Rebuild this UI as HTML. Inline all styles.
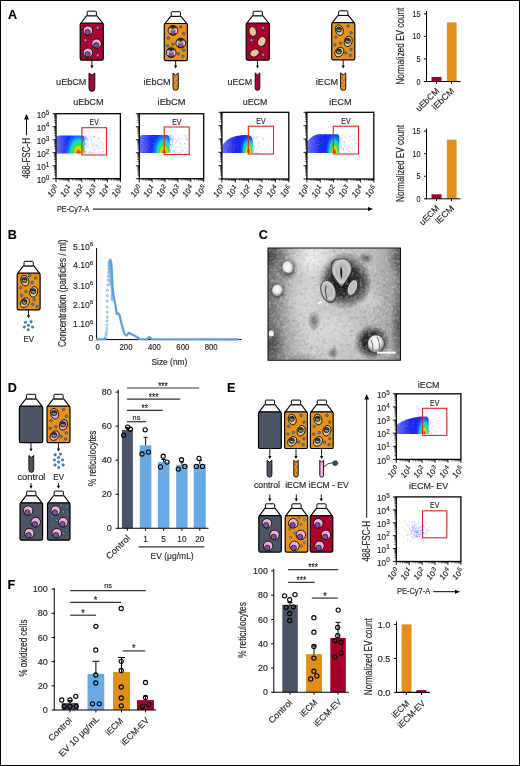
<!DOCTYPE html>
<html><head><meta charset="utf-8"><style>
html,body{margin:0;padding:0;background:#fff;}
body{width:520px;height:766px;overflow:hidden;font-family:"Liberation Sans", sans-serif;}
svg{display:block;will-change:transform;}
svg text{stroke:#231f20;stroke-width:0.15px;}
</style></head><body>
<svg width="520" height="766" viewBox="0 0 520 766" font-family='"Liberation Sans", sans-serif' fill="#231f20">
<rect x="0" y="0" width="520" height="766" fill="#fff"/>
<defs><filter id="speck" x="0" y="0" width="1" height="1"><feTurbulence type="fractalNoise" baseFrequency="0.9" numOctaves="1" seed="2"/><feColorMatrix type="matrix" values="0 0 0 0 1  0 0 0 0 1  0 0 0 0 1  0 0 0 2.2 -1.25"/></filter></defs>
<text x="8.1" y="18.5" font-size="12.6" font-weight="bold" fill="#000">A</text>
<path d="M80.5 23.5L86.55 15.8L96.95 15.8L103 23.5Z" fill="#fff" stroke="#000" stroke-width="1.1" stroke-linejoin="round"/>
<rect x="87.15" y="11.2" width="9.2" height="4.6" fill="#fff" stroke="#000" stroke-width="1" rx="0.8"/>
<rect x="80.2" y="23" width="23.1" height="37.2" fill="#b0002e" stroke="#000" stroke-width="1.2" rx="1.6"/>
<circle cx="87.9" cy="30.7" r="4.8" fill="#f2aed6" stroke="#111" stroke-width="1"/>
<circle cx="87.6" cy="32.2" r="2.64" fill="#7b53a8" stroke="#111" stroke-width="0.8"/>
<circle cx="96.5" cy="43.7" r="4.8" fill="#f2aed6" stroke="#111" stroke-width="1"/>
<circle cx="96.2" cy="45.2" r="2.64" fill="#7b53a8" stroke="#111" stroke-width="0.8"/>
<circle cx="87.9" cy="52.8" r="4.8" fill="#f2aed6" stroke="#111" stroke-width="1"/>
<circle cx="87.6" cy="54.3" r="2.64" fill="#7b53a8" stroke="#111" stroke-width="0.8"/>
<circle cx="97.7" cy="27.8" r="1.3" fill="#5cc4f2" stroke="#1a1a1a" stroke-width="0.45"/>
<circle cx="85.5" cy="40.3" r="1.3" fill="#5cc4f2" stroke="#1a1a1a" stroke-width="0.45"/>
<circle cx="97.7" cy="55.2" r="1.3" fill="#5cc4f2" stroke="#1a1a1a" stroke-width="0.45"/>
<line x1="91.9" y1="60.2" x2="91.9" y2="66" stroke="#000" stroke-width="0.9"/>
<path d="M90.3 65.6L93.5 65.6L91.9 68.6Z" fill="#000"/>
<path d="M89 73.1L91.9 75.1L94.8 73.1L94.8 88.4A2.9 2.9 0 0 1 89 88.4Z" fill="#b0002e" stroke="#111" stroke-width="1.0" stroke-linejoin="round"/>
<circle cx="91.1" cy="77" r="0.6" fill="#4a5a9a"/>
<circle cx="92.7" cy="80" r="0.6" fill="#4a5a9a"/>
<circle cx="91.1" cy="83" r="0.6" fill="#4a5a9a"/>
<circle cx="92.7" cy="86" r="0.6" fill="#4a5a9a"/>
<circle cx="91.1" cy="89" r="0.6" fill="#4a5a9a"/>
<text x="86.4" y="85" font-size="8.9" text-anchor="end" textLength="30.3" lengthAdjust="spacingAndGlyphs">uEbCM</text>
<path d="M164.6 24L170.65 16.3L181.05 16.3L187.1 24Z" fill="#fff" stroke="#000" stroke-width="1.1" stroke-linejoin="round"/>
<rect x="171.25" y="11.7" width="9.2" height="4.6" fill="#fff" stroke="#000" stroke-width="1" rx="0.8"/>
<rect x="164.3" y="23.5" width="23.1" height="37.2" fill="#ea9218" stroke="#000" stroke-width="1.2" rx="1.6"/>
<circle cx="173" cy="30.4" r="4.9" fill="#2a2040" stroke="#111" stroke-width="0.9"/>
<ellipse cx="169.96" cy="30.6" rx="1.37" ry="2.7" fill="#f2aed6"/>
<ellipse cx="176.04" cy="30.6" rx="1.37" ry="2.7" fill="#f2aed6"/>
<circle cx="173" cy="31.62" r="2.55" fill="#7b53a8"/>
<path d="M170.94 27.7A2.06 2.06 0 0 0 175.06 27.7" stroke="#8cc63f" stroke-width="1.5" fill="none"/>
<circle cx="180.8" cy="43.1" r="4.9" fill="#2a2040" stroke="#111" stroke-width="0.9"/>
<ellipse cx="177.76" cy="43.3" rx="1.37" ry="2.7" fill="#f2aed6"/>
<ellipse cx="183.84" cy="43.3" rx="1.37" ry="2.7" fill="#f2aed6"/>
<circle cx="180.8" cy="44.33" r="2.55" fill="#7b53a8"/>
<path d="M178.74 40.41A2.06 2.06 0 0 0 182.86 40.41" stroke="#8cc63f" stroke-width="1.5" fill="none"/>
<circle cx="171.2" cy="52.6" r="4.9" fill="#2a2040" stroke="#111" stroke-width="0.9"/>
<ellipse cx="168.16" cy="52.8" rx="1.37" ry="2.7" fill="#f2aed6"/>
<ellipse cx="174.24" cy="52.8" rx="1.37" ry="2.7" fill="#f2aed6"/>
<circle cx="171.2" cy="53.83" r="2.55" fill="#7b53a8"/>
<path d="M169.14 49.91A2.06 2.06 0 0 0 173.26 49.91" stroke="#8cc63f" stroke-width="1.5" fill="none"/>
<circle cx="180.8" cy="27" r="1.3" fill="#3b8fd9" stroke="#1a1a1a" stroke-width="0.45"/>
<circle cx="183.7" cy="33.7" r="1.3" fill="#3b8fd9" stroke="#1a1a1a" stroke-width="0.45"/>
<circle cx="168.3" cy="38" r="1.3" fill="#3b8fd9" stroke="#1a1a1a" stroke-width="0.45"/>
<circle cx="173.1" cy="44.2" r="1.3" fill="#3b8fd9" stroke="#1a1a1a" stroke-width="0.45"/>
<circle cx="167.6" cy="45.7" r="1.3" fill="#3b8fd9" stroke="#1a1a1a" stroke-width="0.45"/>
<circle cx="183.7" cy="50.3" r="1.3" fill="#3b8fd9" stroke="#1a1a1a" stroke-width="0.45"/>
<circle cx="178.4" cy="53.9" r="1.3" fill="#3b8fd9" stroke="#1a1a1a" stroke-width="0.45"/>
<circle cx="182.9" cy="56.3" r="1.3" fill="#3b8fd9" stroke="#1a1a1a" stroke-width="0.45"/>
<line x1="175.65" y1="60.7" x2="175.65" y2="66" stroke="#000" stroke-width="0.9"/>
<path d="M174.05 65.6L177.25 65.6L175.65 68.6Z" fill="#000"/>
<path d="M173 73.2L175.65 75.2L178.3 73.2L178.3 87.65A2.65 2.65 0 0 1 173 87.65Z" fill="#ea9218" stroke="#111" stroke-width="1.0" stroke-linejoin="round"/>
<circle cx="174.85" cy="77" r="0.6" fill="#3a3550"/>
<circle cx="176.45" cy="80" r="0.6" fill="#3a3550"/>
<circle cx="174.85" cy="83" r="0.6" fill="#3a3550"/>
<circle cx="176.45" cy="86" r="0.6" fill="#3a3550"/>
<text x="170.5" y="85" font-size="8.9" text-anchor="end" textLength="27" lengthAdjust="spacingAndGlyphs">iEbCM</text>
<path d="M246.5 23.5L252.55 15.8L262.95 15.8L269 23.5Z" fill="#fff" stroke="#000" stroke-width="1.1" stroke-linejoin="round"/>
<rect x="253.15" y="11.2" width="9.2" height="4.6" fill="#fff" stroke="#000" stroke-width="1" rx="0.8"/>
<rect x="246.2" y="23" width="23.1" height="37.2" fill="#b0002e" stroke="#000" stroke-width="1.2" rx="1.6"/>
<ellipse cx="252.7" cy="31.5" rx="3.7" ry="5" fill="#e8c497" stroke="#111" stroke-width="0.9" transform="rotate(-15 252.7 31.5)"/>
<ellipse cx="261.8" cy="41.5" rx="4" ry="5.2" fill="#e8c497" stroke="#111" stroke-width="0.9" transform="rotate(25 261.8 41.5)"/>
<ellipse cx="254.6" cy="53" rx="4.8" ry="3.7" fill="#e8c497" stroke="#111" stroke-width="0.9" transform="rotate(-25 254.6 53)"/>
<circle cx="263.3" cy="27.8" r="1.3" fill="#5cc4f2" stroke="#1a1a1a" stroke-width="0.45"/>
<circle cx="251.4" cy="40.2" r="1.3" fill="#5cc4f2" stroke="#1a1a1a" stroke-width="0.45"/>
<circle cx="263.1" cy="54.9" r="1.3" fill="#5cc4f2" stroke="#1a1a1a" stroke-width="0.45"/>
<line x1="257.5" y1="60.2" x2="257.5" y2="66" stroke="#000" stroke-width="0.9"/>
<path d="M255.9 65.6L259.1 65.6L257.5 68.6Z" fill="#000"/>
<path d="M255.2 72.9L257.5 74.9L259.8 72.9L259.8 88A2.3 2.3 0 0 1 255.2 88Z" fill="#b0002e" stroke="#111" stroke-width="1.0" stroke-linejoin="round"/>
<circle cx="256.7" cy="77" r="0.6" fill="#4a5a9a"/>
<circle cx="258.3" cy="80" r="0.6" fill="#4a5a9a"/>
<circle cx="256.7" cy="83" r="0.6" fill="#4a5a9a"/>
<circle cx="258.3" cy="86" r="0.6" fill="#4a5a9a"/>
<text x="252.2" y="85" font-size="8.9" text-anchor="end" textLength="24.7" lengthAdjust="spacingAndGlyphs">uECM</text>
<path d="M332 23.1L338.05 15.4L348.45 15.4L354.5 23.1Z" fill="#fff" stroke="#000" stroke-width="1.1" stroke-linejoin="round"/>
<rect x="338.65" y="10.8" width="9.2" height="4.6" fill="#fff" stroke="#000" stroke-width="1" rx="0.8"/>
<rect x="331.7" y="22.6" width="23.1" height="37.2" fill="#ea9218" stroke="#000" stroke-width="1.2" rx="1.6"/>
<ellipse cx="339.3" cy="30.2" rx="3.9" ry="5.4" fill="#e8c497" stroke="#111" stroke-width="0.9" transform="rotate(-18 339.3 30.2)"/>
<circle cx="338.9" cy="29.5" r="2.7" fill="#2f2d40" stroke="#111" stroke-width="0.5"/>
<path d="M337.4 29.4A1.7 1.7 0 0 0 340.4 29.9" stroke="#8cc63f" stroke-width="1.4" fill="none"/>
<ellipse cx="348.2" cy="41.4" rx="3.9" ry="5.4" fill="#e8c497" stroke="#111" stroke-width="0.9" transform="rotate(18 348.2 41.4)"/>
<circle cx="347.8" cy="40.7" r="2.7" fill="#2f2d40" stroke="#111" stroke-width="0.5"/>
<path d="M346.3 40.6A1.7 1.7 0 0 0 349.3 41.1" stroke="#8cc63f" stroke-width="1.4" fill="none"/>
<ellipse cx="339.3" cy="52.1" rx="4" ry="5.3" fill="#e8c497" stroke="#111" stroke-width="0.9" transform="rotate(40 339.3 52.1)"/>
<circle cx="338.9" cy="51.4" r="2.7" fill="#2f2d40" stroke="#111" stroke-width="0.5"/>
<path d="M337.4 51.3A1.7 1.7 0 0 0 340.4 51.8" stroke="#8cc63f" stroke-width="1.4" fill="none"/>
<circle cx="348.2" cy="26.1" r="1.3" fill="#3b8fd9" stroke="#1a1a1a" stroke-width="0.45"/>
<circle cx="351.1" cy="32.8" r="1.3" fill="#3b8fd9" stroke="#1a1a1a" stroke-width="0.45"/>
<circle cx="335.7" cy="37.1" r="1.3" fill="#3b8fd9" stroke="#1a1a1a" stroke-width="0.45"/>
<circle cx="340.5" cy="43.3" r="1.3" fill="#3b8fd9" stroke="#1a1a1a" stroke-width="0.45"/>
<circle cx="335" cy="44.8" r="1.3" fill="#3b8fd9" stroke="#1a1a1a" stroke-width="0.45"/>
<circle cx="351.1" cy="49.4" r="1.3" fill="#3b8fd9" stroke="#1a1a1a" stroke-width="0.45"/>
<circle cx="345.8" cy="53" r="1.3" fill="#3b8fd9" stroke="#1a1a1a" stroke-width="0.45"/>
<circle cx="350.3" cy="55.4" r="1.3" fill="#3b8fd9" stroke="#1a1a1a" stroke-width="0.45"/>
<line x1="343.2" y1="59.8" x2="343.2" y2="66" stroke="#000" stroke-width="0.9"/>
<path d="M341.6 65.6L344.8 65.6L343.2 68.6Z" fill="#000"/>
<path d="M340.6 72.9L343.2 74.9L345.8 72.9L345.8 87.7A2.6 2.6 0 0 1 340.6 87.7Z" fill="#ea9218" stroke="#111" stroke-width="1.0" stroke-linejoin="round"/>
<circle cx="342.4" cy="77" r="0.6" fill="#3a3550"/>
<circle cx="344" cy="80" r="0.6" fill="#3a3550"/>
<circle cx="342.4" cy="83" r="0.6" fill="#3a3550"/>
<circle cx="344" cy="86" r="0.6" fill="#3a3550"/>
<text x="338.2" y="85" font-size="8.9" text-anchor="end" textLength="22.4" lengthAdjust="spacingAndGlyphs">iECM</text>
<rect x="87.15" y="138.29" width="0.7" height="0.7" fill="#4a5af0" opacity="0.46"/>
<rect x="84.77" y="145.41" width="0.7" height="0.7" fill="#4a5af0" opacity="0.35"/>
<rect x="84.72" y="144.89" width="0.7" height="0.7" fill="#4a5af0" opacity="0.21"/>
<rect x="88.91" y="136.79" width="0.7" height="0.7" fill="#4a5af0" opacity="0.24"/>
<rect x="88.75" y="150.8" width="0.7" height="0.7" fill="#4a5af0" opacity="0.25"/>
<rect x="85.9" y="147.11" width="0.7" height="0.7" fill="#4a5af0" opacity="0.58"/>
<rect x="91.81" y="142.84" width="0.7" height="0.7" fill="#4a5af0" opacity="0.59"/>
<rect x="84.68" y="151.38" width="0.7" height="0.7" fill="#4a5af0" opacity="0.32"/>
<rect x="85.19" y="137.68" width="0.7" height="0.7" fill="#4a5af0" opacity="0.32"/>
<rect x="98.06" y="138.84" width="0.7" height="0.7" fill="#4a5af0" opacity="0.43"/>
<rect x="93.26" y="142.39" width="0.7" height="0.7" fill="#4a5af0" opacity="0.42"/>
<rect x="84.73" y="136.6" width="0.7" height="0.7" fill="#4a5af0" opacity="0.28"/>
<rect x="94.3" y="143.41" width="0.7" height="0.7" fill="#4a5af0" opacity="0.33"/>
<rect x="92" y="143.88" width="0.7" height="0.7" fill="#4a5af0" opacity="0.32"/>
<rect x="97.42" y="148.43" width="0.7" height="0.7" fill="#4a5af0" opacity="0.3"/>
<rect x="91.75" y="145.22" width="0.7" height="0.7" fill="#4a5af0" opacity="0.55"/>
<rect x="95.59" y="140.83" width="0.7" height="0.7" fill="#4a5af0" opacity="0.59"/>
<rect x="85.01" y="143.24" width="0.7" height="0.7" fill="#4a5af0" opacity="0.5"/>
<rect x="85.25" y="144.55" width="0.7" height="0.7" fill="#4a5af0" opacity="0.22"/>
<rect x="93.99" y="149.64" width="0.7" height="0.7" fill="#4a5af0" opacity="0.43"/>
<rect x="99.87" y="141.3" width="0.7" height="0.7" fill="#4a5af0" opacity="0.48"/>
<rect x="92.21" y="146.23" width="0.7" height="0.7" fill="#4a5af0" opacity="0.38"/>
<rect x="98.77" y="152.98" width="0.7" height="0.7" fill="#4a5af0" opacity="0.39"/>
<rect x="93.89" y="136.62" width="0.7" height="0.7" fill="#4a5af0" opacity="0.48"/>
<rect x="93.46" y="153.87" width="0.7" height="0.7" fill="#4a5af0" opacity="0.53"/>
<rect x="86.62" y="142.64" width="0.7" height="0.7" fill="#4a5af0" opacity="0.47"/>
<rect x="84.62" y="144.04" width="0.7" height="0.7" fill="#4a5af0" opacity="0.27"/>
<rect x="85.01" y="136.59" width="0.7" height="0.7" fill="#4a5af0" opacity="0.51"/>
<rect x="85.09" y="140.08" width="0.7" height="0.7" fill="#4a5af0" opacity="0.36"/>
<rect x="99.74" y="136.99" width="0.7" height="0.7" fill="#4a5af0" opacity="0.38"/>
<rect x="91.2" y="151.84" width="0.7" height="0.7" fill="#4a5af0" opacity="0.53"/>
<rect x="99.51" y="140.65" width="0.7" height="0.7" fill="#4a5af0" opacity="0.37"/>
<rect x="87.67" y="151.86" width="0.7" height="0.7" fill="#4a5af0" opacity="0.58"/>
<rect x="85.24" y="138.76" width="0.7" height="0.7" fill="#4a5af0" opacity="0.29"/>
<rect x="86.01" y="144.47" width="0.7" height="0.7" fill="#4a5af0" opacity="0.44"/>
<rect x="86.35" y="135.58" width="0.7" height="0.7" fill="#4a5af0" opacity="0.37"/>
<rect x="87.83" y="145.98" width="0.7" height="0.7" fill="#4a5af0" opacity="0.58"/>
<rect x="94.56" y="145.04" width="0.7" height="0.7" fill="#4a5af0" opacity="0.45"/>
<rect x="94.19" y="136.5" width="0.7" height="0.7" fill="#4a5af0" opacity="0.56"/>
<rect x="97" y="151.68" width="0.7" height="0.7" fill="#4a5af0" opacity="0.52"/>
<rect x="88.2" y="142.88" width="0.7" height="0.7" fill="#4a5af0" opacity="0.24"/>
<rect x="93.15" y="136.65" width="0.7" height="0.7" fill="#4a5af0" opacity="0.23"/>
<rect x="85.76" y="138.5" width="0.7" height="0.7" fill="#4a5af0" opacity="0.34"/>
<rect x="84.7" y="135.5" width="0.7" height="0.7" fill="#4a5af0" opacity="0.26"/>
<rect x="84.92" y="142.23" width="0.7" height="0.7" fill="#4a5af0" opacity="0.21"/>
<rect x="99.83" y="146.86" width="0.7" height="0.7" fill="#4a5af0" opacity="0.26"/>
<rect x="86.23" y="141.93" width="0.7" height="0.7" fill="#4a5af0" opacity="0.35"/>
<rect x="85.05" y="151.21" width="0.7" height="0.7" fill="#4a5af0" opacity="0.6"/>
<rect x="89.51" y="144.45" width="0.7" height="0.7" fill="#4a5af0" opacity="0.23"/>
<rect x="84.92" y="141.84" width="0.7" height="0.7" fill="#4a5af0" opacity="0.31"/>
<rect x="98.44" y="138.49" width="0.7" height="0.7" fill="#4a5af0" opacity="0.21"/>
<rect x="102.32" y="145.27" width="0.7" height="0.7" fill="#4a5af0" opacity="0.26"/>
<rect x="91.07" y="136" width="0.7" height="0.7" fill="#4a5af0" opacity="0.41"/>
<rect x="103.26" y="151.47" width="0.7" height="0.7" fill="#4a5af0" opacity="0.48"/>
<rect x="86.33" y="142.28" width="0.7" height="0.7" fill="#4a5af0" opacity="0.27"/>
<rect x="96.77" y="145.35" width="0.7" height="0.7" fill="#4a5af0" opacity="0.51"/>
<rect x="87.23" y="139.63" width="0.7" height="0.7" fill="#4a5af0" opacity="0.52"/>
<rect x="103.48" y="151.27" width="0.7" height="0.7" fill="#4a5af0" opacity="0.52"/>
<rect x="98.12" y="149.19" width="0.7" height="0.7" fill="#4a5af0" opacity="0.29"/>
<rect x="90.53" y="142.08" width="0.7" height="0.7" fill="#4a5af0" opacity="0.21"/>
<rect x="84.63" y="140.67" width="0.7" height="0.7" fill="#4a5af0" opacity="0.3"/>
<rect x="94.61" y="153.2" width="0.7" height="0.7" fill="#4a5af0" opacity="0.38"/>
<rect x="101.86" y="153.78" width="0.7" height="0.7" fill="#4a5af0" opacity="0.58"/>
<rect x="87.76" y="139.58" width="0.7" height="0.7" fill="#4a5af0" opacity="0.29"/>
<rect x="85.64" y="139.28" width="0.7" height="0.7" fill="#4a5af0" opacity="0.45"/>
<rect x="100.66" y="151.05" width="0.7" height="0.7" fill="#4a5af0" opacity="0.39"/>
<rect x="93.61" y="150.29" width="0.7" height="0.7" fill="#4a5af0" opacity="0.23"/>
<rect x="93.8" y="152.33" width="0.7" height="0.7" fill="#4a5af0" opacity="0.51"/>
<rect x="96.16" y="144.34" width="0.7" height="0.7" fill="#4a5af0" opacity="0.27"/>
<rect x="97.27" y="141.65" width="0.7" height="0.7" fill="#4a5af0" opacity="0.52"/>
<rect x="103.02" y="142.82" width="0.7" height="0.7" fill="#4a5af0" opacity="0.36"/>
<rect x="102.18" y="148.91" width="0.7" height="0.7" fill="#4a5af0" opacity="0.27"/>
<rect x="85.07" y="138.3" width="0.7" height="0.7" fill="#4a5af0" opacity="0.56"/>
<rect x="97.77" y="138.2" width="0.7" height="0.7" fill="#4a5af0" opacity="0.53"/>
<rect x="103.32" y="147.66" width="0.7" height="0.7" fill="#4a5af0" opacity="0.34"/>
<rect x="91.18" y="137.92" width="0.7" height="0.7" fill="#4a5af0" opacity="0.21"/>
<rect x="103" y="147.52" width="0.7" height="0.7" fill="#4a5af0" opacity="0.41"/>
<rect x="101.74" y="143.53" width="0.7" height="0.7" fill="#4a5af0" opacity="0.55"/>
<rect x="98.36" y="139.4" width="0.7" height="0.7" fill="#4a5af0" opacity="0.3"/>
<rect x="86.73" y="139.95" width="0.7" height="0.7" fill="#4a5af0" opacity="0.43"/>
<rect x="86.31" y="143.25" width="0.7" height="0.7" fill="#4a5af0" opacity="0.25"/>
<rect x="100.97" y="142.05" width="0.7" height="0.7" fill="#4a5af0" opacity="0.38"/>
<rect x="91.95" y="152.23" width="0.7" height="0.7" fill="#4a5af0" opacity="0.37"/>
<rect x="101.22" y="144.78" width="0.7" height="0.7" fill="#4a5af0" opacity="0.41"/>
<rect x="90.65" y="135.85" width="0.7" height="0.7" fill="#4a5af0" opacity="0.38"/>
<rect x="85.51" y="135.57" width="0.7" height="0.7" fill="#4a5af0" opacity="0.52"/>
<rect x="85.42" y="144.26" width="0.7" height="0.7" fill="#4a5af0" opacity="0.49"/>
<rect x="91.35" y="141.53" width="0.7" height="0.7" fill="#4a5af0" opacity="0.41"/>
<rect x="91.33" y="150.01" width="0.7" height="0.7" fill="#4a5af0" opacity="0.24"/>
<rect x="91.44" y="140.1" width="0.7" height="0.7" fill="#4a5af0" opacity="0.31"/>
<rect x="96.78" y="144.89" width="0.7" height="0.7" fill="#4a5af0" opacity="0.42"/>
<rect x="96.44" y="152.38" width="0.7" height="0.7" fill="#4a5af0" opacity="0.38"/>
<rect x="92.63" y="144.85" width="0.7" height="0.7" fill="#4a5af0" opacity="0.4"/>
<rect x="94.62" y="143.87" width="0.7" height="0.7" fill="#4a5af0" opacity="0.41"/>
<rect x="89.74" y="152.92" width="0.7" height="0.7" fill="#4a5af0" opacity="0.48"/>
<rect x="99.9" y="152.93" width="0.7" height="0.7" fill="#4a5af0" opacity="0.3"/>
<rect x="91.42" y="152.95" width="0.7" height="0.7" fill="#4a5af0" opacity="0.54"/>
<rect x="85.14" y="137.75" width="0.7" height="0.7" fill="#4a5af0" opacity="0.38"/>
<rect x="84.77" y="139.95" width="0.7" height="0.7" fill="#4a5af0" opacity="0.23"/>
<rect x="94.02" y="150" width="0.7" height="0.7" fill="#4a5af0" opacity="0.56"/>
<rect x="85.27" y="148.75" width="0.7" height="0.7" fill="#4a5af0" opacity="0.46"/>
<rect x="85.19" y="151.83" width="0.7" height="0.7" fill="#4a5af0" opacity="0.59"/>
<rect x="85.87" y="153.12" width="0.7" height="0.7" fill="#4a5af0" opacity="0.36"/>
<rect x="89.92" y="153.81" width="0.7" height="0.7" fill="#4a5af0" opacity="0.53"/>
<rect x="85.33" y="143.48" width="0.7" height="0.7" fill="#4a5af0" opacity="0.41"/>
<rect x="87.37" y="139.12" width="0.7" height="0.7" fill="#4a5af0" opacity="0.33"/>
<rect x="95.4" y="135.86" width="0.7" height="0.7" fill="#4a5af0" opacity="0.42"/>
<rect x="89.03" y="135.83" width="0.7" height="0.7" fill="#4a5af0" opacity="0.33"/>
<rect x="92.9" y="144.98" width="0.7" height="0.7" fill="#4a5af0" opacity="0.23"/>
<rect x="103.48" y="150.08" width="0.7" height="0.7" fill="#4a5af0" opacity="0.59"/>
<rect x="84.93" y="140.41" width="0.7" height="0.7" fill="#4a5af0" opacity="0.22"/>
<rect x="96.98" y="140.5" width="0.7" height="0.7" fill="#4a5af0" opacity="0.25"/>
<rect x="88.71" y="152.36" width="0.7" height="0.7" fill="#4a5af0" opacity="0.53"/>
<rect x="86.3" y="138.26" width="0.7" height="0.7" fill="#4a5af0" opacity="0.57"/>
<rect x="91.67" y="148.46" width="0.7" height="0.7" fill="#4a5af0" opacity="0.24"/>
<rect x="84.71" y="148.23" width="0.7" height="0.7" fill="#4a5af0" opacity="0.37"/>
<rect x="84.77" y="152.86" width="0.7" height="0.7" fill="#4a5af0" opacity="0.45"/>
<rect x="97.63" y="137.05" width="0.7" height="0.7" fill="#4a5af0" opacity="0.54"/>
<rect x="84.75" y="151.46" width="0.7" height="0.7" fill="#4a5af0" opacity="0.38"/>
<rect x="87.37" y="145.73" width="0.7" height="0.7" fill="#4a5af0" opacity="0.57"/>
<rect x="86.41" y="137.89" width="0.7" height="0.7" fill="#4a5af0" opacity="0.41"/>
<rect x="86.07" y="137.52" width="0.7" height="0.7" fill="#4a5af0" opacity="0.26"/>
<rect x="84.69" y="139.23" width="0.7" height="0.7" fill="#4a5af0" opacity="0.32"/>
<rect x="86.89" y="149.55" width="0.7" height="0.7" fill="#4a5af0" opacity="0.32"/>
<rect x="90.17" y="138.79" width="0.7" height="0.7" fill="#4a5af0" opacity="0.34"/>
<rect x="84.61" y="140.13" width="0.7" height="0.7" fill="#4a5af0" opacity="0.21"/>
<rect x="95.69" y="145.69" width="0.7" height="0.7" fill="#4a5af0" opacity="0.28"/>
<rect x="89.68" y="152.79" width="0.7" height="0.7" fill="#4a5af0" opacity="0.24"/>
<rect x="98.14" y="143.5" width="0.7" height="0.7" fill="#4a5af0" opacity="0.4"/>
<rect x="98.61" y="142.77" width="0.7" height="0.7" fill="#4a5af0" opacity="0.4"/>
<rect x="94.49" y="153.68" width="0.7" height="0.7" fill="#4a5af0" opacity="0.34"/>
<rect x="98.54" y="148.57" width="0.7" height="0.7" fill="#4a5af0" opacity="0.45"/>
<rect x="88.41" y="141.93" width="0.7" height="0.7" fill="#4a5af0" opacity="0.22"/>
<rect x="85.09" y="136.81" width="0.7" height="0.7" fill="#4a5af0" opacity="0.5"/>
<rect x="86.26" y="138.52" width="0.7" height="0.7" fill="#4a5af0" opacity="0.23"/>
<rect x="98.81" y="151.6" width="0.7" height="0.7" fill="#4a5af0" opacity="0.47"/>
<rect x="86.59" y="139.98" width="0.7" height="0.7" fill="#4a5af0" opacity="0.32"/>
<rect x="89.38" y="138.41" width="0.7" height="0.7" fill="#4a5af0" opacity="0.38"/>
<rect x="86.36" y="153.29" width="0.7" height="0.7" fill="#4a5af0" opacity="0.59"/>
<rect x="91.15" y="140.02" width="0.7" height="0.7" fill="#4a5af0" opacity="0.59"/>
<rect x="86.95" y="142.1" width="0.7" height="0.7" fill="#4a5af0" opacity="0.2"/>
<rect x="88.03" y="144.28" width="0.7" height="0.7" fill="#4a5af0" opacity="0.4"/>
<rect x="85.68" y="144.84" width="0.7" height="0.7" fill="#4a5af0" opacity="0.2"/>
<rect x="86.37" y="137.16" width="0.7" height="0.7" fill="#4a5af0" opacity="0.36"/>
<rect x="84.66" y="135.92" width="0.7" height="0.7" fill="#4a5af0" opacity="0.32"/>
<rect x="86.01" y="146.33" width="0.7" height="0.7" fill="#4a5af0" opacity="0.41"/>
<rect x="96.17" y="147.66" width="0.7" height="0.7" fill="#4a5af0" opacity="0.49"/>
<rect x="99.98" y="142.71" width="0.7" height="0.7" fill="#4a5af0" opacity="0.33"/>
<rect x="103.47" y="138.27" width="0.7" height="0.7" fill="#4a5af0" opacity="0.49"/>
<rect x="93.37" y="136.31" width="0.7" height="0.7" fill="#4a5af0" opacity="0.53"/>
<rect x="100.39" y="147.11" width="0.7" height="0.7" fill="#4a5af0" opacity="0.49"/>
<rect x="97.94" y="138.08" width="0.7" height="0.7" fill="#4a5af0" opacity="0.41"/>
<rect x="90.26" y="150.95" width="0.7" height="0.7" fill="#4a5af0" opacity="0.52"/>
<rect x="98.36" y="146.31" width="0.7" height="0.7" fill="#4a5af0" opacity="0.56"/>
<rect x="94.36" y="148.33" width="0.7" height="0.7" fill="#4a5af0" opacity="0.29"/>
<rect x="84.64" y="137.96" width="0.7" height="0.7" fill="#4a5af0" opacity="0.34"/>
<rect x="84.94" y="150.96" width="0.7" height="0.7" fill="#4a5af0" opacity="0.42"/>
<rect x="92.99" y="147.09" width="0.7" height="0.7" fill="#4a5af0" opacity="0.47"/>
<rect x="89.96" y="135.56" width="0.7" height="0.7" fill="#4a5af0" opacity="0.52"/>
<rect x="96.11" y="144.8" width="0.7" height="0.7" fill="#4a5af0" opacity="0.41"/>
<rect x="93.77" y="136.72" width="0.7" height="0.7" fill="#4a5af0" opacity="0.49"/>
<rect x="86.23" y="136.88" width="0.7" height="0.7" fill="#4a5af0" opacity="0.31"/>
<rect x="95.59" y="139.3" width="0.7" height="0.7" fill="#4a5af0" opacity="0.5"/>
<rect x="103.16" y="144.64" width="0.7" height="0.7" fill="#4a5af0" opacity="0.35"/>
<rect x="89.76" y="148.15" width="0.7" height="0.7" fill="#4a5af0" opacity="0.51"/>
<radialGradient id="g1" gradientUnits="userSpaceOnUse" cx="78.5" cy="153.5" r="17" gradientTransform="translate(78.5 153.5) scale(1 1.65) translate(-78.5 -153.5)"><stop offset="0" stop-color="#e8100c"/><stop offset="0.1" stop-color="#f06000"/><stop offset="0.2" stop-color="#f0e000"/><stop offset="0.32" stop-color="#40e030"/><stop offset="0.46" stop-color="#10d8e0"/><stop offset="0.62" stop-color="#1070f8"/><stop offset="0.8" stop-color="#1030f0"/><stop offset="1" stop-color="#1a28ee"/></radialGradient>
<clipPath id="g1c"><path d="M56.3 137 Q57 135.4 60 135.4 L82.5 135.4 Q84.6 135.6 84.6 139 L84.6 153.6 L56.3 153.6Z"/></clipPath>
<path d="M56.3 137 Q57 135.4 60 135.4 L82.5 135.4 Q84.6 135.6 84.6 139 L84.6 153.6 L56.3 153.6Z" fill="url(#g1)"/>
<linearGradient id="g1w" x1="0" x2="1" y1="0" y2="0"><stop offset="0" stop-color="#fff" stop-opacity="0.35"/><stop offset="0.5" stop-color="#fff" stop-opacity="0"/></linearGradient>
<g clip-path="url(#g1c)"><rect x="56" y="128.5" width="22.5" height="30" fill="url(#g1w)"/><rect x="56" y="128.5" width="13.5" height="30" fill="#fff" filter="url(#speck)" opacity="0.6"/></g>
<rect x="56" y="113.7" width="64.4" height="65" fill="none" stroke="#000" stroke-width="1.3"/>
<rect x="81.9" y="127.7" width="24.6" height="27.3" fill="none" stroke="#e8202a" stroke-width="1.1"/>
<text x="94.2" y="125.3" font-size="8.2" text-anchor="middle" textLength="9.2" lengthAdjust="spacingAndGlyphs">EV</text>
<line x1="52.6" y1="178.7" x2="56" y2="178.7" stroke="#000" stroke-width="0.9"/>
<line x1="54.1" y1="174.79" x2="56" y2="174.79" stroke="#000" stroke-width="0.6"/>
<line x1="54.1" y1="172.5" x2="56" y2="172.5" stroke="#000" stroke-width="0.6"/>
<line x1="54.1" y1="170.87" x2="56" y2="170.87" stroke="#000" stroke-width="0.6"/>
<line x1="54.1" y1="169.61" x2="56" y2="169.61" stroke="#000" stroke-width="0.6"/>
<line x1="54.1" y1="168.58" x2="56" y2="168.58" stroke="#000" stroke-width="0.6"/>
<line x1="54.1" y1="167.71" x2="56" y2="167.71" stroke="#000" stroke-width="0.6"/>
<line x1="54.1" y1="166.96" x2="56" y2="166.96" stroke="#000" stroke-width="0.6"/>
<line x1="54.1" y1="166.29" x2="56" y2="166.29" stroke="#000" stroke-width="0.6"/>
<line x1="56" y1="178.7" x2="56" y2="182.1" stroke="#000" stroke-width="0.9"/>
<line x1="59.88" y1="178.7" x2="59.88" y2="180.6" stroke="#000" stroke-width="0.6"/>
<line x1="62.15" y1="178.7" x2="62.15" y2="180.6" stroke="#000" stroke-width="0.6"/>
<line x1="63.75" y1="178.7" x2="63.75" y2="180.6" stroke="#000" stroke-width="0.6"/>
<line x1="65" y1="178.7" x2="65" y2="180.6" stroke="#000" stroke-width="0.6"/>
<line x1="66.02" y1="178.7" x2="66.02" y2="180.6" stroke="#000" stroke-width="0.6"/>
<line x1="66.88" y1="178.7" x2="66.88" y2="180.6" stroke="#000" stroke-width="0.6"/>
<line x1="67.63" y1="178.7" x2="67.63" y2="180.6" stroke="#000" stroke-width="0.6"/>
<line x1="68.29" y1="178.7" x2="68.29" y2="180.6" stroke="#000" stroke-width="0.6"/>
<text x="59.5" y="188.9" font-size="8" text-anchor="end" transform="rotate(-45 59.5 188.9)">10<tspan font-size="6.4" dy="-3.0">0</tspan></text>
<text x="49.4" y="182.9" font-size="8.2" text-anchor="end">10<tspan font-size="6.4" dy="-3.4">0</tspan></text>
<line x1="52.6" y1="165.7" x2="56" y2="165.7" stroke="#000" stroke-width="0.9"/>
<line x1="54.1" y1="161.79" x2="56" y2="161.79" stroke="#000" stroke-width="0.6"/>
<line x1="54.1" y1="159.5" x2="56" y2="159.5" stroke="#000" stroke-width="0.6"/>
<line x1="54.1" y1="157.87" x2="56" y2="157.87" stroke="#000" stroke-width="0.6"/>
<line x1="54.1" y1="156.61" x2="56" y2="156.61" stroke="#000" stroke-width="0.6"/>
<line x1="54.1" y1="155.58" x2="56" y2="155.58" stroke="#000" stroke-width="0.6"/>
<line x1="54.1" y1="154.71" x2="56" y2="154.71" stroke="#000" stroke-width="0.6"/>
<line x1="54.1" y1="153.96" x2="56" y2="153.96" stroke="#000" stroke-width="0.6"/>
<line x1="54.1" y1="153.29" x2="56" y2="153.29" stroke="#000" stroke-width="0.6"/>
<line x1="68.88" y1="178.7" x2="68.88" y2="182.1" stroke="#000" stroke-width="0.9"/>
<line x1="72.76" y1="178.7" x2="72.76" y2="180.6" stroke="#000" stroke-width="0.6"/>
<line x1="75.03" y1="178.7" x2="75.03" y2="180.6" stroke="#000" stroke-width="0.6"/>
<line x1="76.63" y1="178.7" x2="76.63" y2="180.6" stroke="#000" stroke-width="0.6"/>
<line x1="77.88" y1="178.7" x2="77.88" y2="180.6" stroke="#000" stroke-width="0.6"/>
<line x1="78.9" y1="178.7" x2="78.9" y2="180.6" stroke="#000" stroke-width="0.6"/>
<line x1="79.76" y1="178.7" x2="79.76" y2="180.6" stroke="#000" stroke-width="0.6"/>
<line x1="80.51" y1="178.7" x2="80.51" y2="180.6" stroke="#000" stroke-width="0.6"/>
<line x1="81.17" y1="178.7" x2="81.17" y2="180.6" stroke="#000" stroke-width="0.6"/>
<text x="72.38" y="188.9" font-size="8" text-anchor="end" transform="rotate(-45 72.38 188.9)">10<tspan font-size="6.4" dy="-3.0">1</tspan></text>
<text x="49.4" y="169.9" font-size="8.2" text-anchor="end">10<tspan font-size="6.4" dy="-3.4">1</tspan></text>
<line x1="52.6" y1="152.7" x2="56" y2="152.7" stroke="#000" stroke-width="0.9"/>
<line x1="54.1" y1="148.79" x2="56" y2="148.79" stroke="#000" stroke-width="0.6"/>
<line x1="54.1" y1="146.5" x2="56" y2="146.5" stroke="#000" stroke-width="0.6"/>
<line x1="54.1" y1="144.87" x2="56" y2="144.87" stroke="#000" stroke-width="0.6"/>
<line x1="54.1" y1="143.61" x2="56" y2="143.61" stroke="#000" stroke-width="0.6"/>
<line x1="54.1" y1="142.58" x2="56" y2="142.58" stroke="#000" stroke-width="0.6"/>
<line x1="54.1" y1="141.71" x2="56" y2="141.71" stroke="#000" stroke-width="0.6"/>
<line x1="54.1" y1="140.96" x2="56" y2="140.96" stroke="#000" stroke-width="0.6"/>
<line x1="54.1" y1="140.29" x2="56" y2="140.29" stroke="#000" stroke-width="0.6"/>
<line x1="81.76" y1="178.7" x2="81.76" y2="182.1" stroke="#000" stroke-width="0.9"/>
<line x1="85.64" y1="178.7" x2="85.64" y2="180.6" stroke="#000" stroke-width="0.6"/>
<line x1="87.91" y1="178.7" x2="87.91" y2="180.6" stroke="#000" stroke-width="0.6"/>
<line x1="89.51" y1="178.7" x2="89.51" y2="180.6" stroke="#000" stroke-width="0.6"/>
<line x1="90.76" y1="178.7" x2="90.76" y2="180.6" stroke="#000" stroke-width="0.6"/>
<line x1="91.78" y1="178.7" x2="91.78" y2="180.6" stroke="#000" stroke-width="0.6"/>
<line x1="92.64" y1="178.7" x2="92.64" y2="180.6" stroke="#000" stroke-width="0.6"/>
<line x1="93.39" y1="178.7" x2="93.39" y2="180.6" stroke="#000" stroke-width="0.6"/>
<line x1="94.05" y1="178.7" x2="94.05" y2="180.6" stroke="#000" stroke-width="0.6"/>
<text x="85.26" y="188.9" font-size="8" text-anchor="end" transform="rotate(-45 85.26 188.9)">10<tspan font-size="6.4" dy="-3.0">2</tspan></text>
<text x="49.4" y="156.9" font-size="8.2" text-anchor="end">10<tspan font-size="6.4" dy="-3.4">2</tspan></text>
<line x1="52.6" y1="139.7" x2="56" y2="139.7" stroke="#000" stroke-width="0.9"/>
<line x1="54.1" y1="135.79" x2="56" y2="135.79" stroke="#000" stroke-width="0.6"/>
<line x1="54.1" y1="133.5" x2="56" y2="133.5" stroke="#000" stroke-width="0.6"/>
<line x1="54.1" y1="131.87" x2="56" y2="131.87" stroke="#000" stroke-width="0.6"/>
<line x1="54.1" y1="130.61" x2="56" y2="130.61" stroke="#000" stroke-width="0.6"/>
<line x1="54.1" y1="129.58" x2="56" y2="129.58" stroke="#000" stroke-width="0.6"/>
<line x1="54.1" y1="128.71" x2="56" y2="128.71" stroke="#000" stroke-width="0.6"/>
<line x1="54.1" y1="127.96" x2="56" y2="127.96" stroke="#000" stroke-width="0.6"/>
<line x1="54.1" y1="127.29" x2="56" y2="127.29" stroke="#000" stroke-width="0.6"/>
<line x1="94.64" y1="178.7" x2="94.64" y2="182.1" stroke="#000" stroke-width="0.9"/>
<line x1="98.52" y1="178.7" x2="98.52" y2="180.6" stroke="#000" stroke-width="0.6"/>
<line x1="100.79" y1="178.7" x2="100.79" y2="180.6" stroke="#000" stroke-width="0.6"/>
<line x1="102.39" y1="178.7" x2="102.39" y2="180.6" stroke="#000" stroke-width="0.6"/>
<line x1="103.64" y1="178.7" x2="103.64" y2="180.6" stroke="#000" stroke-width="0.6"/>
<line x1="104.66" y1="178.7" x2="104.66" y2="180.6" stroke="#000" stroke-width="0.6"/>
<line x1="105.52" y1="178.7" x2="105.52" y2="180.6" stroke="#000" stroke-width="0.6"/>
<line x1="106.27" y1="178.7" x2="106.27" y2="180.6" stroke="#000" stroke-width="0.6"/>
<line x1="106.93" y1="178.7" x2="106.93" y2="180.6" stroke="#000" stroke-width="0.6"/>
<text x="98.14" y="188.9" font-size="8" text-anchor="end" transform="rotate(-45 98.14 188.9)">10<tspan font-size="6.4" dy="-3.0">3</tspan></text>
<text x="49.4" y="143.9" font-size="8.2" text-anchor="end">10<tspan font-size="6.4" dy="-3.4">3</tspan></text>
<line x1="52.6" y1="126.7" x2="56" y2="126.7" stroke="#000" stroke-width="0.9"/>
<line x1="54.1" y1="122.79" x2="56" y2="122.79" stroke="#000" stroke-width="0.6"/>
<line x1="54.1" y1="120.5" x2="56" y2="120.5" stroke="#000" stroke-width="0.6"/>
<line x1="54.1" y1="118.87" x2="56" y2="118.87" stroke="#000" stroke-width="0.6"/>
<line x1="54.1" y1="117.61" x2="56" y2="117.61" stroke="#000" stroke-width="0.6"/>
<line x1="54.1" y1="116.58" x2="56" y2="116.58" stroke="#000" stroke-width="0.6"/>
<line x1="54.1" y1="115.71" x2="56" y2="115.71" stroke="#000" stroke-width="0.6"/>
<line x1="54.1" y1="114.96" x2="56" y2="114.96" stroke="#000" stroke-width="0.6"/>
<line x1="54.1" y1="114.29" x2="56" y2="114.29" stroke="#000" stroke-width="0.6"/>
<line x1="107.52" y1="178.7" x2="107.52" y2="182.1" stroke="#000" stroke-width="0.9"/>
<line x1="111.4" y1="178.7" x2="111.4" y2="180.6" stroke="#000" stroke-width="0.6"/>
<line x1="113.67" y1="178.7" x2="113.67" y2="180.6" stroke="#000" stroke-width="0.6"/>
<line x1="115.27" y1="178.7" x2="115.27" y2="180.6" stroke="#000" stroke-width="0.6"/>
<line x1="116.52" y1="178.7" x2="116.52" y2="180.6" stroke="#000" stroke-width="0.6"/>
<line x1="117.54" y1="178.7" x2="117.54" y2="180.6" stroke="#000" stroke-width="0.6"/>
<line x1="118.4" y1="178.7" x2="118.4" y2="180.6" stroke="#000" stroke-width="0.6"/>
<line x1="119.15" y1="178.7" x2="119.15" y2="180.6" stroke="#000" stroke-width="0.6"/>
<line x1="119.81" y1="178.7" x2="119.81" y2="180.6" stroke="#000" stroke-width="0.6"/>
<text x="111.02" y="188.9" font-size="8" text-anchor="end" transform="rotate(-45 111.02 188.9)">10<tspan font-size="6.4" dy="-3.0">4</tspan></text>
<text x="49.4" y="130.9" font-size="8.2" text-anchor="end">10<tspan font-size="6.4" dy="-3.4">4</tspan></text>
<line x1="52.6" y1="113.7" x2="56" y2="113.7" stroke="#000" stroke-width="0.9"/>
<line x1="120.4" y1="178.7" x2="120.4" y2="182.1" stroke="#000" stroke-width="0.9"/>
<text x="123.9" y="188.9" font-size="8" text-anchor="end" transform="rotate(-45 123.9 188.9)">10<tspan font-size="6.4" dy="-3.0">5</tspan></text>
<text x="49.4" y="117.9" font-size="8.2" text-anchor="end">10<tspan font-size="6.4" dy="-3.4">5</tspan></text>
<text x="88.35" y="105.4" font-size="8.9" text-anchor="middle" textLength="30.1" lengthAdjust="spacingAndGlyphs">uEbCM</text>
<rect x="177.37" y="146.71" width="0.7" height="0.7" fill="#4a5af0" opacity="0.23"/>
<rect x="170.28" y="139.32" width="0.7" height="0.7" fill="#4a5af0" opacity="0.5"/>
<rect x="171.85" y="145.29" width="0.7" height="0.7" fill="#4a5af0" opacity="0.2"/>
<rect x="169.82" y="139.61" width="0.7" height="0.7" fill="#4a5af0" opacity="0.47"/>
<rect x="179.14" y="147.34" width="0.7" height="0.7" fill="#4a5af0" opacity="0.32"/>
<rect x="175.27" y="143.33" width="0.7" height="0.7" fill="#4a5af0" opacity="0.39"/>
<rect x="170.09" y="151.48" width="0.7" height="0.7" fill="#4a5af0" opacity="0.28"/>
<rect x="187.29" y="152.29" width="0.7" height="0.7" fill="#4a5af0" opacity="0.21"/>
<rect x="174.2" y="150.08" width="0.7" height="0.7" fill="#4a5af0" opacity="0.59"/>
<rect x="174.04" y="139.6" width="0.7" height="0.7" fill="#4a5af0" opacity="0.28"/>
<rect x="186.25" y="138.5" width="0.7" height="0.7" fill="#4a5af0" opacity="0.43"/>
<rect x="170.24" y="144.46" width="0.7" height="0.7" fill="#4a5af0" opacity="0.58"/>
<rect x="170.18" y="150.08" width="0.7" height="0.7" fill="#4a5af0" opacity="0.4"/>
<rect x="184.44" y="147.86" width="0.7" height="0.7" fill="#4a5af0" opacity="0.29"/>
<rect x="184.77" y="143.74" width="0.7" height="0.7" fill="#4a5af0" opacity="0.21"/>
<rect x="169.7" y="143.84" width="0.7" height="0.7" fill="#4a5af0" opacity="0.38"/>
<rect x="171.82" y="137.17" width="0.7" height="0.7" fill="#4a5af0" opacity="0.34"/>
<rect x="172" y="150.46" width="0.7" height="0.7" fill="#4a5af0" opacity="0.2"/>
<rect x="180.62" y="150.44" width="0.7" height="0.7" fill="#4a5af0" opacity="0.25"/>
<rect x="185.65" y="148.05" width="0.7" height="0.7" fill="#4a5af0" opacity="0.56"/>
<rect x="171.67" y="141.57" width="0.7" height="0.7" fill="#4a5af0" opacity="0.36"/>
<rect x="187.96" y="145.69" width="0.7" height="0.7" fill="#4a5af0" opacity="0.34"/>
<rect x="173.67" y="139.73" width="0.7" height="0.7" fill="#4a5af0" opacity="0.22"/>
<rect x="170" y="150.36" width="0.7" height="0.7" fill="#4a5af0" opacity="0.31"/>
<rect x="185.93" y="139.24" width="0.7" height="0.7" fill="#4a5af0" opacity="0.31"/>
<rect x="175.16" y="138.11" width="0.7" height="0.7" fill="#4a5af0" opacity="0.35"/>
<rect x="186.58" y="151.3" width="0.7" height="0.7" fill="#4a5af0" opacity="0.52"/>
<rect x="177.69" y="151.86" width="0.7" height="0.7" fill="#4a5af0" opacity="0.58"/>
<rect x="175.92" y="148.17" width="0.7" height="0.7" fill="#4a5af0" opacity="0.22"/>
<rect x="180.15" y="143.07" width="0.7" height="0.7" fill="#4a5af0" opacity="0.5"/>
<rect x="178" y="139.94" width="0.7" height="0.7" fill="#4a5af0" opacity="0.22"/>
<rect x="185.66" y="136.92" width="0.7" height="0.7" fill="#4a5af0" opacity="0.39"/>
<rect x="172.38" y="140.16" width="0.7" height="0.7" fill="#4a5af0" opacity="0.5"/>
<rect x="187.23" y="139.44" width="0.7" height="0.7" fill="#4a5af0" opacity="0.46"/>
<rect x="171.81" y="145.09" width="0.7" height="0.7" fill="#4a5af0" opacity="0.36"/>
<rect x="170.43" y="137.57" width="0.7" height="0.7" fill="#4a5af0" opacity="0.28"/>
<rect x="185.02" y="143.94" width="0.7" height="0.7" fill="#4a5af0" opacity="0.29"/>
<rect x="185.03" y="153.43" width="0.7" height="0.7" fill="#4a5af0" opacity="0.38"/>
<rect x="170.23" y="138.16" width="0.7" height="0.7" fill="#4a5af0" opacity="0.24"/>
<rect x="172.35" y="136.23" width="0.7" height="0.7" fill="#4a5af0" opacity="0.3"/>
<rect x="171.3" y="145.32" width="0.7" height="0.7" fill="#4a5af0" opacity="0.55"/>
<rect x="180.59" y="142.34" width="0.7" height="0.7" fill="#4a5af0" opacity="0.37"/>
<rect x="175.42" y="141.66" width="0.7" height="0.7" fill="#4a5af0" opacity="0.34"/>
<rect x="169.82" y="139.77" width="0.7" height="0.7" fill="#4a5af0" opacity="0.59"/>
<rect x="170.14" y="144.06" width="0.7" height="0.7" fill="#4a5af0" opacity="0.45"/>
<rect x="183.73" y="138.6" width="0.7" height="0.7" fill="#4a5af0" opacity="0.31"/>
<rect x="171.19" y="142.1" width="0.7" height="0.7" fill="#4a5af0" opacity="0.38"/>
<rect x="186.51" y="150.62" width="0.7" height="0.7" fill="#4a5af0" opacity="0.55"/>
<rect x="169.72" y="135.11" width="0.7" height="0.7" fill="#4a5af0" opacity="0.48"/>
<rect x="184.71" y="143.49" width="0.7" height="0.7" fill="#4a5af0" opacity="0.43"/>
<rect x="169.7" y="141.94" width="0.7" height="0.7" fill="#4a5af0" opacity="0.57"/>
<rect x="182.66" y="150.75" width="0.7" height="0.7" fill="#4a5af0" opacity="0.59"/>
<rect x="171.19" y="136.57" width="0.7" height="0.7" fill="#4a5af0" opacity="0.26"/>
<rect x="175.39" y="147.46" width="0.7" height="0.7" fill="#4a5af0" opacity="0.58"/>
<rect x="179.87" y="146.8" width="0.7" height="0.7" fill="#4a5af0" opacity="0.51"/>
<rect x="174.18" y="144.98" width="0.7" height="0.7" fill="#4a5af0" opacity="0.22"/>
<rect x="181.46" y="138.92" width="0.7" height="0.7" fill="#4a5af0" opacity="0.57"/>
<rect x="178.02" y="140.27" width="0.7" height="0.7" fill="#4a5af0" opacity="0.25"/>
<rect x="171.23" y="146.59" width="0.7" height="0.7" fill="#4a5af0" opacity="0.48"/>
<rect x="170.06" y="135.84" width="0.7" height="0.7" fill="#4a5af0" opacity="0.41"/>
<rect x="176.63" y="141.87" width="0.7" height="0.7" fill="#4a5af0" opacity="0.29"/>
<rect x="177.02" y="134.7" width="0.7" height="0.7" fill="#4a5af0" opacity="0.32"/>
<rect x="174.24" y="152.72" width="0.7" height="0.7" fill="#4a5af0" opacity="0.46"/>
<rect x="184.35" y="143.53" width="0.7" height="0.7" fill="#4a5af0" opacity="0.29"/>
<rect x="171.18" y="152.75" width="0.7" height="0.7" fill="#4a5af0" opacity="0.48"/>
<rect x="171.89" y="134.91" width="0.7" height="0.7" fill="#4a5af0" opacity="0.4"/>
<rect x="178.71" y="142.48" width="0.7" height="0.7" fill="#4a5af0" opacity="0.3"/>
<rect x="178.54" y="152.08" width="0.7" height="0.7" fill="#4a5af0" opacity="0.29"/>
<rect x="169.74" y="140.92" width="0.7" height="0.7" fill="#4a5af0" opacity="0.37"/>
<rect x="178.9" y="138.26" width="0.7" height="0.7" fill="#4a5af0" opacity="0.52"/>
<rect x="180.32" y="144.09" width="0.7" height="0.7" fill="#4a5af0" opacity="0.28"/>
<rect x="187.02" y="140.42" width="0.7" height="0.7" fill="#4a5af0" opacity="0.53"/>
<rect x="171.01" y="138.71" width="0.7" height="0.7" fill="#4a5af0" opacity="0.5"/>
<rect x="171.73" y="152.59" width="0.7" height="0.7" fill="#4a5af0" opacity="0.4"/>
<rect x="170.6" y="138.74" width="0.7" height="0.7" fill="#4a5af0" opacity="0.37"/>
<rect x="178.49" y="152.53" width="0.7" height="0.7" fill="#4a5af0" opacity="0.26"/>
<rect x="173.11" y="138.55" width="0.7" height="0.7" fill="#4a5af0" opacity="0.59"/>
<rect x="170.24" y="135.48" width="0.7" height="0.7" fill="#4a5af0" opacity="0.22"/>
<rect x="173.11" y="151.57" width="0.7" height="0.7" fill="#4a5af0" opacity="0.55"/>
<rect x="180.16" y="153.45" width="0.7" height="0.7" fill="#4a5af0" opacity="0.57"/>
<rect x="172.18" y="138.02" width="0.7" height="0.7" fill="#4a5af0" opacity="0.57"/>
<rect x="180.51" y="135.11" width="0.7" height="0.7" fill="#4a5af0" opacity="0.47"/>
<rect x="172.89" y="141.6" width="0.7" height="0.7" fill="#4a5af0" opacity="0.33"/>
<rect x="170.45" y="134.55" width="0.7" height="0.7" fill="#4a5af0" opacity="0.31"/>
<rect x="172.49" y="152.65" width="0.7" height="0.7" fill="#4a5af0" opacity="0.25"/>
<rect x="186.84" y="138.44" width="0.7" height="0.7" fill="#4a5af0" opacity="0.34"/>
<rect x="182.55" y="150.12" width="0.7" height="0.7" fill="#4a5af0" opacity="0.37"/>
<rect x="169.78" y="143.5" width="0.7" height="0.7" fill="#4a5af0" opacity="0.35"/>
<rect x="185.43" y="138.17" width="0.7" height="0.7" fill="#4a5af0" opacity="0.35"/>
<rect x="184.75" y="135.08" width="0.7" height="0.7" fill="#4a5af0" opacity="0.36"/>
<rect x="182.27" y="149.07" width="0.7" height="0.7" fill="#4a5af0" opacity="0.22"/>
<rect x="169.74" y="135.69" width="0.7" height="0.7" fill="#4a5af0" opacity="0.57"/>
<rect x="171.29" y="148.7" width="0.7" height="0.7" fill="#4a5af0" opacity="0.56"/>
<rect x="172.31" y="139.67" width="0.7" height="0.7" fill="#4a5af0" opacity="0.58"/>
<rect x="177.37" y="139.48" width="0.7" height="0.7" fill="#4a5af0" opacity="0.49"/>
<rect x="172.01" y="139.74" width="0.7" height="0.7" fill="#4a5af0" opacity="0.2"/>
<rect x="180.75" y="151.91" width="0.7" height="0.7" fill="#4a5af0" opacity="0.45"/>
<rect x="186.17" y="134.96" width="0.7" height="0.7" fill="#4a5af0" opacity="0.29"/>
<rect x="174.5" y="152.68" width="0.7" height="0.7" fill="#4a5af0" opacity="0.58"/>
<rect x="173.01" y="139.27" width="0.7" height="0.7" fill="#4a5af0" opacity="0.37"/>
<rect x="174.83" y="152.13" width="0.7" height="0.7" fill="#4a5af0" opacity="0.27"/>
<rect x="182.02" y="148.53" width="0.7" height="0.7" fill="#4a5af0" opacity="0.53"/>
<rect x="181.21" y="146.04" width="0.7" height="0.7" fill="#4a5af0" opacity="0.33"/>
<rect x="172.05" y="141.38" width="0.7" height="0.7" fill="#4a5af0" opacity="0.51"/>
<rect x="169.89" y="138.25" width="0.7" height="0.7" fill="#4a5af0" opacity="0.5"/>
<rect x="171.18" y="135.73" width="0.7" height="0.7" fill="#4a5af0" opacity="0.21"/>
<rect x="175.99" y="140.69" width="0.7" height="0.7" fill="#4a5af0" opacity="0.59"/>
<rect x="184.34" y="153.27" width="0.7" height="0.7" fill="#4a5af0" opacity="0.31"/>
<rect x="169.91" y="136.33" width="0.7" height="0.7" fill="#4a5af0" opacity="0.4"/>
<rect x="179.57" y="142.99" width="0.7" height="0.7" fill="#4a5af0" opacity="0.29"/>
<rect x="173.49" y="146.29" width="0.7" height="0.7" fill="#4a5af0" opacity="0.47"/>
<rect x="180.55" y="150.59" width="0.7" height="0.7" fill="#4a5af0" opacity="0.47"/>
<rect x="170.11" y="150.48" width="0.7" height="0.7" fill="#4a5af0" opacity="0.32"/>
<rect x="176.29" y="141.59" width="0.7" height="0.7" fill="#4a5af0" opacity="0.5"/>
<rect x="170.7" y="139.2" width="0.7" height="0.7" fill="#4a5af0" opacity="0.3"/>
<rect x="170.33" y="151.3" width="0.7" height="0.7" fill="#4a5af0" opacity="0.43"/>
<rect x="172.14" y="142.03" width="0.7" height="0.7" fill="#4a5af0" opacity="0.6"/>
<rect x="175.09" y="138.9" width="0.7" height="0.7" fill="#4a5af0" opacity="0.52"/>
<rect x="178.21" y="153.33" width="0.7" height="0.7" fill="#4a5af0" opacity="0.24"/>
<rect x="174.49" y="150.06" width="0.7" height="0.7" fill="#4a5af0" opacity="0.54"/>
<rect x="185.28" y="135.27" width="0.7" height="0.7" fill="#4a5af0" opacity="0.32"/>
<rect x="170.1" y="138.1" width="0.7" height="0.7" fill="#4a5af0" opacity="0.59"/>
<rect x="176.63" y="152.17" width="0.7" height="0.7" fill="#4a5af0" opacity="0.35"/>
<rect x="183.83" y="143.03" width="0.7" height="0.7" fill="#4a5af0" opacity="0.3"/>
<rect x="181.34" y="152.47" width="0.7" height="0.7" fill="#4a5af0" opacity="0.24"/>
<rect x="176.91" y="146.28" width="0.7" height="0.7" fill="#4a5af0" opacity="0.29"/>
<rect x="172.74" y="137.19" width="0.7" height="0.7" fill="#4a5af0" opacity="0.28"/>
<rect x="171.26" y="145.89" width="0.7" height="0.7" fill="#4a5af0" opacity="0.46"/>
<rect x="170.74" y="134.72" width="0.7" height="0.7" fill="#4a5af0" opacity="0.33"/>
<rect x="178.8" y="138.02" width="0.7" height="0.7" fill="#4a5af0" opacity="0.32"/>
<rect x="170.74" y="149.61" width="0.7" height="0.7" fill="#4a5af0" opacity="0.42"/>
<rect x="169.83" y="136.43" width="0.7" height="0.7" fill="#4a5af0" opacity="0.36"/>
<rect x="175.94" y="146.64" width="0.7" height="0.7" fill="#4a5af0" opacity="0.24"/>
<rect x="170.4" y="147.71" width="0.7" height="0.7" fill="#4a5af0" opacity="0.36"/>
<rect x="171.59" y="140.34" width="0.7" height="0.7" fill="#4a5af0" opacity="0.58"/>
<rect x="171.95" y="145.26" width="0.7" height="0.7" fill="#4a5af0" opacity="0.34"/>
<rect x="173.48" y="150.92" width="0.7" height="0.7" fill="#4a5af0" opacity="0.6"/>
<rect x="172.66" y="138.25" width="0.7" height="0.7" fill="#4a5af0" opacity="0.49"/>
<rect x="170.74" y="134.61" width="0.7" height="0.7" fill="#4a5af0" opacity="0.56"/>
<rect x="173.6" y="150.09" width="0.7" height="0.7" fill="#4a5af0" opacity="0.36"/>
<rect x="184.32" y="143.26" width="0.7" height="0.7" fill="#4a5af0" opacity="0.27"/>
<rect x="169.71" y="144.98" width="0.7" height="0.7" fill="#4a5af0" opacity="0.46"/>
<rect x="185.14" y="136.19" width="0.7" height="0.7" fill="#4a5af0" opacity="0.45"/>
<rect x="172.77" y="144.08" width="0.7" height="0.7" fill="#4a5af0" opacity="0.26"/>
<rect x="171.59" y="144.4" width="0.7" height="0.7" fill="#4a5af0" opacity="0.57"/>
<rect x="170.04" y="143.82" width="0.7" height="0.7" fill="#4a5af0" opacity="0.52"/>
<rect x="186.92" y="138.25" width="0.7" height="0.7" fill="#4a5af0" opacity="0.25"/>
<rect x="186.17" y="153.04" width="0.7" height="0.7" fill="#4a5af0" opacity="0.39"/>
<rect x="169.79" y="152.1" width="0.7" height="0.7" fill="#4a5af0" opacity="0.36"/>
<rect x="184.97" y="146.29" width="0.7" height="0.7" fill="#4a5af0" opacity="0.53"/>
<rect x="170.38" y="149.43" width="0.7" height="0.7" fill="#4a5af0" opacity="0.29"/>
<rect x="173.29" y="150.58" width="0.7" height="0.7" fill="#4a5af0" opacity="0.53"/>
<rect x="170.56" y="138.64" width="0.7" height="0.7" fill="#4a5af0" opacity="0.36"/>
<rect x="175.3" y="141.79" width="0.7" height="0.7" fill="#4a5af0" opacity="0.25"/>
<radialGradient id="g2" gradientUnits="userSpaceOnUse" cx="164" cy="153.5" r="15" gradientTransform="translate(164 153.5) scale(1 1.87) translate(-164 -153.5)"><stop offset="0" stop-color="#e8100c"/><stop offset="0.1" stop-color="#f06000"/><stop offset="0.2" stop-color="#f0e000"/><stop offset="0.32" stop-color="#40e030"/><stop offset="0.46" stop-color="#10d8e0"/><stop offset="0.62" stop-color="#1070f8"/><stop offset="0.8" stop-color="#1030f0"/><stop offset="1" stop-color="#1a28ee"/></radialGradient>
<clipPath id="g2c"><path d="M139.5 137 Q140 135 143 135 L167 135 Q169.7 135.2 169.7 139 L169.7 153 L139.5 153Z"/></clipPath>
<path d="M139.5 137 Q140 135 143 135 L167 135 Q169.7 135.2 169.7 139 L169.7 153 L139.5 153Z" fill="url(#g2)"/>
<linearGradient id="g2w" x1="0" x2="1" y1="0" y2="0"><stop offset="0" stop-color="#fff" stop-opacity="0.35"/><stop offset="0.5" stop-color="#fff" stop-opacity="0"/></linearGradient>
<g clip-path="url(#g2c)"><rect x="139.25" y="128.5" width="24.75" height="30" fill="url(#g2w)"/><rect x="139.25" y="128.5" width="14.85" height="30" fill="#fff" filter="url(#speck)" opacity="0.6"/></g>
<rect x="139.25" y="113.75" width="64.45" height="65" fill="none" stroke="#000" stroke-width="1.3"/>
<rect x="164.25" y="127" width="25" height="27.5" fill="none" stroke="#e8202a" stroke-width="1.1"/>
<text x="176.75" y="124.6" font-size="8.2" text-anchor="middle" textLength="9.2" lengthAdjust="spacingAndGlyphs">EV</text>
<line x1="135.85" y1="178.75" x2="139.25" y2="178.75" stroke="#000" stroke-width="0.9"/>
<line x1="137.35" y1="174.84" x2="139.25" y2="174.84" stroke="#000" stroke-width="0.6"/>
<line x1="137.35" y1="172.55" x2="139.25" y2="172.55" stroke="#000" stroke-width="0.6"/>
<line x1="137.35" y1="170.92" x2="139.25" y2="170.92" stroke="#000" stroke-width="0.6"/>
<line x1="137.35" y1="169.66" x2="139.25" y2="169.66" stroke="#000" stroke-width="0.6"/>
<line x1="137.35" y1="168.63" x2="139.25" y2="168.63" stroke="#000" stroke-width="0.6"/>
<line x1="137.35" y1="167.76" x2="139.25" y2="167.76" stroke="#000" stroke-width="0.6"/>
<line x1="137.35" y1="167.01" x2="139.25" y2="167.01" stroke="#000" stroke-width="0.6"/>
<line x1="137.35" y1="166.34" x2="139.25" y2="166.34" stroke="#000" stroke-width="0.6"/>
<line x1="139.25" y1="178.75" x2="139.25" y2="182.15" stroke="#000" stroke-width="0.9"/>
<line x1="143.13" y1="178.75" x2="143.13" y2="180.65" stroke="#000" stroke-width="0.6"/>
<line x1="145.4" y1="178.75" x2="145.4" y2="180.65" stroke="#000" stroke-width="0.6"/>
<line x1="147.01" y1="178.75" x2="147.01" y2="180.65" stroke="#000" stroke-width="0.6"/>
<line x1="148.26" y1="178.75" x2="148.26" y2="180.65" stroke="#000" stroke-width="0.6"/>
<line x1="149.28" y1="178.75" x2="149.28" y2="180.65" stroke="#000" stroke-width="0.6"/>
<line x1="150.14" y1="178.75" x2="150.14" y2="180.65" stroke="#000" stroke-width="0.6"/>
<line x1="150.89" y1="178.75" x2="150.89" y2="180.65" stroke="#000" stroke-width="0.6"/>
<line x1="151.55" y1="178.75" x2="151.55" y2="180.65" stroke="#000" stroke-width="0.6"/>
<text x="142.75" y="188.95" font-size="8" text-anchor="end" transform="rotate(-45 142.75 188.95)">10<tspan font-size="6.4" dy="-3.0">0</tspan></text>
<line x1="135.85" y1="165.75" x2="139.25" y2="165.75" stroke="#000" stroke-width="0.9"/>
<line x1="137.35" y1="161.84" x2="139.25" y2="161.84" stroke="#000" stroke-width="0.6"/>
<line x1="137.35" y1="159.55" x2="139.25" y2="159.55" stroke="#000" stroke-width="0.6"/>
<line x1="137.35" y1="157.92" x2="139.25" y2="157.92" stroke="#000" stroke-width="0.6"/>
<line x1="137.35" y1="156.66" x2="139.25" y2="156.66" stroke="#000" stroke-width="0.6"/>
<line x1="137.35" y1="155.63" x2="139.25" y2="155.63" stroke="#000" stroke-width="0.6"/>
<line x1="137.35" y1="154.76" x2="139.25" y2="154.76" stroke="#000" stroke-width="0.6"/>
<line x1="137.35" y1="154.01" x2="139.25" y2="154.01" stroke="#000" stroke-width="0.6"/>
<line x1="137.35" y1="153.34" x2="139.25" y2="153.34" stroke="#000" stroke-width="0.6"/>
<line x1="152.14" y1="178.75" x2="152.14" y2="182.15" stroke="#000" stroke-width="0.9"/>
<line x1="156.02" y1="178.75" x2="156.02" y2="180.65" stroke="#000" stroke-width="0.6"/>
<line x1="158.29" y1="178.75" x2="158.29" y2="180.65" stroke="#000" stroke-width="0.6"/>
<line x1="159.9" y1="178.75" x2="159.9" y2="180.65" stroke="#000" stroke-width="0.6"/>
<line x1="161.15" y1="178.75" x2="161.15" y2="180.65" stroke="#000" stroke-width="0.6"/>
<line x1="162.17" y1="178.75" x2="162.17" y2="180.65" stroke="#000" stroke-width="0.6"/>
<line x1="163.03" y1="178.75" x2="163.03" y2="180.65" stroke="#000" stroke-width="0.6"/>
<line x1="163.78" y1="178.75" x2="163.78" y2="180.65" stroke="#000" stroke-width="0.6"/>
<line x1="164.44" y1="178.75" x2="164.44" y2="180.65" stroke="#000" stroke-width="0.6"/>
<text x="155.64" y="188.95" font-size="8" text-anchor="end" transform="rotate(-45 155.64 188.95)">10<tspan font-size="6.4" dy="-3.0">1</tspan></text>
<line x1="135.85" y1="152.75" x2="139.25" y2="152.75" stroke="#000" stroke-width="0.9"/>
<line x1="137.35" y1="148.84" x2="139.25" y2="148.84" stroke="#000" stroke-width="0.6"/>
<line x1="137.35" y1="146.55" x2="139.25" y2="146.55" stroke="#000" stroke-width="0.6"/>
<line x1="137.35" y1="144.92" x2="139.25" y2="144.92" stroke="#000" stroke-width="0.6"/>
<line x1="137.35" y1="143.66" x2="139.25" y2="143.66" stroke="#000" stroke-width="0.6"/>
<line x1="137.35" y1="142.63" x2="139.25" y2="142.63" stroke="#000" stroke-width="0.6"/>
<line x1="137.35" y1="141.76" x2="139.25" y2="141.76" stroke="#000" stroke-width="0.6"/>
<line x1="137.35" y1="141.01" x2="139.25" y2="141.01" stroke="#000" stroke-width="0.6"/>
<line x1="137.35" y1="140.34" x2="139.25" y2="140.34" stroke="#000" stroke-width="0.6"/>
<line x1="165.03" y1="178.75" x2="165.03" y2="182.15" stroke="#000" stroke-width="0.9"/>
<line x1="168.91" y1="178.75" x2="168.91" y2="180.65" stroke="#000" stroke-width="0.6"/>
<line x1="171.18" y1="178.75" x2="171.18" y2="180.65" stroke="#000" stroke-width="0.6"/>
<line x1="172.79" y1="178.75" x2="172.79" y2="180.65" stroke="#000" stroke-width="0.6"/>
<line x1="174.04" y1="178.75" x2="174.04" y2="180.65" stroke="#000" stroke-width="0.6"/>
<line x1="175.06" y1="178.75" x2="175.06" y2="180.65" stroke="#000" stroke-width="0.6"/>
<line x1="175.92" y1="178.75" x2="175.92" y2="180.65" stroke="#000" stroke-width="0.6"/>
<line x1="176.67" y1="178.75" x2="176.67" y2="180.65" stroke="#000" stroke-width="0.6"/>
<line x1="177.33" y1="178.75" x2="177.33" y2="180.65" stroke="#000" stroke-width="0.6"/>
<text x="168.53" y="188.95" font-size="8" text-anchor="end" transform="rotate(-45 168.53 188.95)">10<tspan font-size="6.4" dy="-3.0">2</tspan></text>
<line x1="135.85" y1="139.75" x2="139.25" y2="139.75" stroke="#000" stroke-width="0.9"/>
<line x1="137.35" y1="135.84" x2="139.25" y2="135.84" stroke="#000" stroke-width="0.6"/>
<line x1="137.35" y1="133.55" x2="139.25" y2="133.55" stroke="#000" stroke-width="0.6"/>
<line x1="137.35" y1="131.92" x2="139.25" y2="131.92" stroke="#000" stroke-width="0.6"/>
<line x1="137.35" y1="130.66" x2="139.25" y2="130.66" stroke="#000" stroke-width="0.6"/>
<line x1="137.35" y1="129.63" x2="139.25" y2="129.63" stroke="#000" stroke-width="0.6"/>
<line x1="137.35" y1="128.76" x2="139.25" y2="128.76" stroke="#000" stroke-width="0.6"/>
<line x1="137.35" y1="128.01" x2="139.25" y2="128.01" stroke="#000" stroke-width="0.6"/>
<line x1="137.35" y1="127.34" x2="139.25" y2="127.34" stroke="#000" stroke-width="0.6"/>
<line x1="177.92" y1="178.75" x2="177.92" y2="182.15" stroke="#000" stroke-width="0.9"/>
<line x1="181.8" y1="178.75" x2="181.8" y2="180.65" stroke="#000" stroke-width="0.6"/>
<line x1="184.07" y1="178.75" x2="184.07" y2="180.65" stroke="#000" stroke-width="0.6"/>
<line x1="185.68" y1="178.75" x2="185.68" y2="180.65" stroke="#000" stroke-width="0.6"/>
<line x1="186.93" y1="178.75" x2="186.93" y2="180.65" stroke="#000" stroke-width="0.6"/>
<line x1="187.95" y1="178.75" x2="187.95" y2="180.65" stroke="#000" stroke-width="0.6"/>
<line x1="188.81" y1="178.75" x2="188.81" y2="180.65" stroke="#000" stroke-width="0.6"/>
<line x1="189.56" y1="178.75" x2="189.56" y2="180.65" stroke="#000" stroke-width="0.6"/>
<line x1="190.22" y1="178.75" x2="190.22" y2="180.65" stroke="#000" stroke-width="0.6"/>
<text x="181.42" y="188.95" font-size="8" text-anchor="end" transform="rotate(-45 181.42 188.95)">10<tspan font-size="6.4" dy="-3.0">3</tspan></text>
<line x1="135.85" y1="126.75" x2="139.25" y2="126.75" stroke="#000" stroke-width="0.9"/>
<line x1="137.35" y1="122.84" x2="139.25" y2="122.84" stroke="#000" stroke-width="0.6"/>
<line x1="137.35" y1="120.55" x2="139.25" y2="120.55" stroke="#000" stroke-width="0.6"/>
<line x1="137.35" y1="118.92" x2="139.25" y2="118.92" stroke="#000" stroke-width="0.6"/>
<line x1="137.35" y1="117.66" x2="139.25" y2="117.66" stroke="#000" stroke-width="0.6"/>
<line x1="137.35" y1="116.63" x2="139.25" y2="116.63" stroke="#000" stroke-width="0.6"/>
<line x1="137.35" y1="115.76" x2="139.25" y2="115.76" stroke="#000" stroke-width="0.6"/>
<line x1="137.35" y1="115.01" x2="139.25" y2="115.01" stroke="#000" stroke-width="0.6"/>
<line x1="137.35" y1="114.34" x2="139.25" y2="114.34" stroke="#000" stroke-width="0.6"/>
<line x1="190.81" y1="178.75" x2="190.81" y2="182.15" stroke="#000" stroke-width="0.9"/>
<line x1="194.69" y1="178.75" x2="194.69" y2="180.65" stroke="#000" stroke-width="0.6"/>
<line x1="196.96" y1="178.75" x2="196.96" y2="180.65" stroke="#000" stroke-width="0.6"/>
<line x1="198.57" y1="178.75" x2="198.57" y2="180.65" stroke="#000" stroke-width="0.6"/>
<line x1="199.82" y1="178.75" x2="199.82" y2="180.65" stroke="#000" stroke-width="0.6"/>
<line x1="200.84" y1="178.75" x2="200.84" y2="180.65" stroke="#000" stroke-width="0.6"/>
<line x1="201.7" y1="178.75" x2="201.7" y2="180.65" stroke="#000" stroke-width="0.6"/>
<line x1="202.45" y1="178.75" x2="202.45" y2="180.65" stroke="#000" stroke-width="0.6"/>
<line x1="203.11" y1="178.75" x2="203.11" y2="180.65" stroke="#000" stroke-width="0.6"/>
<text x="194.31" y="188.95" font-size="8" text-anchor="end" transform="rotate(-45 194.31 188.95)">10<tspan font-size="6.4" dy="-3.0">4</tspan></text>
<line x1="135.85" y1="113.75" x2="139.25" y2="113.75" stroke="#000" stroke-width="0.9"/>
<line x1="203.7" y1="178.75" x2="203.7" y2="182.15" stroke="#000" stroke-width="0.9"/>
<text x="207.2" y="188.95" font-size="8" text-anchor="end" transform="rotate(-45 207.2 188.95)">10<tspan font-size="6.4" dy="-3.0">5</tspan></text>
<text x="171.5" y="105.4" font-size="8.9" text-anchor="middle" textLength="27.8" lengthAdjust="spacingAndGlyphs">iEbCM</text>
<rect x="253.94" y="148.69" width="0.7" height="0.7" fill="#4a5af0" opacity="0.56"/>
<rect x="252.75" y="145.84" width="0.7" height="0.7" fill="#4a5af0" opacity="0.5"/>
<rect x="252.74" y="150.67" width="0.7" height="0.7" fill="#4a5af0" opacity="0.25"/>
<rect x="258.79" y="145.63" width="0.7" height="0.7" fill="#4a5af0" opacity="0.45"/>
<rect x="254.52" y="143.35" width="0.7" height="0.7" fill="#4a5af0" opacity="0.43"/>
<rect x="255.99" y="147.53" width="0.7" height="0.7" fill="#4a5af0" opacity="0.38"/>
<rect x="256.17" y="136.41" width="0.7" height="0.7" fill="#4a5af0" opacity="0.45"/>
<rect x="256.93" y="140.12" width="0.7" height="0.7" fill="#4a5af0" opacity="0.51"/>
<rect x="262.48" y="144.02" width="0.7" height="0.7" fill="#4a5af0" opacity="0.27"/>
<rect x="256.68" y="137.87" width="0.7" height="0.7" fill="#4a5af0" opacity="0.25"/>
<rect x="256.06" y="137.6" width="0.7" height="0.7" fill="#4a5af0" opacity="0.38"/>
<rect x="257.26" y="136.71" width="0.7" height="0.7" fill="#4a5af0" opacity="0.45"/>
<rect x="252.87" y="148.84" width="0.7" height="0.7" fill="#4a5af0" opacity="0.51"/>
<rect x="257.28" y="136.95" width="0.7" height="0.7" fill="#4a5af0" opacity="0.4"/>
<rect x="255.35" y="152.64" width="0.7" height="0.7" fill="#4a5af0" opacity="0.25"/>
<rect x="264.29" y="153.43" width="0.7" height="0.7" fill="#4a5af0" opacity="0.49"/>
<rect x="263.29" y="139.39" width="0.7" height="0.7" fill="#4a5af0" opacity="0.59"/>
<rect x="256.97" y="152.74" width="0.7" height="0.7" fill="#4a5af0" opacity="0.57"/>
<rect x="253.3" y="149.8" width="0.7" height="0.7" fill="#4a5af0" opacity="0.57"/>
<rect x="252.81" y="142.14" width="0.7" height="0.7" fill="#4a5af0" opacity="0.5"/>
<rect x="253.26" y="151.69" width="0.7" height="0.7" fill="#4a5af0" opacity="0.31"/>
<rect x="263.3" y="138.51" width="0.7" height="0.7" fill="#4a5af0" opacity="0.4"/>
<rect x="265.87" y="139.65" width="0.7" height="0.7" fill="#4a5af0" opacity="0.31"/>
<rect x="257.19" y="141.58" width="0.7" height="0.7" fill="#4a5af0" opacity="0.21"/>
<rect x="253.41" y="138.82" width="0.7" height="0.7" fill="#4a5af0" opacity="0.57"/>
<rect x="260.34" y="151.67" width="0.7" height="0.7" fill="#4a5af0" opacity="0.27"/>
<rect x="262.59" y="138.01" width="0.7" height="0.7" fill="#4a5af0" opacity="0.41"/>
<rect x="259.48" y="142.3" width="0.7" height="0.7" fill="#4a5af0" opacity="0.55"/>
<rect x="258" y="146.15" width="0.7" height="0.7" fill="#4a5af0" opacity="0.55"/>
<rect x="252.96" y="153.38" width="0.7" height="0.7" fill="#4a5af0" opacity="0.45"/>
<rect x="255.56" y="149.96" width="0.7" height="0.7" fill="#4a5af0" opacity="0.31"/>
<rect x="267.74" y="146.1" width="0.7" height="0.7" fill="#4a5af0" opacity="0.34"/>
<rect x="262.14" y="143.74" width="0.7" height="0.7" fill="#4a5af0" opacity="0.27"/>
<rect x="261.68" y="136.85" width="0.7" height="0.7" fill="#4a5af0" opacity="0.53"/>
<rect x="254" y="147.19" width="0.7" height="0.7" fill="#4a5af0" opacity="0.59"/>
<rect x="258.54" y="147.61" width="0.7" height="0.7" fill="#4a5af0" opacity="0.33"/>
<rect x="252.7" y="136.59" width="0.7" height="0.7" fill="#4a5af0" opacity="0.26"/>
<rect x="259.1" y="143.56" width="0.7" height="0.7" fill="#4a5af0" opacity="0.41"/>
<rect x="265.24" y="138.31" width="0.7" height="0.7" fill="#4a5af0" opacity="0.29"/>
<rect x="259.81" y="136.39" width="0.7" height="0.7" fill="#4a5af0" opacity="0.2"/>
<rect x="255.07" y="137.86" width="0.7" height="0.7" fill="#4a5af0" opacity="0.34"/>
<rect x="253.74" y="146.21" width="0.7" height="0.7" fill="#4a5af0" opacity="0.44"/>
<rect x="253.58" y="146.92" width="0.7" height="0.7" fill="#4a5af0" opacity="0.39"/>
<rect x="253.11" y="152.39" width="0.7" height="0.7" fill="#4a5af0" opacity="0.3"/>
<rect x="253.2" y="137.68" width="0.7" height="0.7" fill="#4a5af0" opacity="0.46"/>
<rect x="264.64" y="149.69" width="0.7" height="0.7" fill="#4a5af0" opacity="0.36"/>
<rect x="254.09" y="136.2" width="0.7" height="0.7" fill="#4a5af0" opacity="0.46"/>
<rect x="258.13" y="142.13" width="0.7" height="0.7" fill="#4a5af0" opacity="0.46"/>
<rect x="256.24" y="152.4" width="0.7" height="0.7" fill="#4a5af0" opacity="0.49"/>
<rect x="253.95" y="151.81" width="0.7" height="0.7" fill="#4a5af0" opacity="0.22"/>
<rect x="257.6" y="143.1" width="0.7" height="0.7" fill="#4a5af0" opacity="0.3"/>
<rect x="252.79" y="149.63" width="0.7" height="0.7" fill="#4a5af0" opacity="0.2"/>
<rect x="257.93" y="152.47" width="0.7" height="0.7" fill="#4a5af0" opacity="0.26"/>
<rect x="253.54" y="146.64" width="0.7" height="0.7" fill="#4a5af0" opacity="0.4"/>
<rect x="259.58" y="150.23" width="0.7" height="0.7" fill="#4a5af0" opacity="0.27"/>
<rect x="254.55" y="141.25" width="0.7" height="0.7" fill="#4a5af0" opacity="0.22"/>
<rect x="265.09" y="149.7" width="0.7" height="0.7" fill="#4a5af0" opacity="0.49"/>
<rect x="252.7" y="150.78" width="0.7" height="0.7" fill="#4a5af0" opacity="0.5"/>
<rect x="256.56" y="148.98" width="0.7" height="0.7" fill="#4a5af0" opacity="0.38"/>
<rect x="253.75" y="137.84" width="0.7" height="0.7" fill="#4a5af0" opacity="0.29"/>
<radialGradient id="g3" gradientUnits="userSpaceOnUse" cx="248.5" cy="151" r="10" gradientTransform="translate(248.5 151) scale(1 2) translate(-248.5 -151)"><stop offset="0" stop-color="#e8100c"/><stop offset="0.1" stop-color="#f06000"/><stop offset="0.2" stop-color="#f0e000"/><stop offset="0.32" stop-color="#40e030"/><stop offset="0.46" stop-color="#10d8e0"/><stop offset="0.62" stop-color="#1070f8"/><stop offset="0.8" stop-color="#1030f0"/><stop offset="1" stop-color="#1a28ee"/></radialGradient>
<clipPath id="g3c"><path d="M222.2 153 L222.2 146 Q226 138.5 236 136 Q246 134.5 250 135.5 Q252.7 137 252.7 142 L252.7 153Z"/></clipPath>
<path d="M222.2 153 L222.2 146 Q226 138.5 236 136 Q246 134.5 250 135.5 Q252.7 137 252.7 142 L252.7 153Z" fill="url(#g3)"/>
<linearGradient id="g3w" x1="0" x2="1" y1="0" y2="0"><stop offset="0" stop-color="#fff" stop-opacity="0.35"/><stop offset="0.5" stop-color="#fff" stop-opacity="0"/></linearGradient>
<g clip-path="url(#g3c)"><rect x="221.9" y="126" width="26.6" height="30" fill="url(#g3w)"/><rect x="221.9" y="126" width="15.96" height="30" fill="#fff" filter="url(#speck)" opacity="0.6"/></g>
<rect x="221.9" y="112.3" width="66.9" height="66.7" fill="none" stroke="#000" stroke-width="1.3"/>
<rect x="248.3" y="126.2" width="25.2" height="27.8" fill="none" stroke="#e8202a" stroke-width="1.1"/>
<text x="260.9" y="123.8" font-size="8.2" text-anchor="middle" textLength="9.2" lengthAdjust="spacingAndGlyphs">EV</text>
<line x1="218.5" y1="179" x2="221.9" y2="179" stroke="#000" stroke-width="0.9"/>
<line x1="220" y1="174.98" x2="221.9" y2="174.98" stroke="#000" stroke-width="0.6"/>
<line x1="220" y1="172.64" x2="221.9" y2="172.64" stroke="#000" stroke-width="0.6"/>
<line x1="220" y1="170.97" x2="221.9" y2="170.97" stroke="#000" stroke-width="0.6"/>
<line x1="220" y1="169.68" x2="221.9" y2="169.68" stroke="#000" stroke-width="0.6"/>
<line x1="220" y1="168.62" x2="221.9" y2="168.62" stroke="#000" stroke-width="0.6"/>
<line x1="220" y1="167.73" x2="221.9" y2="167.73" stroke="#000" stroke-width="0.6"/>
<line x1="220" y1="166.95" x2="221.9" y2="166.95" stroke="#000" stroke-width="0.6"/>
<line x1="220" y1="166.27" x2="221.9" y2="166.27" stroke="#000" stroke-width="0.6"/>
<line x1="221.9" y1="179" x2="221.9" y2="182.4" stroke="#000" stroke-width="0.9"/>
<line x1="225.93" y1="179" x2="225.93" y2="180.9" stroke="#000" stroke-width="0.6"/>
<line x1="228.28" y1="179" x2="228.28" y2="180.9" stroke="#000" stroke-width="0.6"/>
<line x1="229.96" y1="179" x2="229.96" y2="180.9" stroke="#000" stroke-width="0.6"/>
<line x1="231.25" y1="179" x2="231.25" y2="180.9" stroke="#000" stroke-width="0.6"/>
<line x1="232.31" y1="179" x2="232.31" y2="180.9" stroke="#000" stroke-width="0.6"/>
<line x1="233.21" y1="179" x2="233.21" y2="180.9" stroke="#000" stroke-width="0.6"/>
<line x1="233.98" y1="179" x2="233.98" y2="180.9" stroke="#000" stroke-width="0.6"/>
<line x1="234.67" y1="179" x2="234.67" y2="180.9" stroke="#000" stroke-width="0.6"/>
<text x="225.4" y="189.2" font-size="8" text-anchor="end" transform="rotate(-45 225.4 189.2)">10<tspan font-size="6.4" dy="-3.0">0</tspan></text>
<line x1="218.5" y1="165.66" x2="221.9" y2="165.66" stroke="#000" stroke-width="0.9"/>
<line x1="220" y1="161.64" x2="221.9" y2="161.64" stroke="#000" stroke-width="0.6"/>
<line x1="220" y1="159.3" x2="221.9" y2="159.3" stroke="#000" stroke-width="0.6"/>
<line x1="220" y1="157.63" x2="221.9" y2="157.63" stroke="#000" stroke-width="0.6"/>
<line x1="220" y1="156.34" x2="221.9" y2="156.34" stroke="#000" stroke-width="0.6"/>
<line x1="220" y1="155.28" x2="221.9" y2="155.28" stroke="#000" stroke-width="0.6"/>
<line x1="220" y1="154.39" x2="221.9" y2="154.39" stroke="#000" stroke-width="0.6"/>
<line x1="220" y1="153.61" x2="221.9" y2="153.61" stroke="#000" stroke-width="0.6"/>
<line x1="220" y1="152.93" x2="221.9" y2="152.93" stroke="#000" stroke-width="0.6"/>
<line x1="235.28" y1="179" x2="235.28" y2="182.4" stroke="#000" stroke-width="0.9"/>
<line x1="239.31" y1="179" x2="239.31" y2="180.9" stroke="#000" stroke-width="0.6"/>
<line x1="241.66" y1="179" x2="241.66" y2="180.9" stroke="#000" stroke-width="0.6"/>
<line x1="243.34" y1="179" x2="243.34" y2="180.9" stroke="#000" stroke-width="0.6"/>
<line x1="244.63" y1="179" x2="244.63" y2="180.9" stroke="#000" stroke-width="0.6"/>
<line x1="245.69" y1="179" x2="245.69" y2="180.9" stroke="#000" stroke-width="0.6"/>
<line x1="246.59" y1="179" x2="246.59" y2="180.9" stroke="#000" stroke-width="0.6"/>
<line x1="247.36" y1="179" x2="247.36" y2="180.9" stroke="#000" stroke-width="0.6"/>
<line x1="248.05" y1="179" x2="248.05" y2="180.9" stroke="#000" stroke-width="0.6"/>
<text x="238.78" y="189.2" font-size="8" text-anchor="end" transform="rotate(-45 238.78 189.2)">10<tspan font-size="6.4" dy="-3.0">1</tspan></text>
<line x1="218.5" y1="152.32" x2="221.9" y2="152.32" stroke="#000" stroke-width="0.9"/>
<line x1="220" y1="148.3" x2="221.9" y2="148.3" stroke="#000" stroke-width="0.6"/>
<line x1="220" y1="145.96" x2="221.9" y2="145.96" stroke="#000" stroke-width="0.6"/>
<line x1="220" y1="144.29" x2="221.9" y2="144.29" stroke="#000" stroke-width="0.6"/>
<line x1="220" y1="143" x2="221.9" y2="143" stroke="#000" stroke-width="0.6"/>
<line x1="220" y1="141.94" x2="221.9" y2="141.94" stroke="#000" stroke-width="0.6"/>
<line x1="220" y1="141.05" x2="221.9" y2="141.05" stroke="#000" stroke-width="0.6"/>
<line x1="220" y1="140.27" x2="221.9" y2="140.27" stroke="#000" stroke-width="0.6"/>
<line x1="220" y1="139.59" x2="221.9" y2="139.59" stroke="#000" stroke-width="0.6"/>
<line x1="248.66" y1="179" x2="248.66" y2="182.4" stroke="#000" stroke-width="0.9"/>
<line x1="252.69" y1="179" x2="252.69" y2="180.9" stroke="#000" stroke-width="0.6"/>
<line x1="255.04" y1="179" x2="255.04" y2="180.9" stroke="#000" stroke-width="0.6"/>
<line x1="256.72" y1="179" x2="256.72" y2="180.9" stroke="#000" stroke-width="0.6"/>
<line x1="258.01" y1="179" x2="258.01" y2="180.9" stroke="#000" stroke-width="0.6"/>
<line x1="259.07" y1="179" x2="259.07" y2="180.9" stroke="#000" stroke-width="0.6"/>
<line x1="259.97" y1="179" x2="259.97" y2="180.9" stroke="#000" stroke-width="0.6"/>
<line x1="260.74" y1="179" x2="260.74" y2="180.9" stroke="#000" stroke-width="0.6"/>
<line x1="261.43" y1="179" x2="261.43" y2="180.9" stroke="#000" stroke-width="0.6"/>
<text x="252.16" y="189.2" font-size="8" text-anchor="end" transform="rotate(-45 252.16 189.2)">10<tspan font-size="6.4" dy="-3.0">2</tspan></text>
<line x1="218.5" y1="138.98" x2="221.9" y2="138.98" stroke="#000" stroke-width="0.9"/>
<line x1="220" y1="134.96" x2="221.9" y2="134.96" stroke="#000" stroke-width="0.6"/>
<line x1="220" y1="132.62" x2="221.9" y2="132.62" stroke="#000" stroke-width="0.6"/>
<line x1="220" y1="130.95" x2="221.9" y2="130.95" stroke="#000" stroke-width="0.6"/>
<line x1="220" y1="129.66" x2="221.9" y2="129.66" stroke="#000" stroke-width="0.6"/>
<line x1="220" y1="128.6" x2="221.9" y2="128.6" stroke="#000" stroke-width="0.6"/>
<line x1="220" y1="127.71" x2="221.9" y2="127.71" stroke="#000" stroke-width="0.6"/>
<line x1="220" y1="126.93" x2="221.9" y2="126.93" stroke="#000" stroke-width="0.6"/>
<line x1="220" y1="126.25" x2="221.9" y2="126.25" stroke="#000" stroke-width="0.6"/>
<line x1="262.04" y1="179" x2="262.04" y2="182.4" stroke="#000" stroke-width="0.9"/>
<line x1="266.07" y1="179" x2="266.07" y2="180.9" stroke="#000" stroke-width="0.6"/>
<line x1="268.42" y1="179" x2="268.42" y2="180.9" stroke="#000" stroke-width="0.6"/>
<line x1="270.1" y1="179" x2="270.1" y2="180.9" stroke="#000" stroke-width="0.6"/>
<line x1="271.39" y1="179" x2="271.39" y2="180.9" stroke="#000" stroke-width="0.6"/>
<line x1="272.45" y1="179" x2="272.45" y2="180.9" stroke="#000" stroke-width="0.6"/>
<line x1="273.35" y1="179" x2="273.35" y2="180.9" stroke="#000" stroke-width="0.6"/>
<line x1="274.12" y1="179" x2="274.12" y2="180.9" stroke="#000" stroke-width="0.6"/>
<line x1="274.81" y1="179" x2="274.81" y2="180.9" stroke="#000" stroke-width="0.6"/>
<text x="265.54" y="189.2" font-size="8" text-anchor="end" transform="rotate(-45 265.54 189.2)">10<tspan font-size="6.4" dy="-3.0">3</tspan></text>
<line x1="218.5" y1="125.64" x2="221.9" y2="125.64" stroke="#000" stroke-width="0.9"/>
<line x1="220" y1="121.62" x2="221.9" y2="121.62" stroke="#000" stroke-width="0.6"/>
<line x1="220" y1="119.28" x2="221.9" y2="119.28" stroke="#000" stroke-width="0.6"/>
<line x1="220" y1="117.61" x2="221.9" y2="117.61" stroke="#000" stroke-width="0.6"/>
<line x1="220" y1="116.32" x2="221.9" y2="116.32" stroke="#000" stroke-width="0.6"/>
<line x1="220" y1="115.26" x2="221.9" y2="115.26" stroke="#000" stroke-width="0.6"/>
<line x1="220" y1="114.37" x2="221.9" y2="114.37" stroke="#000" stroke-width="0.6"/>
<line x1="220" y1="113.59" x2="221.9" y2="113.59" stroke="#000" stroke-width="0.6"/>
<line x1="220" y1="112.91" x2="221.9" y2="112.91" stroke="#000" stroke-width="0.6"/>
<line x1="275.42" y1="179" x2="275.42" y2="182.4" stroke="#000" stroke-width="0.9"/>
<line x1="279.45" y1="179" x2="279.45" y2="180.9" stroke="#000" stroke-width="0.6"/>
<line x1="281.8" y1="179" x2="281.8" y2="180.9" stroke="#000" stroke-width="0.6"/>
<line x1="283.48" y1="179" x2="283.48" y2="180.9" stroke="#000" stroke-width="0.6"/>
<line x1="284.77" y1="179" x2="284.77" y2="180.9" stroke="#000" stroke-width="0.6"/>
<line x1="285.83" y1="179" x2="285.83" y2="180.9" stroke="#000" stroke-width="0.6"/>
<line x1="286.73" y1="179" x2="286.73" y2="180.9" stroke="#000" stroke-width="0.6"/>
<line x1="287.5" y1="179" x2="287.5" y2="180.9" stroke="#000" stroke-width="0.6"/>
<line x1="288.19" y1="179" x2="288.19" y2="180.9" stroke="#000" stroke-width="0.6"/>
<text x="278.92" y="189.2" font-size="8" text-anchor="end" transform="rotate(-45 278.92 189.2)">10<tspan font-size="6.4" dy="-3.0">4</tspan></text>
<line x1="218.5" y1="112.3" x2="221.9" y2="112.3" stroke="#000" stroke-width="0.9"/>
<line x1="288.8" y1="179" x2="288.8" y2="182.4" stroke="#000" stroke-width="0.9"/>
<text x="292.3" y="189.2" font-size="8" text-anchor="end" transform="rotate(-45 292.3 189.2)">10<tspan font-size="6.4" dy="-3.0">5</tspan></text>
<text x="255.05" y="105.4" font-size="8.9" text-anchor="middle" textLength="24.7" lengthAdjust="spacingAndGlyphs">uECM</text>
<rect x="339.35" y="140.37" width="0.7" height="0.7" fill="#4a5af0" opacity="0.5"/>
<rect x="348.5" y="150.06" width="0.7" height="0.7" fill="#4a5af0" opacity="0.48"/>
<rect x="340.93" y="144.52" width="0.7" height="0.7" fill="#4a5af0" opacity="0.37"/>
<rect x="350.84" y="143.94" width="0.7" height="0.7" fill="#4a5af0" opacity="0.31"/>
<rect x="347.27" y="152.34" width="0.7" height="0.7" fill="#4a5af0" opacity="0.29"/>
<rect x="353.36" y="134.29" width="0.7" height="0.7" fill="#4a5af0" opacity="0.3"/>
<rect x="340.62" y="148.13" width="0.7" height="0.7" fill="#4a5af0" opacity="0.58"/>
<rect x="349.75" y="140.21" width="0.7" height="0.7" fill="#4a5af0" opacity="0.55"/>
<rect x="341.69" y="138.54" width="0.7" height="0.7" fill="#4a5af0" opacity="0.56"/>
<rect x="347.02" y="147.16" width="0.7" height="0.7" fill="#4a5af0" opacity="0.47"/>
<rect x="356.34" y="142.92" width="0.7" height="0.7" fill="#4a5af0" opacity="0.54"/>
<rect x="348.56" y="150.29" width="0.7" height="0.7" fill="#4a5af0" opacity="0.37"/>
<rect x="349.21" y="144.84" width="0.7" height="0.7" fill="#4a5af0" opacity="0.32"/>
<rect x="340.38" y="145.83" width="0.7" height="0.7" fill="#4a5af0" opacity="0.23"/>
<rect x="354.26" y="136.75" width="0.7" height="0.7" fill="#4a5af0" opacity="0.21"/>
<rect x="339.62" y="151.65" width="0.7" height="0.7" fill="#4a5af0" opacity="0.34"/>
<rect x="339.83" y="134.55" width="0.7" height="0.7" fill="#4a5af0" opacity="0.22"/>
<rect x="348.44" y="146.04" width="0.7" height="0.7" fill="#4a5af0" opacity="0.48"/>
<rect x="349.51" y="135.25" width="0.7" height="0.7" fill="#4a5af0" opacity="0.44"/>
<rect x="342.16" y="149.53" width="0.7" height="0.7" fill="#4a5af0" opacity="0.53"/>
<rect x="353.69" y="135.25" width="0.7" height="0.7" fill="#4a5af0" opacity="0.55"/>
<rect x="354.37" y="151.94" width="0.7" height="0.7" fill="#4a5af0" opacity="0.24"/>
<rect x="340.33" y="136.13" width="0.7" height="0.7" fill="#4a5af0" opacity="0.21"/>
<rect x="352.45" y="149.43" width="0.7" height="0.7" fill="#4a5af0" opacity="0.45"/>
<rect x="351.82" y="146" width="0.7" height="0.7" fill="#4a5af0" opacity="0.31"/>
<rect x="339.58" y="135.86" width="0.7" height="0.7" fill="#4a5af0" opacity="0.5"/>
<rect x="340.32" y="140.06" width="0.7" height="0.7" fill="#4a5af0" opacity="0.37"/>
<rect x="339.32" y="138.88" width="0.7" height="0.7" fill="#4a5af0" opacity="0.31"/>
<rect x="349" y="140.99" width="0.7" height="0.7" fill="#4a5af0" opacity="0.33"/>
<rect x="355.87" y="143.57" width="0.7" height="0.7" fill="#4a5af0" opacity="0.54"/>
<rect x="346.75" y="134.59" width="0.7" height="0.7" fill="#4a5af0" opacity="0.37"/>
<rect x="343.28" y="148.69" width="0.7" height="0.7" fill="#4a5af0" opacity="0.34"/>
<rect x="348.73" y="144.22" width="0.7" height="0.7" fill="#4a5af0" opacity="0.29"/>
<rect x="352.86" y="135.73" width="0.7" height="0.7" fill="#4a5af0" opacity="0.53"/>
<rect x="340.03" y="134.02" width="0.7" height="0.7" fill="#4a5af0" opacity="0.28"/>
<rect x="350.16" y="152.58" width="0.7" height="0.7" fill="#4a5af0" opacity="0.2"/>
<rect x="344.22" y="143.34" width="0.7" height="0.7" fill="#4a5af0" opacity="0.52"/>
<rect x="340.14" y="143.4" width="0.7" height="0.7" fill="#4a5af0" opacity="0.34"/>
<rect x="352.01" y="138.95" width="0.7" height="0.7" fill="#4a5af0" opacity="0.58"/>
<rect x="341.13" y="138.08" width="0.7" height="0.7" fill="#4a5af0" opacity="0.48"/>
<rect x="344.35" y="136.09" width="0.7" height="0.7" fill="#4a5af0" opacity="0.45"/>
<rect x="339.49" y="148.97" width="0.7" height="0.7" fill="#4a5af0" opacity="0.48"/>
<rect x="350.8" y="145.93" width="0.7" height="0.7" fill="#4a5af0" opacity="0.34"/>
<rect x="342.72" y="141.5" width="0.7" height="0.7" fill="#4a5af0" opacity="0.56"/>
<rect x="339.51" y="150.88" width="0.7" height="0.7" fill="#4a5af0" opacity="0.21"/>
<rect x="340.33" y="139" width="0.7" height="0.7" fill="#4a5af0" opacity="0.56"/>
<rect x="344.4" y="141.21" width="0.7" height="0.7" fill="#4a5af0" opacity="0.55"/>
<rect x="340.59" y="142.76" width="0.7" height="0.7" fill="#4a5af0" opacity="0.41"/>
<rect x="349.96" y="148.31" width="0.7" height="0.7" fill="#4a5af0" opacity="0.46"/>
<rect x="341.95" y="140.21" width="0.7" height="0.7" fill="#4a5af0" opacity="0.26"/>
<rect x="352.32" y="146.58" width="0.7" height="0.7" fill="#4a5af0" opacity="0.5"/>
<rect x="340.03" y="142.34" width="0.7" height="0.7" fill="#4a5af0" opacity="0.51"/>
<rect x="345.92" y="136.4" width="0.7" height="0.7" fill="#4a5af0" opacity="0.38"/>
<rect x="353.51" y="138.52" width="0.7" height="0.7" fill="#4a5af0" opacity="0.28"/>
<rect x="341.35" y="147.36" width="0.7" height="0.7" fill="#4a5af0" opacity="0.54"/>
<rect x="339.91" y="136.96" width="0.7" height="0.7" fill="#4a5af0" opacity="0.3"/>
<rect x="341.66" y="143.92" width="0.7" height="0.7" fill="#4a5af0" opacity="0.26"/>
<rect x="341.68" y="137.6" width="0.7" height="0.7" fill="#4a5af0" opacity="0.59"/>
<rect x="349.31" y="135.93" width="0.7" height="0.7" fill="#4a5af0" opacity="0.58"/>
<rect x="339.59" y="141.3" width="0.7" height="0.7" fill="#4a5af0" opacity="0.59"/>
<rect x="351.01" y="147.93" width="0.7" height="0.7" fill="#4a5af0" opacity="0.37"/>
<rect x="340.24" y="146.12" width="0.7" height="0.7" fill="#4a5af0" opacity="0.24"/>
<rect x="340.33" y="141.38" width="0.7" height="0.7" fill="#4a5af0" opacity="0.21"/>
<rect x="342.69" y="149.03" width="0.7" height="0.7" fill="#4a5af0" opacity="0.48"/>
<rect x="344.39" y="146.02" width="0.7" height="0.7" fill="#4a5af0" opacity="0.39"/>
<rect x="339.83" y="145.47" width="0.7" height="0.7" fill="#4a5af0" opacity="0.36"/>
<rect x="349.62" y="151.25" width="0.7" height="0.7" fill="#4a5af0" opacity="0.37"/>
<rect x="345.82" y="148.23" width="0.7" height="0.7" fill="#4a5af0" opacity="0.37"/>
<rect x="340.54" y="147.72" width="0.7" height="0.7" fill="#4a5af0" opacity="0.55"/>
<rect x="350.46" y="147.3" width="0.7" height="0.7" fill="#4a5af0" opacity="0.54"/>
<rect x="348.13" y="146.19" width="0.7" height="0.7" fill="#4a5af0" opacity="0.38"/>
<rect x="341.49" y="145.94" width="0.7" height="0.7" fill="#4a5af0" opacity="0.24"/>
<rect x="343.01" y="148.87" width="0.7" height="0.7" fill="#4a5af0" opacity="0.49"/>
<rect x="347" y="138.75" width="0.7" height="0.7" fill="#4a5af0" opacity="0.37"/>
<rect x="343.59" y="145.81" width="0.7" height="0.7" fill="#4a5af0" opacity="0.36"/>
<rect x="348.03" y="151.67" width="0.7" height="0.7" fill="#4a5af0" opacity="0.27"/>
<rect x="347.55" y="148.79" width="0.7" height="0.7" fill="#4a5af0" opacity="0.36"/>
<rect x="344.2" y="152.52" width="0.7" height="0.7" fill="#4a5af0" opacity="0.22"/>
<rect x="345.2" y="137.06" width="0.7" height="0.7" fill="#4a5af0" opacity="0.51"/>
<rect x="355.15" y="143.87" width="0.7" height="0.7" fill="#4a5af0" opacity="0.24"/>
<rect x="345.83" y="144.28" width="0.7" height="0.7" fill="#4a5af0" opacity="0.49"/>
<rect x="344.61" y="146.15" width="0.7" height="0.7" fill="#4a5af0" opacity="0.53"/>
<rect x="344.79" y="141.8" width="0.7" height="0.7" fill="#4a5af0" opacity="0.58"/>
<rect x="340.37" y="147" width="0.7" height="0.7" fill="#4a5af0" opacity="0.36"/>
<rect x="350.17" y="136.33" width="0.7" height="0.7" fill="#4a5af0" opacity="0.59"/>
<rect x="342.05" y="135.08" width="0.7" height="0.7" fill="#4a5af0" opacity="0.31"/>
<rect x="342.7" y="134.25" width="0.7" height="0.7" fill="#4a5af0" opacity="0.37"/>
<rect x="343.02" y="147.27" width="0.7" height="0.7" fill="#4a5af0" opacity="0.34"/>
<radialGradient id="g4" gradientUnits="userSpaceOnUse" cx="334.5" cy="152.5" r="11" gradientTransform="translate(334.5 152.5) scale(1 2.27) translate(-334.5 -152.5)"><stop offset="0" stop-color="#e8100c"/><stop offset="0.1" stop-color="#f06000"/><stop offset="0.2" stop-color="#f0e000"/><stop offset="0.32" stop-color="#40e030"/><stop offset="0.46" stop-color="#10d8e0"/><stop offset="0.62" stop-color="#1070f8"/><stop offset="0.8" stop-color="#1030f0"/><stop offset="1" stop-color="#1a28ee"/></radialGradient>
<clipPath id="g4c"><path d="M307.2 152.9 L307.2 142 Q311 136 318 134.3 L337 134.2 Q339.3 134.5 339.3 138 L339.3 152.9Z"/></clipPath>
<path d="M307.2 152.9 L307.2 142 Q311 136 318 134.3 L337 134.2 Q339.3 134.5 339.3 138 L339.3 152.9Z" fill="url(#g4)"/>
<linearGradient id="g4w" x1="0" x2="1" y1="0" y2="0"><stop offset="0" stop-color="#fff" stop-opacity="0.35"/><stop offset="0.5" stop-color="#fff" stop-opacity="0"/></linearGradient>
<g clip-path="url(#g4c)"><rect x="306.9" y="127.5" width="27.6" height="30" fill="url(#g4w)"/><rect x="306.9" y="127.5" width="16.56" height="30" fill="#fff" filter="url(#speck)" opacity="0.6"/></g>
<rect x="306.9" y="112.3" width="66.9" height="66.7" fill="none" stroke="#000" stroke-width="1.3"/>
<rect x="333.3" y="126.2" width="25.2" height="27.8" fill="none" stroke="#e8202a" stroke-width="1.1"/>
<text x="345.9" y="123.8" font-size="8.2" text-anchor="middle" textLength="9.2" lengthAdjust="spacingAndGlyphs">EV</text>
<line x1="303.5" y1="179" x2="306.9" y2="179" stroke="#000" stroke-width="0.9"/>
<line x1="305" y1="174.98" x2="306.9" y2="174.98" stroke="#000" stroke-width="0.6"/>
<line x1="305" y1="172.64" x2="306.9" y2="172.64" stroke="#000" stroke-width="0.6"/>
<line x1="305" y1="170.97" x2="306.9" y2="170.97" stroke="#000" stroke-width="0.6"/>
<line x1="305" y1="169.68" x2="306.9" y2="169.68" stroke="#000" stroke-width="0.6"/>
<line x1="305" y1="168.62" x2="306.9" y2="168.62" stroke="#000" stroke-width="0.6"/>
<line x1="305" y1="167.73" x2="306.9" y2="167.73" stroke="#000" stroke-width="0.6"/>
<line x1="305" y1="166.95" x2="306.9" y2="166.95" stroke="#000" stroke-width="0.6"/>
<line x1="305" y1="166.27" x2="306.9" y2="166.27" stroke="#000" stroke-width="0.6"/>
<line x1="306.9" y1="179" x2="306.9" y2="182.4" stroke="#000" stroke-width="0.9"/>
<line x1="310.93" y1="179" x2="310.93" y2="180.9" stroke="#000" stroke-width="0.6"/>
<line x1="313.28" y1="179" x2="313.28" y2="180.9" stroke="#000" stroke-width="0.6"/>
<line x1="314.96" y1="179" x2="314.96" y2="180.9" stroke="#000" stroke-width="0.6"/>
<line x1="316.25" y1="179" x2="316.25" y2="180.9" stroke="#000" stroke-width="0.6"/>
<line x1="317.31" y1="179" x2="317.31" y2="180.9" stroke="#000" stroke-width="0.6"/>
<line x1="318.21" y1="179" x2="318.21" y2="180.9" stroke="#000" stroke-width="0.6"/>
<line x1="318.98" y1="179" x2="318.98" y2="180.9" stroke="#000" stroke-width="0.6"/>
<line x1="319.67" y1="179" x2="319.67" y2="180.9" stroke="#000" stroke-width="0.6"/>
<text x="310.4" y="189.2" font-size="8" text-anchor="end" transform="rotate(-45 310.4 189.2)">10<tspan font-size="6.4" dy="-3.0">0</tspan></text>
<line x1="303.5" y1="165.66" x2="306.9" y2="165.66" stroke="#000" stroke-width="0.9"/>
<line x1="305" y1="161.64" x2="306.9" y2="161.64" stroke="#000" stroke-width="0.6"/>
<line x1="305" y1="159.3" x2="306.9" y2="159.3" stroke="#000" stroke-width="0.6"/>
<line x1="305" y1="157.63" x2="306.9" y2="157.63" stroke="#000" stroke-width="0.6"/>
<line x1="305" y1="156.34" x2="306.9" y2="156.34" stroke="#000" stroke-width="0.6"/>
<line x1="305" y1="155.28" x2="306.9" y2="155.28" stroke="#000" stroke-width="0.6"/>
<line x1="305" y1="154.39" x2="306.9" y2="154.39" stroke="#000" stroke-width="0.6"/>
<line x1="305" y1="153.61" x2="306.9" y2="153.61" stroke="#000" stroke-width="0.6"/>
<line x1="305" y1="152.93" x2="306.9" y2="152.93" stroke="#000" stroke-width="0.6"/>
<line x1="320.28" y1="179" x2="320.28" y2="182.4" stroke="#000" stroke-width="0.9"/>
<line x1="324.31" y1="179" x2="324.31" y2="180.9" stroke="#000" stroke-width="0.6"/>
<line x1="326.66" y1="179" x2="326.66" y2="180.9" stroke="#000" stroke-width="0.6"/>
<line x1="328.34" y1="179" x2="328.34" y2="180.9" stroke="#000" stroke-width="0.6"/>
<line x1="329.63" y1="179" x2="329.63" y2="180.9" stroke="#000" stroke-width="0.6"/>
<line x1="330.69" y1="179" x2="330.69" y2="180.9" stroke="#000" stroke-width="0.6"/>
<line x1="331.59" y1="179" x2="331.59" y2="180.9" stroke="#000" stroke-width="0.6"/>
<line x1="332.36" y1="179" x2="332.36" y2="180.9" stroke="#000" stroke-width="0.6"/>
<line x1="333.05" y1="179" x2="333.05" y2="180.9" stroke="#000" stroke-width="0.6"/>
<text x="323.78" y="189.2" font-size="8" text-anchor="end" transform="rotate(-45 323.78 189.2)">10<tspan font-size="6.4" dy="-3.0">1</tspan></text>
<line x1="303.5" y1="152.32" x2="306.9" y2="152.32" stroke="#000" stroke-width="0.9"/>
<line x1="305" y1="148.3" x2="306.9" y2="148.3" stroke="#000" stroke-width="0.6"/>
<line x1="305" y1="145.96" x2="306.9" y2="145.96" stroke="#000" stroke-width="0.6"/>
<line x1="305" y1="144.29" x2="306.9" y2="144.29" stroke="#000" stroke-width="0.6"/>
<line x1="305" y1="143" x2="306.9" y2="143" stroke="#000" stroke-width="0.6"/>
<line x1="305" y1="141.94" x2="306.9" y2="141.94" stroke="#000" stroke-width="0.6"/>
<line x1="305" y1="141.05" x2="306.9" y2="141.05" stroke="#000" stroke-width="0.6"/>
<line x1="305" y1="140.27" x2="306.9" y2="140.27" stroke="#000" stroke-width="0.6"/>
<line x1="305" y1="139.59" x2="306.9" y2="139.59" stroke="#000" stroke-width="0.6"/>
<line x1="333.66" y1="179" x2="333.66" y2="182.4" stroke="#000" stroke-width="0.9"/>
<line x1="337.69" y1="179" x2="337.69" y2="180.9" stroke="#000" stroke-width="0.6"/>
<line x1="340.04" y1="179" x2="340.04" y2="180.9" stroke="#000" stroke-width="0.6"/>
<line x1="341.72" y1="179" x2="341.72" y2="180.9" stroke="#000" stroke-width="0.6"/>
<line x1="343.01" y1="179" x2="343.01" y2="180.9" stroke="#000" stroke-width="0.6"/>
<line x1="344.07" y1="179" x2="344.07" y2="180.9" stroke="#000" stroke-width="0.6"/>
<line x1="344.97" y1="179" x2="344.97" y2="180.9" stroke="#000" stroke-width="0.6"/>
<line x1="345.74" y1="179" x2="345.74" y2="180.9" stroke="#000" stroke-width="0.6"/>
<line x1="346.43" y1="179" x2="346.43" y2="180.9" stroke="#000" stroke-width="0.6"/>
<text x="337.16" y="189.2" font-size="8" text-anchor="end" transform="rotate(-45 337.16 189.2)">10<tspan font-size="6.4" dy="-3.0">2</tspan></text>
<line x1="303.5" y1="138.98" x2="306.9" y2="138.98" stroke="#000" stroke-width="0.9"/>
<line x1="305" y1="134.96" x2="306.9" y2="134.96" stroke="#000" stroke-width="0.6"/>
<line x1="305" y1="132.62" x2="306.9" y2="132.62" stroke="#000" stroke-width="0.6"/>
<line x1="305" y1="130.95" x2="306.9" y2="130.95" stroke="#000" stroke-width="0.6"/>
<line x1="305" y1="129.66" x2="306.9" y2="129.66" stroke="#000" stroke-width="0.6"/>
<line x1="305" y1="128.6" x2="306.9" y2="128.6" stroke="#000" stroke-width="0.6"/>
<line x1="305" y1="127.71" x2="306.9" y2="127.71" stroke="#000" stroke-width="0.6"/>
<line x1="305" y1="126.93" x2="306.9" y2="126.93" stroke="#000" stroke-width="0.6"/>
<line x1="305" y1="126.25" x2="306.9" y2="126.25" stroke="#000" stroke-width="0.6"/>
<line x1="347.04" y1="179" x2="347.04" y2="182.4" stroke="#000" stroke-width="0.9"/>
<line x1="351.07" y1="179" x2="351.07" y2="180.9" stroke="#000" stroke-width="0.6"/>
<line x1="353.42" y1="179" x2="353.42" y2="180.9" stroke="#000" stroke-width="0.6"/>
<line x1="355.1" y1="179" x2="355.1" y2="180.9" stroke="#000" stroke-width="0.6"/>
<line x1="356.39" y1="179" x2="356.39" y2="180.9" stroke="#000" stroke-width="0.6"/>
<line x1="357.45" y1="179" x2="357.45" y2="180.9" stroke="#000" stroke-width="0.6"/>
<line x1="358.35" y1="179" x2="358.35" y2="180.9" stroke="#000" stroke-width="0.6"/>
<line x1="359.12" y1="179" x2="359.12" y2="180.9" stroke="#000" stroke-width="0.6"/>
<line x1="359.81" y1="179" x2="359.81" y2="180.9" stroke="#000" stroke-width="0.6"/>
<text x="350.54" y="189.2" font-size="8" text-anchor="end" transform="rotate(-45 350.54 189.2)">10<tspan font-size="6.4" dy="-3.0">3</tspan></text>
<line x1="303.5" y1="125.64" x2="306.9" y2="125.64" stroke="#000" stroke-width="0.9"/>
<line x1="305" y1="121.62" x2="306.9" y2="121.62" stroke="#000" stroke-width="0.6"/>
<line x1="305" y1="119.28" x2="306.9" y2="119.28" stroke="#000" stroke-width="0.6"/>
<line x1="305" y1="117.61" x2="306.9" y2="117.61" stroke="#000" stroke-width="0.6"/>
<line x1="305" y1="116.32" x2="306.9" y2="116.32" stroke="#000" stroke-width="0.6"/>
<line x1="305" y1="115.26" x2="306.9" y2="115.26" stroke="#000" stroke-width="0.6"/>
<line x1="305" y1="114.37" x2="306.9" y2="114.37" stroke="#000" stroke-width="0.6"/>
<line x1="305" y1="113.59" x2="306.9" y2="113.59" stroke="#000" stroke-width="0.6"/>
<line x1="305" y1="112.91" x2="306.9" y2="112.91" stroke="#000" stroke-width="0.6"/>
<line x1="360.42" y1="179" x2="360.42" y2="182.4" stroke="#000" stroke-width="0.9"/>
<line x1="364.45" y1="179" x2="364.45" y2="180.9" stroke="#000" stroke-width="0.6"/>
<line x1="366.8" y1="179" x2="366.8" y2="180.9" stroke="#000" stroke-width="0.6"/>
<line x1="368.48" y1="179" x2="368.48" y2="180.9" stroke="#000" stroke-width="0.6"/>
<line x1="369.77" y1="179" x2="369.77" y2="180.9" stroke="#000" stroke-width="0.6"/>
<line x1="370.83" y1="179" x2="370.83" y2="180.9" stroke="#000" stroke-width="0.6"/>
<line x1="371.73" y1="179" x2="371.73" y2="180.9" stroke="#000" stroke-width="0.6"/>
<line x1="372.5" y1="179" x2="372.5" y2="180.9" stroke="#000" stroke-width="0.6"/>
<line x1="373.19" y1="179" x2="373.19" y2="180.9" stroke="#000" stroke-width="0.6"/>
<text x="363.92" y="189.2" font-size="8" text-anchor="end" transform="rotate(-45 363.92 189.2)">10<tspan font-size="6.4" dy="-3.0">4</tspan></text>
<line x1="303.5" y1="112.3" x2="306.9" y2="112.3" stroke="#000" stroke-width="0.9"/>
<line x1="373.8" y1="179" x2="373.8" y2="182.4" stroke="#000" stroke-width="0.9"/>
<text x="377.3" y="189.2" font-size="8" text-anchor="end" transform="rotate(-45 377.3 189.2)">10<tspan font-size="6.4" dy="-3.0">5</tspan></text>
<text x="340.4" y="105.4" font-size="8.9" text-anchor="middle" textLength="22.4" lengthAdjust="spacingAndGlyphs">iECM</text>
<text x="29.7" y="178.6" font-size="10" textLength="40.6" lengthAdjust="spacingAndGlyphs" transform="rotate(-90 29.7 178.6)">488-FSC-H</text>
<line x1="26.5" y1="135.3" x2="26.5" y2="118" stroke="#000" stroke-width="0.95"/>
<path d="M24.0 119.6L29.0 119.6L26.5 113.9Z" fill="#000"/>
<text x="56.9" y="212.3" font-size="9.4" textLength="32.4" lengthAdjust="spacingAndGlyphs">PE-Cy7-A</text>
<line x1="92.9" y1="209.1" x2="369" y2="209.1" stroke="#000" stroke-width="1"/>
<path d="M368 207.1L373 209.1L368 211.1Z" fill="#000"/>
<rect x="431.5" y="76.99" width="10" height="4.51" fill="#a6002c"/>
<rect x="446.9" y="22.38" width="9.7" height="59.12" fill="#df8f1a"/>
<line x1="426.5" y1="11.2" x2="426.5" y2="82" stroke="#000" stroke-width="1"/>
<line x1="423.9" y1="81.5" x2="426.5" y2="81.5" stroke="#000" stroke-width="1"/>
<text x="420.6" y="84.56" font-size="8.5" text-anchor="end" textLength="4.05" lengthAdjust="spacingAndGlyphs">0</text>
<line x1="423.9" y1="58.93" x2="426.5" y2="58.93" stroke="#000" stroke-width="1"/>
<text x="420.6" y="61.99" font-size="8.5" text-anchor="end" textLength="4.05" lengthAdjust="spacingAndGlyphs">5</text>
<line x1="423.9" y1="36.37" x2="426.5" y2="36.37" stroke="#000" stroke-width="1"/>
<text x="420.6" y="39.43" font-size="8.5" text-anchor="end" textLength="8.1" lengthAdjust="spacingAndGlyphs">10</text>
<line x1="423.9" y1="13.8" x2="426.5" y2="13.8" stroke="#000" stroke-width="1"/>
<text x="420.6" y="16.86" font-size="8.5" text-anchor="end" textLength="8.1" lengthAdjust="spacingAndGlyphs">15</text>
<line x1="426.5" y1="81.5" x2="460.5" y2="81.5" stroke="#000" stroke-width="1"/>
<line x1="436.5" y1="81.5" x2="436.5" y2="83.8" stroke="#000" stroke-width="1"/>
<line x1="451.5" y1="81.5" x2="451.5" y2="83.8" stroke="#000" stroke-width="1"/>
<text x="403.8" y="84.6" font-size="10" textLength="77" lengthAdjust="spacingAndGlyphs" transform="rotate(-90 403.8 84.6)">Normalized EV count</text>
<text x="439.8" y="91.4" font-size="8.6" text-anchor="end" textLength="29" lengthAdjust="spacingAndGlyphs" transform="rotate(-45 439.8 91.4)">uEbCM</text>
<text x="454.7" y="91.4" font-size="8.6" text-anchor="end" textLength="27" lengthAdjust="spacingAndGlyphs" transform="rotate(-45 454.7 91.4)">iEbCM</text>
<rect x="431.5" y="194.29" width="10" height="4.51" fill="#a6002c"/>
<rect x="446.9" y="139.68" width="9.7" height="59.12" fill="#df8f1a"/>
<line x1="426.5" y1="128.5" x2="426.5" y2="199.3" stroke="#000" stroke-width="1"/>
<line x1="423.9" y1="198.8" x2="426.5" y2="198.8" stroke="#000" stroke-width="1"/>
<text x="420.6" y="201.86" font-size="8.5" text-anchor="end" textLength="4.05" lengthAdjust="spacingAndGlyphs">0</text>
<line x1="423.9" y1="176.23" x2="426.5" y2="176.23" stroke="#000" stroke-width="1"/>
<text x="420.6" y="179.29" font-size="8.5" text-anchor="end" textLength="4.05" lengthAdjust="spacingAndGlyphs">5</text>
<line x1="423.9" y1="153.67" x2="426.5" y2="153.67" stroke="#000" stroke-width="1"/>
<text x="420.6" y="156.73" font-size="8.5" text-anchor="end" textLength="8.1" lengthAdjust="spacingAndGlyphs">10</text>
<line x1="423.9" y1="131.1" x2="426.5" y2="131.1" stroke="#000" stroke-width="1"/>
<text x="420.6" y="134.16" font-size="8.5" text-anchor="end" textLength="8.1" lengthAdjust="spacingAndGlyphs">15</text>
<line x1="426.5" y1="198.8" x2="460.5" y2="198.8" stroke="#000" stroke-width="1"/>
<line x1="436.5" y1="198.8" x2="436.5" y2="201.1" stroke="#000" stroke-width="1"/>
<line x1="451.5" y1="198.8" x2="451.5" y2="201.1" stroke="#000" stroke-width="1"/>
<text x="403.8" y="201.9" font-size="10" textLength="77" lengthAdjust="spacingAndGlyphs" transform="rotate(-90 403.8 201.9)">Normalized EV count</text>
<text x="439.8" y="208.7" font-size="8.6" text-anchor="end" textLength="24" lengthAdjust="spacingAndGlyphs" transform="rotate(-45 439.8 208.7)">uECM</text>
<text x="454.7" y="208.7" font-size="8.6" text-anchor="end" textLength="22.5" lengthAdjust="spacingAndGlyphs" transform="rotate(-45 454.7 208.7)">iECM</text>
<text x="7.65" y="239.3" font-size="12.6" font-weight="bold" fill="#000">B</text>
<path d="M17.5 273.6L23.45 265.9L33.85 265.9L39.8 273.6Z" fill="#fff" stroke="#000" stroke-width="1.1" stroke-linejoin="round"/>
<rect x="24.05" y="261.3" width="9.2" height="4.6" fill="#fff" stroke="#000" stroke-width="1" rx="0.8"/>
<rect x="17.2" y="273.1" width="22.9" height="36.8" fill="#ea9218" stroke="#000" stroke-width="1.2" rx="1.6"/>
<ellipse cx="24.8" cy="280.7" rx="3.9" ry="5.4" fill="#e8c497" stroke="#111" stroke-width="0.9" transform="rotate(-18 24.8 280.7)"/>
<circle cx="24.4" cy="280" r="2.7" fill="#2f2d40" stroke="#111" stroke-width="0.5"/>
<path d="M22.9 279.9A1.7 1.7 0 0 0 25.9 280.4" stroke="#8cc63f" stroke-width="1.4" fill="none"/>
<ellipse cx="33.7" cy="291.9" rx="3.9" ry="5.4" fill="#e8c497" stroke="#111" stroke-width="0.9" transform="rotate(18 33.7 291.9)"/>
<circle cx="33.3" cy="291.2" r="2.7" fill="#2f2d40" stroke="#111" stroke-width="0.5"/>
<path d="M31.8 291.1A1.7 1.7 0 0 0 34.8 291.6" stroke="#8cc63f" stroke-width="1.4" fill="none"/>
<ellipse cx="24.8" cy="302.6" rx="4" ry="5.3" fill="#e8c497" stroke="#111" stroke-width="0.9" transform="rotate(40 24.8 302.6)"/>
<circle cx="24.4" cy="301.9" r="2.7" fill="#2f2d40" stroke="#111" stroke-width="0.5"/>
<path d="M22.9 301.8A1.7 1.7 0 0 0 25.9 302.3" stroke="#8cc63f" stroke-width="1.4" fill="none"/>
<circle cx="29.6" cy="275.7" r="1.3" fill="#3b8fd9" stroke="#1a1a1a" stroke-width="0.45"/>
<circle cx="35.7" cy="278" r="1.3" fill="#3b8fd9" stroke="#1a1a1a" stroke-width="0.45"/>
<circle cx="32.2" cy="282.4" r="1.3" fill="#3b8fd9" stroke="#1a1a1a" stroke-width="0.45"/>
<circle cx="20.7" cy="287.6" r="1.3" fill="#3b8fd9" stroke="#1a1a1a" stroke-width="0.45"/>
<circle cx="26" cy="291.4" r="1.3" fill="#3b8fd9" stroke="#1a1a1a" stroke-width="0.45"/>
<circle cx="21.5" cy="295.4" r="1.3" fill="#3b8fd9" stroke="#1a1a1a" stroke-width="0.45"/>
<circle cx="34.3" cy="299.5" r="1.3" fill="#3b8fd9" stroke="#1a1a1a" stroke-width="0.45"/>
<circle cx="32.8" cy="304.2" r="1.3" fill="#3b8fd9" stroke="#1a1a1a" stroke-width="0.45"/>
<circle cx="37" cy="306.5" r="1.3" fill="#3b8fd9" stroke="#1a1a1a" stroke-width="0.45"/>
<line x1="28.5" y1="309.9" x2="28.5" y2="315.6" stroke="#000" stroke-width="0.9"/>
<path d="M26.9 315.2L30.1 315.2L28.5 318.2Z" fill="#000"/>
<circle cx="25.37" cy="322.28" r="1.23" fill="#3b8fd9" stroke="#1a3a6a" stroke-width="0.4"/>
<circle cx="31.07" cy="321.8" r="1.23" fill="#3b8fd9" stroke="#1a3a6a" stroke-width="0.4"/>
<circle cx="24.23" cy="327.03" r="1.23" fill="#3b8fd9" stroke="#1a3a6a" stroke-width="0.4"/>
<circle cx="28.31" cy="325.31" r="1.23" fill="#3b8fd9" stroke="#1a3a6a" stroke-width="0.4"/>
<circle cx="32.59" cy="327.03" r="1.23" fill="#3b8fd9" stroke="#1a3a6a" stroke-width="0.4"/>
<circle cx="28.21" cy="329.69" r="1.23" fill="#3b8fd9" stroke="#1a3a6a" stroke-width="0.4"/>
<text x="28.7" y="341.7" font-size="8.3" text-anchor="middle" textLength="10.4" lengthAdjust="spacingAndGlyphs">EV</text>
<text x="66" y="347" font-size="10" textLength="107.6" lengthAdjust="spacingAndGlyphs" transform="rotate(-90 66 347)">Concentration (particles / ml)</text>
<line x1="96.6" y1="247.9" x2="96.6" y2="340" stroke="#000" stroke-width="1"/>
<line x1="96.1" y1="339.6" x2="241.5" y2="339.6" stroke="#000" stroke-width="1"/>
<text x="93.3" y="249.6" font-size="8.6" text-anchor="end">5.10<tspan font-size="6.2" dy="-3.4">6</tspan></text>
<text x="93.3" y="268.3" font-size="8.6" text-anchor="end">4.10<tspan font-size="6.2" dy="-3.4">6</tspan></text>
<text x="93.3" y="288.5" font-size="8.6" text-anchor="end">3.10<tspan font-size="6.2" dy="-3.4">6</tspan></text>
<text x="93.3" y="307.7" font-size="8.6" text-anchor="end">2.10<tspan font-size="6.2" dy="-3.4">6</tspan></text>
<text x="93.3" y="327.1" font-size="8.6" text-anchor="end">1.10<tspan font-size="6.2" dy="-3.4">6</tspan></text>
<text x="93.3" y="341.1" font-size="8.6" text-anchor="end">0</text>
<text x="97.6" y="350.3" font-size="8.4" text-anchor="middle" textLength="4.3" lengthAdjust="spacingAndGlyphs">0</text>
<text x="126" y="350.3" font-size="8.4" text-anchor="middle" textLength="12.9" lengthAdjust="spacingAndGlyphs">200</text>
<text x="154.4" y="350.3" font-size="8.4" text-anchor="middle" textLength="12.9" lengthAdjust="spacingAndGlyphs">400</text>
<text x="182.8" y="350.3" font-size="8.4" text-anchor="middle" textLength="12.9" lengthAdjust="spacingAndGlyphs">600</text>
<text x="211.2" y="350.3" font-size="8.4" text-anchor="middle" textLength="12.9" lengthAdjust="spacingAndGlyphs">800</text>
<text x="151.5" y="364.6" font-size="9.4" textLength="35.8" lengthAdjust="spacingAndGlyphs">Size (nm)</text>
<polyline fill="none" stroke="#5b9fdc" stroke-width="2.1" stroke-linejoin="round" stroke-linecap="round" points="96.8,339.4 100,339.2 104,339.2 105.2,338.6"/>
<polyline fill="none" stroke="#5b9fdc" stroke-width="2.2" stroke-linejoin="round" stroke-linecap="round" points="111.2,262 111.8,272 112.6,288 114,298 115.6,306 116.6,314 118.5,313.3 119.8,316 121.3,323 123,329 124.5,334 126.5,335.6 128.7,332.8 131,334 133.8,335.3 136.7,337 139.6,339 147,339.3 149.5,336.9 151.6,339.2 238,339.4"/>
<circle cx="105" cy="338.5" r="1.05" fill="none" stroke="#5b9fdc" stroke-width="0.75"/>
<circle cx="105.6" cy="336.5" r="1.05" fill="none" stroke="#5b9fdc" stroke-width="0.75"/>
<circle cx="106.1" cy="334" r="1.05" fill="none" stroke="#5b9fdc" stroke-width="0.75"/>
<circle cx="106.5" cy="331.5" r="1.05" fill="none" stroke="#5b9fdc" stroke-width="0.75"/>
<circle cx="106.8" cy="328.5" r="1.05" fill="none" stroke="#5b9fdc" stroke-width="0.75"/>
<circle cx="107" cy="325" r="1.05" fill="none" stroke="#5b9fdc" stroke-width="0.75"/>
<circle cx="107.1" cy="321" r="1.05" fill="none" stroke="#5b9fdc" stroke-width="0.75"/>
<circle cx="107.2" cy="317" r="1.05" fill="none" stroke="#5b9fdc" stroke-width="0.75"/>
<circle cx="107.2" cy="312" r="1.05" fill="none" stroke="#5b9fdc" stroke-width="0.75"/>
<circle cx="107.2" cy="307" r="1.05" fill="none" stroke="#5b9fdc" stroke-width="0.75"/>
<circle cx="107.3" cy="301" r="1.05" fill="none" stroke="#5b9fdc" stroke-width="0.75"/>
<circle cx="107.4" cy="295.5" r="1.05" fill="none" stroke="#5b9fdc" stroke-width="0.75"/>
<circle cx="107.5" cy="290" r="1.05" fill="none" stroke="#5b9fdc" stroke-width="0.75"/>
<circle cx="107.7" cy="285" r="1.05" fill="none" stroke="#5b9fdc" stroke-width="0.75"/>
<circle cx="108" cy="280" r="1.05" fill="none" stroke="#5b9fdc" stroke-width="0.75"/>
<circle cx="108.3" cy="276" r="1.05" fill="none" stroke="#5b9fdc" stroke-width="0.75"/>
<circle cx="108.6" cy="272.5" r="1.05" fill="none" stroke="#5b9fdc" stroke-width="0.75"/>
<circle cx="109" cy="269" r="1.05" fill="none" stroke="#5b9fdc" stroke-width="0.75"/>
<circle cx="109.3" cy="266" r="1.05" fill="none" stroke="#5b9fdc" stroke-width="0.75"/>
<circle cx="109.6" cy="263" r="1.05" fill="none" stroke="#5b9fdc" stroke-width="0.75"/>
<circle cx="110" cy="260.5" r="1.05" fill="none" stroke="#5b9fdc" stroke-width="0.75"/>
<circle cx="110.4" cy="259.8" r="1" fill="none" stroke="#5b9fdc" stroke-width="0.7"/>
<circle cx="110.54" cy="261.4" r="1" fill="none" stroke="#5b9fdc" stroke-width="0.7"/>
<circle cx="110.67" cy="263" r="1" fill="none" stroke="#5b9fdc" stroke-width="0.7"/>
<circle cx="110.8" cy="264.6" r="1" fill="none" stroke="#5b9fdc" stroke-width="0.7"/>
<circle cx="110.93" cy="266.2" r="1" fill="none" stroke="#5b9fdc" stroke-width="0.7"/>
<circle cx="111.06" cy="267.8" r="1" fill="none" stroke="#5b9fdc" stroke-width="0.7"/>
<circle cx="111.18" cy="269.4" r="1" fill="none" stroke="#5b9fdc" stroke-width="0.7"/>
<circle cx="111.29" cy="271" r="1" fill="none" stroke="#5b9fdc" stroke-width="0.7"/>
<circle cx="111.4" cy="272.6" r="1" fill="none" stroke="#5b9fdc" stroke-width="0.7"/>
<circle cx="111.51" cy="274.2" r="1" fill="none" stroke="#5b9fdc" stroke-width="0.7"/>
<circle cx="111.6" cy="275.8" r="1" fill="none" stroke="#5b9fdc" stroke-width="0.7"/>
<circle cx="111.69" cy="277.4" r="1" fill="none" stroke="#5b9fdc" stroke-width="0.7"/>
<circle cx="111.76" cy="279" r="1" fill="none" stroke="#5b9fdc" stroke-width="0.7"/>
<circle cx="111.83" cy="280.6" r="1" fill="none" stroke="#5b9fdc" stroke-width="0.7"/>
<circle cx="111.89" cy="282.2" r="1" fill="none" stroke="#5b9fdc" stroke-width="0.7"/>
<circle cx="111.94" cy="283.8" r="1" fill="none" stroke="#5b9fdc" stroke-width="0.7"/>
<circle cx="111.99" cy="285.4" r="1" fill="none" stroke="#5b9fdc" stroke-width="0.7"/>
<circle cx="112.02" cy="287" r="1" fill="none" stroke="#5b9fdc" stroke-width="0.7"/>
<circle cx="112.05" cy="288.6" r="1" fill="none" stroke="#5b9fdc" stroke-width="0.7"/>
<circle cx="112.07" cy="290.2" r="1" fill="none" stroke="#5b9fdc" stroke-width="0.7"/>
<circle cx="112.09" cy="291.8" r="1" fill="none" stroke="#5b9fdc" stroke-width="0.7"/>
<circle cx="112.09" cy="293.4" r="1" fill="none" stroke="#5b9fdc" stroke-width="0.7"/>
<circle cx="112.1" cy="295" r="1" fill="none" stroke="#5b9fdc" stroke-width="0.7"/>
<circle cx="112.1" cy="296.6" r="1" fill="none" stroke="#5b9fdc" stroke-width="0.7"/>
<circle cx="112.09" cy="298.2" r="1" fill="none" stroke="#5b9fdc" stroke-width="0.7"/>
<circle cx="112.08" cy="299.8" r="1" fill="none" stroke="#5b9fdc" stroke-width="0.7"/>
<circle cx="108.8" cy="262" r="0.9" fill="none" stroke="#5b9fdc" stroke-width="0.7"/>
<circle cx="108.95" cy="264.5" r="0.9" fill="none" stroke="#5b9fdc" stroke-width="0.7"/>
<circle cx="109.1" cy="267" r="0.9" fill="none" stroke="#5b9fdc" stroke-width="0.7"/>
<circle cx="109.25" cy="269.5" r="0.9" fill="none" stroke="#5b9fdc" stroke-width="0.7"/>
<circle cx="109.4" cy="272" r="0.9" fill="none" stroke="#5b9fdc" stroke-width="0.7"/>
<circle cx="109.55" cy="274.5" r="0.9" fill="none" stroke="#5b9fdc" stroke-width="0.7"/>
<circle cx="109.7" cy="277" r="0.9" fill="none" stroke="#5b9fdc" stroke-width="0.7"/>
<circle cx="109.85" cy="279.5" r="0.9" fill="none" stroke="#5b9fdc" stroke-width="0.7"/>
<circle cx="110" cy="282" r="0.9" fill="none" stroke="#5b9fdc" stroke-width="0.7"/>
<circle cx="110.15" cy="284.5" r="0.9" fill="none" stroke="#5b9fdc" stroke-width="0.7"/>
<text x="258.8" y="239" font-size="12.6" font-weight="bold" fill="#000">C</text>
<defs>
<radialGradient id="emDark" cx="0.5" cy="0.5" r="0.5"><stop offset="0" stop-color="#141414" stop-opacity="1"/><stop offset="0.5" stop-color="#1e1e1e" stop-opacity="0.9"/><stop offset="0.75" stop-color="#333" stop-opacity="0.5"/><stop offset="1" stop-color="#444" stop-opacity="0"/></radialGradient>
<radialGradient id="emDark2" cx="0.5" cy="0.5" r="0.5"><stop offset="0" stop-color="#303030" stop-opacity="0.65"/><stop offset="1" stop-color="#303030" stop-opacity="0"/></radialGradient>
<radialGradient id="emBright" cx="0.5" cy="0.5" r="0.5"><stop offset="0" stop-color="#ffffff" stop-opacity="0.9"/><stop offset="1" stop-color="#ffffff" stop-opacity="0"/></radialGradient>
<linearGradient id="emBase" x1="0" y1="0" x2="1" y2="0"><stop offset="0" stop-color="#6c6c6c"/><stop offset="0.08" stop-color="#8c8c8c"/><stop offset="0.2" stop-color="#b6b6b6"/><stop offset="0.32" stop-color="#cccccc"/><stop offset="0.55" stop-color="#c6c6c6"/><stop offset="0.8" stop-color="#bababa"/><stop offset="0.93" stop-color="#a2a2a2"/><stop offset="1" stop-color="#767676"/></linearGradient>
<radialGradient id="vesA" cx="0.5" cy="0.45" r="0.55"><stop offset="0" stop-color="#c8c8c8"/><stop offset="0.45" stop-color="#b8b8b8"/><stop offset="0.72" stop-color="#d0d0d0"/><stop offset="0.88" stop-color="#8a8a8a"/><stop offset="1" stop-color="#3a3a3a"/></radialGradient>
<radialGradient id="vesW" cx="0.45" cy="0.4" r="0.6"><stop offset="0" stop-color="#fafafa"/><stop offset="0.55" stop-color="#e8e8e8"/><stop offset="0.85" stop-color="#909090"/><stop offset="1" stop-color="#404040"/></radialGradient>
<filter id="emNoise" x="0" y="0" width="1" height="1"><feTurbulence type="fractalNoise" baseFrequency="0.35" numOctaves="2" seed="5"/><feColorMatrix type="matrix" values="0 0 0 0 1  0 0 0 0 1  0 0 0 0 1  0 0 0 1.6 -0.75"/></filter>
<filter id="emNoiseD" x="0" y="0" width="1" height="1"><feTurbulence type="fractalNoise" baseFrequency="0.3" numOctaves="2" seed="11"/><feColorMatrix type="matrix" values="0 0 0 0 0  0 0 0 0 0  0 0 0 0 0  0 0 0 1.4 -0.7"/></filter>
<filter id="blur1" x="-0.2" y="-0.2" width="1.4" height="1.4"><feGaussianBlur stdDeviation="0.45"/></filter>
<clipPath id="emClip"><rect x="268" y="248" width="132.5" height="112.3"/></clipPath>
</defs>
<g clip-path="url(#emClip)">
<rect x="268" y="248" width="132.5" height="112.3" fill="url(#emBase)"/>
<ellipse cx="312" cy="258" rx="26" ry="22" fill="url(#emBright)" opacity="0.8"/>
<ellipse cx="300" cy="300" rx="22" ry="40" fill="url(#emBright)" opacity="0.35"/>
<ellipse cx="330" cy="330" rx="36" ry="22" fill="url(#emBright)" opacity="0.35"/>
<ellipse cx="370" cy="300" rx="16" ry="14" fill="url(#emBright)" opacity="0.3"/>
<ellipse cx="270" cy="256" rx="18" ry="16" fill="url(#emDark2)"/>
<ellipse cx="400" cy="258" rx="14" ry="20" fill="url(#emDark2)" opacity="0.9"/>
<ellipse cx="272" cy="345" rx="14" ry="24" fill="url(#emDark2)" opacity="0.9"/>
<ellipse cx="400" cy="325" rx="10" ry="36" fill="url(#emDark2)" opacity="0.8"/>
<ellipse cx="300" cy="360" rx="30" ry="8" fill="url(#emDark2)" opacity="0.5"/>
<ellipse cx="345" cy="281" rx="27" ry="29" fill="url(#emDark)"/>
<ellipse cx="340" cy="282" rx="17" ry="20" fill="url(#emDark)" opacity="0.7"/>
<ellipse cx="360" cy="285" rx="12" ry="18" fill="url(#emDark2)"/>
<ellipse cx="372" cy="342" rx="18" ry="18" fill="url(#emDark)"/>
<ellipse cx="288" cy="269" rx="11" ry="12" fill="url(#emDark2)"/>
<ellipse cx="288" cy="269" rx="9" ry="10" fill="url(#emDark2)"/>
<ellipse cx="277.5" cy="291" rx="10" ry="10" fill="url(#emDark2)"/>
<ellipse cx="277.5" cy="291" rx="8" ry="8.5" fill="url(#emDark2)"/>
<ellipse cx="314" cy="321" rx="7" ry="11" fill="url(#emDark2)"/>
<ellipse cx="333" cy="353" rx="5.5" ry="6" fill="url(#emDark2)"/>
<ellipse cx="366" cy="258" rx="8" ry="6" fill="url(#emDark2)"/>
<rect x="268" y="248" width="132.5" height="112.3" fill="#fff" filter="url(#emNoise)" opacity="0.55"/>
<rect x="268" y="248" width="132.5" height="112.3" fill="#000" filter="url(#emNoiseD)" opacity="0.25"/>
<g filter="url(#blur1)">
<path d="M331.5 266 Q331 259 338 259.5 Q345 257 350.5 262 Q354 268 349 276 Q345 283 341.5 287 Q336 281 333 275 Q330.5 270 331.5 266Z" fill="url(#vesA)" stroke="#333" stroke-width="0.7"/>
<path d="M341 266 Q343.5 272 341.5 279 Q339 272 341 266Z" fill="#222"/>
<ellipse cx="328.5" cy="291.5" rx="7.3" ry="11.5" fill="url(#vesA)" stroke="#333" stroke-width="0.7" transform="rotate(-18 328.5 291.5)"/>
<path d="M326 286 Q324 292 327 299" fill="none" stroke="#444" stroke-width="1"/>
<ellipse cx="352.3" cy="288" rx="4.6" ry="8.6" fill="url(#vesA)" stroke="#333" stroke-width="0.6" transform="rotate(22 352.3 288)"/>
<ellipse cx="288.2" cy="268.2" rx="5.8" ry="7.2" fill="url(#vesW)" transform="rotate(-10 288.2 268.2)"/>
<path d="M283.5 270 Q287 276 293 271 Q290 274.5 287 274.5 Q285 273.5 283.5 270Z" fill="#555"/>
<ellipse cx="277.6" cy="290.6" rx="5.6" ry="6.2" fill="url(#vesW)"/>
<ellipse cx="376" cy="344" rx="8.6" ry="9.2" fill="url(#vesW)" stroke="#333" stroke-width="0.6"/>
<path d="M371 340 Q374 346 372 352 M377 337 Q381 344 379 351" fill="none" stroke="#777" stroke-width="1.1"/>
<ellipse cx="271.3" cy="333.6" rx="2.6" ry="3" fill="#f4f4f4"/>
<ellipse cx="275.2" cy="342.8" rx="2.6" ry="2.6" fill="none" stroke="#555" stroke-width="1"/>
<rect x="317.6" y="301.6" width="4.6" height="2.1" rx="1" fill="#f8f8f8" transform="rotate(-25 320 302.6)"/>
</g>
</g>
<rect x="377" y="351.6" width="18.7" height="2" fill="#fff"/>
<rect x="268" y="248" width="132.5" height="112.3" fill="none" stroke="#111" stroke-width="1"/>
<text x="7.7" y="391.8" font-size="12.6" font-weight="bold" fill="#000">D</text>
<path d="M19.7 406.6L25.85 398.9L36.25 398.9L42.4 406.6Z" fill="#fff" stroke="#000" stroke-width="1.1" stroke-linejoin="round"/>
<rect x="26.45" y="394.3" width="9.2" height="4.6" fill="#fff" stroke="#000" stroke-width="1" rx="0.8"/>
<rect x="19.4" y="406.1" width="23.3" height="36.5" fill="#4d5466" stroke="#000" stroke-width="1.2" rx="1.6"/>
<path d="M47.3 406.6L53.3 398.9L63.7 398.9L69.7 406.6Z" fill="#fff" stroke="#000" stroke-width="1.1" stroke-linejoin="round"/>
<rect x="53.9" y="394.3" width="9.2" height="4.6" fill="#fff" stroke="#000" stroke-width="1" rx="0.8"/>
<rect x="47" y="406.1" width="23" height="36.5" fill="#ea9218" stroke="#000" stroke-width="1.2" rx="1.6"/>
<ellipse cx="54.6" cy="413.7" rx="3.9" ry="5.4" fill="#e6a6dc" stroke="#111" stroke-width="0.9" transform="rotate(-18 54.6 413.7)"/>
<circle cx="54.2" cy="413" r="2.7" fill="#2f2d40" stroke="#111" stroke-width="0.5"/>
<path d="M52.7 412.9A1.7 1.7 0 0 0 55.7 413.4" stroke="#8cc63f" stroke-width="1.4" fill="none"/>
<ellipse cx="63.5" cy="424.9" rx="3.9" ry="5.4" fill="#e6a6dc" stroke="#111" stroke-width="0.9" transform="rotate(18 63.5 424.9)"/>
<circle cx="63.1" cy="424.2" r="2.7" fill="#2f2d40" stroke="#111" stroke-width="0.5"/>
<path d="M61.6 424.1A1.7 1.7 0 0 0 64.6 424.6" stroke="#8cc63f" stroke-width="1.4" fill="none"/>
<ellipse cx="54.6" cy="435.6" rx="4" ry="5.3" fill="#e6a6dc" stroke="#111" stroke-width="0.9" transform="rotate(40 54.6 435.6)"/>
<circle cx="54.2" cy="434.9" r="2.7" fill="#2f2d40" stroke="#111" stroke-width="0.5"/>
<path d="M52.7 434.8A1.7 1.7 0 0 0 55.7 435.3" stroke="#8cc63f" stroke-width="1.4" fill="none"/>
<circle cx="63.5" cy="409.6" r="1.3" fill="#3b8fd9" stroke="#1a1a1a" stroke-width="0.45"/>
<circle cx="66.4" cy="416.3" r="1.3" fill="#3b8fd9" stroke="#1a1a1a" stroke-width="0.45"/>
<circle cx="51" cy="420.6" r="1.3" fill="#3b8fd9" stroke="#1a1a1a" stroke-width="0.45"/>
<circle cx="55.8" cy="426.8" r="1.3" fill="#3b8fd9" stroke="#1a1a1a" stroke-width="0.45"/>
<circle cx="50.3" cy="428.3" r="1.3" fill="#3b8fd9" stroke="#1a1a1a" stroke-width="0.45"/>
<circle cx="66.4" cy="432.9" r="1.3" fill="#3b8fd9" stroke="#1a1a1a" stroke-width="0.45"/>
<circle cx="61.1" cy="436.5" r="1.3" fill="#3b8fd9" stroke="#1a1a1a" stroke-width="0.45"/>
<circle cx="65.6" cy="438.9" r="1.3" fill="#3b8fd9" stroke="#1a1a1a" stroke-width="0.45"/>
<line x1="31" y1="442.6" x2="31" y2="448.8" stroke="#000" stroke-width="0.9"/>
<path d="M29.4 448.4L32.6 448.4L31 451.4Z" fill="#000"/>
<line x1="58.5" y1="442.6" x2="58.5" y2="448.8" stroke="#000" stroke-width="0.9"/>
<path d="M56.9 448.4L60.1 448.4L58.5 451.4Z" fill="#000"/>
<path d="M28.9 455.5L31.3 457.5L33.7 455.5L33.7 469.9A2.4 2.4 0 0 1 28.9 469.9Z" fill="#4d5466" stroke="#111" stroke-width="1.0" stroke-linejoin="round"/>
<circle cx="55.1" cy="454.8" r="1.25" fill="#3b8fd9" stroke="#1a3a6a" stroke-width="0.4"/>
<circle cx="60.5" cy="454.1" r="1.25" fill="#3b8fd9" stroke="#1a3a6a" stroke-width="0.4"/>
<circle cx="58.5" cy="457.5" r="1.25" fill="#3b8fd9" stroke="#1a3a6a" stroke-width="0.4"/>
<circle cx="54.4" cy="459.9" r="1.25" fill="#3b8fd9" stroke="#1a3a6a" stroke-width="0.4"/>
<circle cx="62.5" cy="459.9" r="1.25" fill="#3b8fd9" stroke="#1a3a6a" stroke-width="0.4"/>
<circle cx="58.5" cy="461.9" r="1.25" fill="#3b8fd9" stroke="#1a3a6a" stroke-width="0.4"/>
<circle cx="55.1" cy="464.9" r="1.25" fill="#3b8fd9" stroke="#1a3a6a" stroke-width="0.4"/>
<circle cx="63.2" cy="464.9" r="1.25" fill="#3b8fd9" stroke="#1a3a6a" stroke-width="0.4"/>
<circle cx="58.7" cy="467.6" r="1.25" fill="#3b8fd9" stroke="#1a3a6a" stroke-width="0.4"/>
<text x="17.4" y="480" font-size="8.7" textLength="28" lengthAdjust="spacingAndGlyphs">control</text>
<text x="53.3" y="480" font-size="8.7" textLength="10.7" lengthAdjust="spacingAndGlyphs">EV</text>
<line x1="31" y1="483" x2="31" y2="486.2" stroke="#000" stroke-width="0.9"/>
<path d="M29.4 485.8L32.6 485.8L31 488.8Z" fill="#000"/>
<line x1="58.5" y1="483" x2="58.5" y2="486.2" stroke="#000" stroke-width="0.9"/>
<path d="M56.9 485.8L60.1 485.8L58.5 488.8Z" fill="#000"/>
<path d="M20.3 503.4L26.1 495.7L36.5 495.7L42.3 503.4Z" fill="#fff" stroke="#000" stroke-width="1.1" stroke-linejoin="round"/>
<rect x="26.7" y="491.1" width="9.2" height="4.6" fill="#fff" stroke="#000" stroke-width="1" rx="0.8"/>
<rect x="20" y="502.9" width="22.6" height="37.3" fill="#4d5466" stroke="#000" stroke-width="1.2" rx="1.6"/>
<circle cx="28.1" cy="510.6" r="4.8" fill="#f2aed6" stroke="#111" stroke-width="1"/>
<circle cx="27.3" cy="512.6" r="2.7" fill="#7b53a8" stroke="#111" stroke-width="0.8"/>
<circle cx="35.7" cy="522.2" r="4.8" fill="#f2aed6" stroke="#111" stroke-width="1"/>
<circle cx="34.9" cy="524.2" r="2.7" fill="#7b53a8" stroke="#111" stroke-width="0.8"/>
<circle cx="29.3" cy="533.2" r="4.8" fill="#f2aed6" stroke="#111" stroke-width="1"/>
<circle cx="28.5" cy="535.2" r="2.7" fill="#7b53a8" stroke="#111" stroke-width="0.8"/>
<path d="M47.8 503.4L53.55 495.7L63.95 495.7L69.7 503.4Z" fill="#fff" stroke="#000" stroke-width="1.1" stroke-linejoin="round"/>
<rect x="54.15" y="491.1" width="9.2" height="4.6" fill="#fff" stroke="#000" stroke-width="1" rx="0.8"/>
<rect x="47.5" y="502.9" width="22.5" height="37.3" fill="#4d5466" stroke="#000" stroke-width="1.2" rx="1.6"/>
<circle cx="55.6" cy="510.6" r="4.8" fill="#f2aed6" stroke="#111" stroke-width="1"/>
<circle cx="54.8" cy="512.6" r="2.7" fill="#7b53a8" stroke="#111" stroke-width="0.8"/>
<circle cx="63.2" cy="522.2" r="4.8" fill="#f2aed6" stroke="#111" stroke-width="1"/>
<circle cx="62.4" cy="524.2" r="2.7" fill="#7b53a8" stroke="#111" stroke-width="0.8"/>
<circle cx="56.8" cy="533.2" r="4.8" fill="#f2aed6" stroke="#111" stroke-width="1"/>
<circle cx="56" cy="535.2" r="2.7" fill="#7b53a8" stroke="#111" stroke-width="0.8"/>
<circle cx="61.1" cy="505.2" r="1.1" fill="#5cc4f2" stroke="#1a1a1a" stroke-width="0.45"/>
<circle cx="66.8" cy="506.9" r="1.1" fill="#5cc4f2" stroke="#1a1a1a" stroke-width="0.45"/>
<circle cx="63.4" cy="511.8" r="1.1" fill="#5cc4f2" stroke="#1a1a1a" stroke-width="0.45"/>
<circle cx="52.1" cy="516.4" r="1.1" fill="#5cc4f2" stroke="#1a1a1a" stroke-width="0.45"/>
<circle cx="56.9" cy="520.2" r="1.1" fill="#5cc4f2" stroke="#1a1a1a" stroke-width="0.45"/>
<circle cx="53" cy="524.8" r="1.1" fill="#5cc4f2" stroke="#1a1a1a" stroke-width="0.45"/>
<circle cx="66.5" cy="530" r="1.1" fill="#5cc4f2" stroke="#1a1a1a" stroke-width="0.45"/>
<circle cx="63.8" cy="533.2" r="1.1" fill="#5cc4f2" stroke="#1a1a1a" stroke-width="0.45"/>
<rect x="121.9" y="429.9" width="11" height="98.4" fill="#4b5366"/>
<rect x="139.8" y="445.4" width="11.6" height="82.9" fill="#6aaae4"/>
<rect x="157.9" y="462.1" width="11.5" height="66.2" fill="#6aaae4"/>
<rect x="176.2" y="464.8" width="11.3" height="63.5" fill="#6aaae4"/>
<rect x="193.7" y="464.2" width="12.1" height="64.1" fill="#6aaae4"/>
<line x1="127.4" y1="430" x2="127.4" y2="427.5" stroke="#000" stroke-width="1"/>
<line x1="125.4" y1="427.5" x2="129.4" y2="427.5" stroke="#000" stroke-width="1"/>
<line x1="145.6" y1="445.4" x2="145.6" y2="437.3" stroke="#000" stroke-width="1"/>
<line x1="143.6" y1="437.3" x2="147.6" y2="437.3" stroke="#000" stroke-width="1"/>
<line x1="163.6" y1="462.1" x2="163.6" y2="459.5" stroke="#000" stroke-width="1"/>
<line x1="161.6" y1="459.5" x2="165.6" y2="459.5" stroke="#000" stroke-width="1"/>
<line x1="181.9" y1="464.8" x2="181.9" y2="462" stroke="#000" stroke-width="1"/>
<line x1="179.9" y1="462" x2="183.9" y2="462" stroke="#000" stroke-width="1"/>
<line x1="199.8" y1="464.2" x2="199.8" y2="460.5" stroke="#000" stroke-width="1"/>
<line x1="197.8" y1="460.5" x2="201.8" y2="460.5" stroke="#000" stroke-width="1"/>
<circle cx="123.7" cy="435.2" r="2.1" fill="none" stroke="#000" stroke-width="1.1"/>
<circle cx="127.7" cy="427.1" r="2.1" fill="none" stroke="#000" stroke-width="1.1"/>
<circle cx="130.4" cy="429.2" r="2.1" fill="none" stroke="#000" stroke-width="1.1"/>
<circle cx="145.2" cy="429.8" r="2.1" fill="none" stroke="#000" stroke-width="1.1"/>
<circle cx="142" cy="454" r="2.1" fill="none" stroke="#000" stroke-width="1.1"/>
<circle cx="148.4" cy="452.1" r="2.1" fill="none" stroke="#000" stroke-width="1.1"/>
<circle cx="163.2" cy="456.2" r="2.1" fill="none" stroke="#000" stroke-width="1.1"/>
<circle cx="160.5" cy="466.9" r="2.1" fill="none" stroke="#000" stroke-width="1.1"/>
<circle cx="167" cy="462.1" r="2.1" fill="none" stroke="#000" stroke-width="1.1"/>
<circle cx="181.5" cy="459.7" r="2.1" fill="none" stroke="#000" stroke-width="1.1"/>
<circle cx="178.3" cy="469.1" r="2.1" fill="none" stroke="#000" stroke-width="1.1"/>
<circle cx="184.8" cy="466.4" r="2.1" fill="none" stroke="#000" stroke-width="1.1"/>
<circle cx="199" cy="458.3" r="2.1" fill="none" stroke="#000" stroke-width="1.1"/>
<circle cx="196.4" cy="466.4" r="2.1" fill="none" stroke="#000" stroke-width="1.1"/>
<circle cx="202.5" cy="466.4" r="2.1" fill="none" stroke="#000" stroke-width="1.1"/>
<line x1="118.2" y1="389.6" x2="118.2" y2="528.8" stroke="#000" stroke-width="1"/>
<line x1="115.6" y1="528.3" x2="118.2" y2="528.3" stroke="#000" stroke-width="1"/>
<text x="111.8" y="531.4" font-size="8.6" text-anchor="end" textLength="5" lengthAdjust="spacingAndGlyphs">0</text>
<line x1="115.6" y1="494.25" x2="118.2" y2="494.25" stroke="#000" stroke-width="1"/>
<text x="111.8" y="497.35" font-size="8.6" text-anchor="end" textLength="10" lengthAdjust="spacingAndGlyphs">20</text>
<line x1="115.6" y1="460.2" x2="118.2" y2="460.2" stroke="#000" stroke-width="1"/>
<text x="111.8" y="463.3" font-size="8.6" text-anchor="end" textLength="10" lengthAdjust="spacingAndGlyphs">40</text>
<line x1="115.6" y1="426.15" x2="118.2" y2="426.15" stroke="#000" stroke-width="1"/>
<text x="111.8" y="429.25" font-size="8.6" text-anchor="end" textLength="10" lengthAdjust="spacingAndGlyphs">60</text>
<line x1="115.6" y1="392.1" x2="118.2" y2="392.1" stroke="#000" stroke-width="1"/>
<text x="111.8" y="395.2" font-size="8.6" text-anchor="end" textLength="10" lengthAdjust="spacingAndGlyphs">80</text>
<line x1="118.2" y1="528.3" x2="208.5" y2="528.3" stroke="#000" stroke-width="1.1"/>
<line x1="127.4" y1="528.3" x2="127.4" y2="530.7" stroke="#000" stroke-width="1"/>
<line x1="145.6" y1="528.3" x2="145.6" y2="530.7" stroke="#000" stroke-width="1"/>
<line x1="163.6" y1="528.3" x2="163.6" y2="530.7" stroke="#000" stroke-width="1"/>
<line x1="181.9" y1="528.3" x2="181.9" y2="530.7" stroke="#000" stroke-width="1"/>
<line x1="199.8" y1="528.3" x2="199.8" y2="530.7" stroke="#000" stroke-width="1"/>
<line x1="126.9" y1="421.7" x2="146" y2="421.7" stroke="#333" stroke-width="1.2"/>
<text x="136.45" y="419.7" font-size="7.3" text-anchor="middle">ns</text>
<line x1="126.9" y1="410.4" x2="162.7" y2="410.4" stroke="#333" stroke-width="1.2"/>
<text x="144.8" y="411.9" font-size="10.5" text-anchor="middle" textLength="6.6" lengthAdjust="spacingAndGlyphs">**</text>
<line x1="126.9" y1="399.1" x2="180.2" y2="399.1" stroke="#333" stroke-width="1.2"/>
<text x="153.55" y="400.6" font-size="10.5" text-anchor="middle" textLength="9.6" lengthAdjust="spacingAndGlyphs">***</text>
<line x1="126.9" y1="388" x2="199" y2="388" stroke="#333" stroke-width="1.2"/>
<text x="162.95" y="389.5" font-size="10.5" text-anchor="middle" textLength="9.6" lengthAdjust="spacingAndGlyphs">***</text>
<text x="96" y="485.9" font-size="10" textLength="55.3" lengthAdjust="spacingAndGlyphs" transform="rotate(-90 96 485.9)">% reticulocytes</text>
<text x="145.6" y="542.3" font-size="8.6" text-anchor="middle" textLength="4.6" lengthAdjust="spacingAndGlyphs">1</text>
<text x="163.6" y="542.3" font-size="8.6" text-anchor="middle" textLength="4.6" lengthAdjust="spacingAndGlyphs">5</text>
<text x="181.9" y="542.3" font-size="8.6" text-anchor="middle" textLength="9.2" lengthAdjust="spacingAndGlyphs">10</text>
<text x="199.8" y="542.3" font-size="8.6" text-anchor="middle" textLength="9.2" lengthAdjust="spacingAndGlyphs">20</text>
<text x="130.8" y="538.6" font-size="8.8" text-anchor="end" textLength="30" lengthAdjust="spacingAndGlyphs" transform="rotate(-45 130.8 538.6)">Control</text>
<line x1="138.5" y1="546.9" x2="204.4" y2="546.9" stroke="#000" stroke-width="1"/>
<text x="150.6" y="558.5" font-size="9.4" textLength="43.1" lengthAdjust="spacingAndGlyphs">EV (μg/mL)</text>
<text x="227.1" y="391.9" font-size="12.6" font-weight="bold" fill="#000">E</text>
<path d="M258.8 412.4L264.7 404.7L275.1 404.7L281 412.4Z" fill="#fff" stroke="#000" stroke-width="1.1" stroke-linejoin="round"/>
<rect x="265.3" y="400.1" width="9.2" height="4.6" fill="#fff" stroke="#000" stroke-width="1" rx="0.8"/>
<rect x="258.5" y="411.9" width="22.8" height="36.6" fill="#4d5466" stroke="#000" stroke-width="1.2" rx="1.6"/>
<path d="M284.9 412.4L290.8 404.7L301.2 404.7L307.1 412.4Z" fill="#fff" stroke="#000" stroke-width="1.1" stroke-linejoin="round"/>
<rect x="291.4" y="400.1" width="9.2" height="4.6" fill="#fff" stroke="#000" stroke-width="1" rx="0.8"/>
<rect x="284.6" y="411.9" width="22.8" height="36.6" fill="#ea9218" stroke="#000" stroke-width="1.2" rx="1.6"/>
<ellipse cx="292.2" cy="419.5" rx="3.9" ry="5.4" fill="#e8c497" stroke="#111" stroke-width="0.9" transform="rotate(-18 292.2 419.5)"/>
<circle cx="291.8" cy="418.8" r="2.7" fill="#2f2d40" stroke="#111" stroke-width="0.5"/>
<path d="M290.3 418.7A1.7 1.7 0 0 0 293.3 419.2" stroke="#8cc63f" stroke-width="1.4" fill="none"/>
<ellipse cx="301.1" cy="430.7" rx="3.9" ry="5.4" fill="#e8c497" stroke="#111" stroke-width="0.9" transform="rotate(18 301.1 430.7)"/>
<circle cx="300.7" cy="430" r="2.7" fill="#2f2d40" stroke="#111" stroke-width="0.5"/>
<path d="M299.2 429.9A1.7 1.7 0 0 0 302.2 430.4" stroke="#8cc63f" stroke-width="1.4" fill="none"/>
<ellipse cx="292.2" cy="441.4" rx="4" ry="5.3" fill="#e8c497" stroke="#111" stroke-width="0.9" transform="rotate(40 292.2 441.4)"/>
<circle cx="291.8" cy="440.7" r="2.7" fill="#2f2d40" stroke="#111" stroke-width="0.5"/>
<path d="M290.3 440.6A1.7 1.7 0 0 0 293.3 441.1" stroke="#8cc63f" stroke-width="1.4" fill="none"/>
<circle cx="301.1" cy="415.4" r="1.3" fill="#3b8fd9" stroke="#1a1a1a" stroke-width="0.45"/>
<circle cx="304" cy="422.1" r="1.3" fill="#3b8fd9" stroke="#1a1a1a" stroke-width="0.45"/>
<circle cx="288.6" cy="426.4" r="1.3" fill="#3b8fd9" stroke="#1a1a1a" stroke-width="0.45"/>
<circle cx="293.4" cy="432.6" r="1.3" fill="#3b8fd9" stroke="#1a1a1a" stroke-width="0.45"/>
<circle cx="287.9" cy="434.1" r="1.3" fill="#3b8fd9" stroke="#1a1a1a" stroke-width="0.45"/>
<circle cx="304" cy="438.7" r="1.3" fill="#3b8fd9" stroke="#1a1a1a" stroke-width="0.45"/>
<circle cx="298.7" cy="442.3" r="1.3" fill="#3b8fd9" stroke="#1a1a1a" stroke-width="0.45"/>
<circle cx="303.2" cy="444.7" r="1.3" fill="#3b8fd9" stroke="#1a1a1a" stroke-width="0.45"/>
<path d="M310.7 412.4L316.6 404.7L327 404.7L332.9 412.4Z" fill="#fff" stroke="#000" stroke-width="1.1" stroke-linejoin="round"/>
<rect x="317.2" y="400.1" width="9.2" height="4.6" fill="#fff" stroke="#000" stroke-width="1" rx="0.8"/>
<rect x="310.4" y="411.9" width="22.8" height="36.6" fill="#ea9218" stroke="#000" stroke-width="1.2" rx="1.6"/>
<ellipse cx="318" cy="419.5" rx="3.9" ry="5.4" fill="#e8c497" stroke="#111" stroke-width="0.9" transform="rotate(-18 318 419.5)"/>
<circle cx="317.6" cy="418.8" r="2.7" fill="#2f2d40" stroke="#111" stroke-width="0.5"/>
<path d="M316.1 418.7A1.7 1.7 0 0 0 319.1 419.2" stroke="#8cc63f" stroke-width="1.4" fill="none"/>
<ellipse cx="326.9" cy="430.7" rx="3.9" ry="5.4" fill="#e8c497" stroke="#111" stroke-width="0.9" transform="rotate(18 326.9 430.7)"/>
<circle cx="326.5" cy="430" r="2.7" fill="#2f2d40" stroke="#111" stroke-width="0.5"/>
<path d="M325 429.9A1.7 1.7 0 0 0 328 430.4" stroke="#8cc63f" stroke-width="1.4" fill="none"/>
<ellipse cx="318" cy="441.4" rx="4" ry="5.3" fill="#e8c497" stroke="#111" stroke-width="0.9" transform="rotate(40 318 441.4)"/>
<circle cx="317.6" cy="440.7" r="2.7" fill="#2f2d40" stroke="#111" stroke-width="0.5"/>
<path d="M316.1 440.6A1.7 1.7 0 0 0 319.1 441.1" stroke="#8cc63f" stroke-width="1.4" fill="none"/>
<circle cx="326.9" cy="415.4" r="1.3" fill="#3b8fd9" stroke="#1a1a1a" stroke-width="0.45"/>
<circle cx="329.8" cy="422.1" r="1.3" fill="#3b8fd9" stroke="#1a1a1a" stroke-width="0.45"/>
<circle cx="314.4" cy="426.4" r="1.3" fill="#3b8fd9" stroke="#1a1a1a" stroke-width="0.45"/>
<circle cx="319.2" cy="432.6" r="1.3" fill="#3b8fd9" stroke="#1a1a1a" stroke-width="0.45"/>
<circle cx="313.7" cy="434.1" r="1.3" fill="#3b8fd9" stroke="#1a1a1a" stroke-width="0.45"/>
<circle cx="329.8" cy="438.7" r="1.3" fill="#3b8fd9" stroke="#1a1a1a" stroke-width="0.45"/>
<circle cx="324.5" cy="442.3" r="1.3" fill="#3b8fd9" stroke="#1a1a1a" stroke-width="0.45"/>
<circle cx="329" cy="444.7" r="1.3" fill="#3b8fd9" stroke="#1a1a1a" stroke-width="0.45"/>
<line x1="269.8" y1="448.5" x2="269.8" y2="456.4" stroke="#000" stroke-width="0.9"/>
<path d="M268.2 456L271.4 456L269.8 459Z" fill="#000"/>
<line x1="296" y1="448.5" x2="296" y2="456.4" stroke="#000" stroke-width="0.9"/>
<path d="M294.4 456L297.6 456L296 459Z" fill="#000"/>
<line x1="321.6" y1="448.5" x2="321.6" y2="456.4" stroke="#000" stroke-width="0.9"/>
<path d="M320 456L323.2 456L321.6 459Z" fill="#000"/>
<path d="M267.1 460.3L269.5 462.3L271.9 460.3L271.9 474.7A2.4 2.4 0 0 1 267.1 474.7Z" fill="#4d5466" stroke="#111" stroke-width="1.0" stroke-linejoin="round"/>
<path d="M293.8 460.3L296 462.3L298.2 460.3L298.2 474.9A2.2 2.2 0 0 1 293.8 474.9Z" fill="#ea9218" stroke="#111" stroke-width="1.0" stroke-linejoin="round"/>
<circle cx="295.2" cy="464" r="0.6" fill="#3a3550"/>
<circle cx="296.8" cy="467" r="0.6" fill="#3a3550"/>
<circle cx="295.2" cy="470" r="0.6" fill="#3a3550"/>
<circle cx="296.8" cy="473" r="0.6" fill="#3a3550"/>
<path d="M319.8 460.3L321.7 462.3L323.6 460.3L323.6 475.2A1.9 1.9 0 0 1 319.8 475.2Z" fill="#f2b4da" stroke="#111" stroke-width="1.0" stroke-linejoin="round"/>
<path d="M323.6 467 Q328 462.5 333 462.8" fill="none" stroke="#111" stroke-width="0.8"/>
<circle cx="335.2" cy="463.1" r="2.6" fill="#2a4a7a" stroke="#111" stroke-width="0.6" stroke-dasharray="1 0.6"/>
<text x="254" y="488.1" font-size="8.7" textLength="26" lengthAdjust="spacingAndGlyphs">control</text>
<text x="285.2" y="488.1" font-size="8.7" textLength="21.1" lengthAdjust="spacingAndGlyphs">iECM</text>
<text x="308.8" y="488.1" font-size="8.7" textLength="39.8" lengthAdjust="spacingAndGlyphs">iECM - EV</text>
<line x1="269.8" y1="494.4" x2="269.8" y2="499" stroke="#000" stroke-width="0.9"/>
<path d="M268.2 498.6L271.4 498.6L269.8 501.6Z" fill="#000"/>
<line x1="296.3" y1="494.4" x2="296.3" y2="499" stroke="#000" stroke-width="0.9"/>
<path d="M294.7 498.6L297.9 498.6L296.3 501.6Z" fill="#000"/>
<line x1="321.3" y1="494.4" x2="321.3" y2="499" stroke="#000" stroke-width="0.9"/>
<path d="M319.7 498.6L322.9 498.6L321.3 501.6Z" fill="#000"/>
<path d="M259.1 516.1L264.85 508.4L275.25 508.4L281 516.1Z" fill="#fff" stroke="#000" stroke-width="1.1" stroke-linejoin="round"/>
<rect x="265.45" y="503.8" width="9.2" height="4.6" fill="#fff" stroke="#000" stroke-width="1" rx="0.8"/>
<rect x="258.8" y="515.6" width="22.5" height="36.5" fill="#4d5466" stroke="#000" stroke-width="1.2" rx="1.6"/>
<circle cx="266.9" cy="523.3" r="4.8" fill="#f2aed6" stroke="#111" stroke-width="1"/>
<circle cx="266.1" cy="525.3" r="2.7" fill="#7b53a8" stroke="#111" stroke-width="0.8"/>
<circle cx="274.5" cy="534.9" r="4.8" fill="#f2aed6" stroke="#111" stroke-width="1"/>
<circle cx="273.7" cy="536.9" r="2.7" fill="#7b53a8" stroke="#111" stroke-width="0.8"/>
<circle cx="268.1" cy="545.9" r="4.8" fill="#f2aed6" stroke="#111" stroke-width="1"/>
<circle cx="267.3" cy="547.9" r="2.7" fill="#7b53a8" stroke="#111" stroke-width="0.8"/>
<path d="M285.5 516.1L291.3 508.4L301.7 508.4L307.5 516.1Z" fill="#fff" stroke="#000" stroke-width="1.1" stroke-linejoin="round"/>
<rect x="291.9" y="503.8" width="9.2" height="4.6" fill="#fff" stroke="#000" stroke-width="1" rx="0.8"/>
<rect x="285.2" y="515.6" width="22.6" height="36.5" fill="#ea9218" stroke="#000" stroke-width="1.2" rx="1.6"/>
<circle cx="293.3" cy="523.3" r="4.8" fill="#f2aed6" stroke="#111" stroke-width="1"/>
<circle cx="292.5" cy="525.3" r="2.7" fill="#7b53a8" stroke="#111" stroke-width="0.8"/>
<circle cx="300.9" cy="534.9" r="4.8" fill="#f2aed6" stroke="#111" stroke-width="1"/>
<circle cx="300.1" cy="536.9" r="2.7" fill="#7b53a8" stroke="#111" stroke-width="0.8"/>
<circle cx="294.5" cy="545.9" r="4.8" fill="#f2aed6" stroke="#111" stroke-width="1"/>
<circle cx="293.7" cy="547.9" r="2.7" fill="#7b53a8" stroke="#111" stroke-width="0.8"/>
<circle cx="298.8" cy="517.9" r="1.1" fill="#5cc4f2" stroke="#1a1a1a" stroke-width="0.45"/>
<circle cx="304.5" cy="519.6" r="1.1" fill="#5cc4f2" stroke="#1a1a1a" stroke-width="0.45"/>
<circle cx="301.1" cy="524.5" r="1.1" fill="#5cc4f2" stroke="#1a1a1a" stroke-width="0.45"/>
<circle cx="289.8" cy="529.1" r="1.1" fill="#5cc4f2" stroke="#1a1a1a" stroke-width="0.45"/>
<circle cx="294.6" cy="532.9" r="1.1" fill="#5cc4f2" stroke="#1a1a1a" stroke-width="0.45"/>
<circle cx="290.7" cy="537.5" r="1.1" fill="#5cc4f2" stroke="#1a1a1a" stroke-width="0.45"/>
<circle cx="304.2" cy="542.7" r="1.1" fill="#5cc4f2" stroke="#1a1a1a" stroke-width="0.45"/>
<circle cx="301.5" cy="545.9" r="1.1" fill="#5cc4f2" stroke="#1a1a1a" stroke-width="0.45"/>
<path d="M310.5 516.1L316.3 508.4L326.7 508.4L332.5 516.1Z" fill="#fff" stroke="#000" stroke-width="1.1" stroke-linejoin="round"/>
<rect x="316.9" y="503.8" width="9.2" height="4.6" fill="#fff" stroke="#000" stroke-width="1" rx="0.8"/>
<rect x="310.2" y="515.6" width="22.6" height="36.5" fill="#b0002e" stroke="#000" stroke-width="1.2" rx="1.6"/>
<circle cx="318.3" cy="523.3" r="4.8" fill="#f2aed6" stroke="#111" stroke-width="1"/>
<circle cx="317.5" cy="525.3" r="2.7" fill="#7b53a8" stroke="#111" stroke-width="0.8"/>
<circle cx="325.9" cy="534.9" r="4.8" fill="#f2aed6" stroke="#111" stroke-width="1"/>
<circle cx="325.1" cy="536.9" r="2.7" fill="#7b53a8" stroke="#111" stroke-width="0.8"/>
<circle cx="319.5" cy="545.9" r="4.8" fill="#f2aed6" stroke="#111" stroke-width="1"/>
<circle cx="318.7" cy="547.9" r="2.7" fill="#7b53a8" stroke="#111" stroke-width="0.8"/>
<rect x="429.92" y="420.82" width="0.7" height="0.7" fill="#4a5af0" opacity="0.5"/>
<rect x="440.6" y="425.96" width="0.7" height="0.7" fill="#4a5af0" opacity="0.29"/>
<rect x="437.63" y="423.66" width="0.7" height="0.7" fill="#4a5af0" opacity="0.28"/>
<rect x="429.03" y="430.2" width="0.7" height="0.7" fill="#4a5af0" opacity="0.52"/>
<rect x="434.56" y="424.98" width="0.7" height="0.7" fill="#4a5af0" opacity="0.42"/>
<rect x="429.61" y="433.39" width="0.7" height="0.7" fill="#4a5af0" opacity="0.34"/>
<rect x="434.64" y="430.92" width="0.7" height="0.7" fill="#4a5af0" opacity="0.53"/>
<rect x="432.09" y="422" width="0.7" height="0.7" fill="#4a5af0" opacity="0.42"/>
<rect x="429.02" y="431.17" width="0.7" height="0.7" fill="#4a5af0" opacity="0.34"/>
<rect x="438.64" y="421.55" width="0.7" height="0.7" fill="#4a5af0" opacity="0.35"/>
<rect x="429.83" y="424.24" width="0.7" height="0.7" fill="#4a5af0" opacity="0.27"/>
<rect x="428.7" y="429.27" width="0.7" height="0.7" fill="#4a5af0" opacity="0.31"/>
<rect x="429.76" y="422.13" width="0.7" height="0.7" fill="#4a5af0" opacity="0.39"/>
<rect x="431.59" y="427.83" width="0.7" height="0.7" fill="#4a5af0" opacity="0.46"/>
<rect x="430.84" y="432.79" width="0.7" height="0.7" fill="#4a5af0" opacity="0.54"/>
<rect x="428.78" y="431.07" width="0.7" height="0.7" fill="#4a5af0" opacity="0.56"/>
<rect x="437.28" y="419.39" width="0.7" height="0.7" fill="#4a5af0" opacity="0.53"/>
<rect x="434.54" y="417.25" width="0.7" height="0.7" fill="#4a5af0" opacity="0.2"/>
<rect x="440.87" y="428.15" width="0.7" height="0.7" fill="#4a5af0" opacity="0.3"/>
<rect x="428.92" y="419.43" width="0.7" height="0.7" fill="#4a5af0" opacity="0.29"/>
<rect x="437.13" y="422.89" width="0.7" height="0.7" fill="#4a5af0" opacity="0.26"/>
<rect x="439.79" y="430.46" width="0.7" height="0.7" fill="#4a5af0" opacity="0.27"/>
<rect x="439.51" y="427.34" width="0.7" height="0.7" fill="#4a5af0" opacity="0.51"/>
<rect x="435.14" y="432.2" width="0.7" height="0.7" fill="#4a5af0" opacity="0.52"/>
<rect x="438.39" y="420.36" width="0.7" height="0.7" fill="#4a5af0" opacity="0.48"/>
<rect x="432.95" y="429.61" width="0.7" height="0.7" fill="#4a5af0" opacity="0.38"/>
<rect x="439.32" y="426.44" width="0.7" height="0.7" fill="#4a5af0" opacity="0.31"/>
<rect x="429.68" y="419.37" width="0.7" height="0.7" fill="#4a5af0" opacity="0.4"/>
<rect x="428.78" y="424.94" width="0.7" height="0.7" fill="#4a5af0" opacity="0.26"/>
<rect x="432.4" y="425.47" width="0.7" height="0.7" fill="#4a5af0" opacity="0.42"/>
<rect x="438.9" y="417.11" width="0.7" height="0.7" fill="#4a5af0" opacity="0.54"/>
<rect x="432.09" y="426.56" width="0.7" height="0.7" fill="#4a5af0" opacity="0.47"/>
<rect x="438.43" y="423.37" width="0.7" height="0.7" fill="#4a5af0" opacity="0.37"/>
<radialGradient id="g5" gradientUnits="userSpaceOnUse" cx="424.5" cy="434.5" r="10" gradientTransform="translate(424.5 434.5) scale(1 2.5) translate(-424.5 -434.5)"><stop offset="0" stop-color="#e8100c"/><stop offset="0.1" stop-color="#f06000"/><stop offset="0.2" stop-color="#f0e000"/><stop offset="0.32" stop-color="#40e030"/><stop offset="0.46" stop-color="#10d8e0"/><stop offset="0.62" stop-color="#1070f8"/><stop offset="0.8" stop-color="#1030f0"/><stop offset="1" stop-color="#1a28ee"/></radialGradient>
<clipPath id="g5c"><path d="M396.6 433.9 L396.6 425 Q405 418 420 416.4 L426.5 416.4 Q428.7 417 428.7 420 L428.7 433.9Z"/></clipPath>
<path d="M396.6 433.9 L396.6 425 Q405 418 420 416.4 L426.5 416.4 Q428.7 417 428.7 420 L428.7 433.9Z" fill="url(#g5)"/>
<linearGradient id="g5w" x1="0" x2="1" y1="0" y2="0"><stop offset="0" stop-color="#fff" stop-opacity="0.35"/><stop offset="0.5" stop-color="#fff" stop-opacity="0"/></linearGradient>
<g clip-path="url(#g5c)"><rect x="396.3" y="409.5" width="28.2" height="30" fill="url(#g5w)"/><rect x="396.3" y="409.5" width="16.92" height="30" fill="#fff" filter="url(#speck)" opacity="0.6"/></g>
<rect x="396.3" y="393.8" width="64.6" height="65.6" fill="none" stroke="#000" stroke-width="1.3"/>
<rect x="422.5" y="408.3" width="24.3" height="27.1" fill="none" stroke="#e8202a" stroke-width="1.1"/>
<text x="434.65" y="405.9" font-size="8.2" text-anchor="middle" textLength="9.2" lengthAdjust="spacingAndGlyphs">EV</text>
<line x1="392.9" y1="459.4" x2="396.3" y2="459.4" stroke="#000" stroke-width="0.9"/>
<line x1="394.4" y1="455.45" x2="396.3" y2="455.45" stroke="#000" stroke-width="0.6"/>
<line x1="394.4" y1="453.14" x2="396.3" y2="453.14" stroke="#000" stroke-width="0.6"/>
<line x1="394.4" y1="451.5" x2="396.3" y2="451.5" stroke="#000" stroke-width="0.6"/>
<line x1="394.4" y1="450.23" x2="396.3" y2="450.23" stroke="#000" stroke-width="0.6"/>
<line x1="394.4" y1="449.19" x2="396.3" y2="449.19" stroke="#000" stroke-width="0.6"/>
<line x1="394.4" y1="448.31" x2="396.3" y2="448.31" stroke="#000" stroke-width="0.6"/>
<line x1="394.4" y1="447.55" x2="396.3" y2="447.55" stroke="#000" stroke-width="0.6"/>
<line x1="394.4" y1="446.88" x2="396.3" y2="446.88" stroke="#000" stroke-width="0.6"/>
<line x1="396.3" y1="459.4" x2="396.3" y2="462.8" stroke="#000" stroke-width="0.9"/>
<line x1="400.19" y1="459.4" x2="400.19" y2="461.3" stroke="#000" stroke-width="0.6"/>
<line x1="402.46" y1="459.4" x2="402.46" y2="461.3" stroke="#000" stroke-width="0.6"/>
<line x1="404.08" y1="459.4" x2="404.08" y2="461.3" stroke="#000" stroke-width="0.6"/>
<line x1="405.33" y1="459.4" x2="405.33" y2="461.3" stroke="#000" stroke-width="0.6"/>
<line x1="406.35" y1="459.4" x2="406.35" y2="461.3" stroke="#000" stroke-width="0.6"/>
<line x1="407.22" y1="459.4" x2="407.22" y2="461.3" stroke="#000" stroke-width="0.6"/>
<line x1="407.97" y1="459.4" x2="407.97" y2="461.3" stroke="#000" stroke-width="0.6"/>
<line x1="408.63" y1="459.4" x2="408.63" y2="461.3" stroke="#000" stroke-width="0.6"/>
<text x="399.8" y="469.6" font-size="8" text-anchor="end" transform="rotate(-45 399.8 469.6)">10<tspan font-size="6.4" dy="-3.0">0</tspan></text>
<text x="389.7" y="463.6" font-size="8.2" text-anchor="end">10<tspan font-size="6.4" dy="-3.4">0</tspan></text>
<line x1="392.9" y1="446.28" x2="396.3" y2="446.28" stroke="#000" stroke-width="0.9"/>
<line x1="394.4" y1="442.33" x2="396.3" y2="442.33" stroke="#000" stroke-width="0.6"/>
<line x1="394.4" y1="440.02" x2="396.3" y2="440.02" stroke="#000" stroke-width="0.6"/>
<line x1="394.4" y1="438.38" x2="396.3" y2="438.38" stroke="#000" stroke-width="0.6"/>
<line x1="394.4" y1="437.11" x2="396.3" y2="437.11" stroke="#000" stroke-width="0.6"/>
<line x1="394.4" y1="436.07" x2="396.3" y2="436.07" stroke="#000" stroke-width="0.6"/>
<line x1="394.4" y1="435.19" x2="396.3" y2="435.19" stroke="#000" stroke-width="0.6"/>
<line x1="394.4" y1="434.43" x2="396.3" y2="434.43" stroke="#000" stroke-width="0.6"/>
<line x1="394.4" y1="433.76" x2="396.3" y2="433.76" stroke="#000" stroke-width="0.6"/>
<line x1="409.22" y1="459.4" x2="409.22" y2="462.8" stroke="#000" stroke-width="0.9"/>
<line x1="413.11" y1="459.4" x2="413.11" y2="461.3" stroke="#000" stroke-width="0.6"/>
<line x1="415.38" y1="459.4" x2="415.38" y2="461.3" stroke="#000" stroke-width="0.6"/>
<line x1="417" y1="459.4" x2="417" y2="461.3" stroke="#000" stroke-width="0.6"/>
<line x1="418.25" y1="459.4" x2="418.25" y2="461.3" stroke="#000" stroke-width="0.6"/>
<line x1="419.27" y1="459.4" x2="419.27" y2="461.3" stroke="#000" stroke-width="0.6"/>
<line x1="420.14" y1="459.4" x2="420.14" y2="461.3" stroke="#000" stroke-width="0.6"/>
<line x1="420.89" y1="459.4" x2="420.89" y2="461.3" stroke="#000" stroke-width="0.6"/>
<line x1="421.55" y1="459.4" x2="421.55" y2="461.3" stroke="#000" stroke-width="0.6"/>
<text x="412.72" y="469.6" font-size="8" text-anchor="end" transform="rotate(-45 412.72 469.6)">10<tspan font-size="6.4" dy="-3.0">1</tspan></text>
<text x="389.7" y="450.48" font-size="8.2" text-anchor="end">10<tspan font-size="6.4" dy="-3.4">1</tspan></text>
<line x1="392.9" y1="433.16" x2="396.3" y2="433.16" stroke="#000" stroke-width="0.9"/>
<line x1="394.4" y1="429.21" x2="396.3" y2="429.21" stroke="#000" stroke-width="0.6"/>
<line x1="394.4" y1="426.9" x2="396.3" y2="426.9" stroke="#000" stroke-width="0.6"/>
<line x1="394.4" y1="425.26" x2="396.3" y2="425.26" stroke="#000" stroke-width="0.6"/>
<line x1="394.4" y1="423.99" x2="396.3" y2="423.99" stroke="#000" stroke-width="0.6"/>
<line x1="394.4" y1="422.95" x2="396.3" y2="422.95" stroke="#000" stroke-width="0.6"/>
<line x1="394.4" y1="422.07" x2="396.3" y2="422.07" stroke="#000" stroke-width="0.6"/>
<line x1="394.4" y1="421.31" x2="396.3" y2="421.31" stroke="#000" stroke-width="0.6"/>
<line x1="394.4" y1="420.64" x2="396.3" y2="420.64" stroke="#000" stroke-width="0.6"/>
<line x1="422.14" y1="459.4" x2="422.14" y2="462.8" stroke="#000" stroke-width="0.9"/>
<line x1="426.03" y1="459.4" x2="426.03" y2="461.3" stroke="#000" stroke-width="0.6"/>
<line x1="428.3" y1="459.4" x2="428.3" y2="461.3" stroke="#000" stroke-width="0.6"/>
<line x1="429.92" y1="459.4" x2="429.92" y2="461.3" stroke="#000" stroke-width="0.6"/>
<line x1="431.17" y1="459.4" x2="431.17" y2="461.3" stroke="#000" stroke-width="0.6"/>
<line x1="432.19" y1="459.4" x2="432.19" y2="461.3" stroke="#000" stroke-width="0.6"/>
<line x1="433.06" y1="459.4" x2="433.06" y2="461.3" stroke="#000" stroke-width="0.6"/>
<line x1="433.81" y1="459.4" x2="433.81" y2="461.3" stroke="#000" stroke-width="0.6"/>
<line x1="434.47" y1="459.4" x2="434.47" y2="461.3" stroke="#000" stroke-width="0.6"/>
<text x="425.64" y="469.6" font-size="8" text-anchor="end" transform="rotate(-45 425.64 469.6)">10<tspan font-size="6.4" dy="-3.0">2</tspan></text>
<text x="389.7" y="437.36" font-size="8.2" text-anchor="end">10<tspan font-size="6.4" dy="-3.4">2</tspan></text>
<line x1="392.9" y1="420.04" x2="396.3" y2="420.04" stroke="#000" stroke-width="0.9"/>
<line x1="394.4" y1="416.09" x2="396.3" y2="416.09" stroke="#000" stroke-width="0.6"/>
<line x1="394.4" y1="413.78" x2="396.3" y2="413.78" stroke="#000" stroke-width="0.6"/>
<line x1="394.4" y1="412.14" x2="396.3" y2="412.14" stroke="#000" stroke-width="0.6"/>
<line x1="394.4" y1="410.87" x2="396.3" y2="410.87" stroke="#000" stroke-width="0.6"/>
<line x1="394.4" y1="409.83" x2="396.3" y2="409.83" stroke="#000" stroke-width="0.6"/>
<line x1="394.4" y1="408.95" x2="396.3" y2="408.95" stroke="#000" stroke-width="0.6"/>
<line x1="394.4" y1="408.19" x2="396.3" y2="408.19" stroke="#000" stroke-width="0.6"/>
<line x1="394.4" y1="407.52" x2="396.3" y2="407.52" stroke="#000" stroke-width="0.6"/>
<line x1="435.06" y1="459.4" x2="435.06" y2="462.8" stroke="#000" stroke-width="0.9"/>
<line x1="438.95" y1="459.4" x2="438.95" y2="461.3" stroke="#000" stroke-width="0.6"/>
<line x1="441.22" y1="459.4" x2="441.22" y2="461.3" stroke="#000" stroke-width="0.6"/>
<line x1="442.84" y1="459.4" x2="442.84" y2="461.3" stroke="#000" stroke-width="0.6"/>
<line x1="444.09" y1="459.4" x2="444.09" y2="461.3" stroke="#000" stroke-width="0.6"/>
<line x1="445.11" y1="459.4" x2="445.11" y2="461.3" stroke="#000" stroke-width="0.6"/>
<line x1="445.98" y1="459.4" x2="445.98" y2="461.3" stroke="#000" stroke-width="0.6"/>
<line x1="446.73" y1="459.4" x2="446.73" y2="461.3" stroke="#000" stroke-width="0.6"/>
<line x1="447.39" y1="459.4" x2="447.39" y2="461.3" stroke="#000" stroke-width="0.6"/>
<text x="438.56" y="469.6" font-size="8" text-anchor="end" transform="rotate(-45 438.56 469.6)">10<tspan font-size="6.4" dy="-3.0">3</tspan></text>
<text x="389.7" y="424.24" font-size="8.2" text-anchor="end">10<tspan font-size="6.4" dy="-3.4">3</tspan></text>
<line x1="392.9" y1="406.92" x2="396.3" y2="406.92" stroke="#000" stroke-width="0.9"/>
<line x1="394.4" y1="402.97" x2="396.3" y2="402.97" stroke="#000" stroke-width="0.6"/>
<line x1="394.4" y1="400.66" x2="396.3" y2="400.66" stroke="#000" stroke-width="0.6"/>
<line x1="394.4" y1="399.02" x2="396.3" y2="399.02" stroke="#000" stroke-width="0.6"/>
<line x1="394.4" y1="397.75" x2="396.3" y2="397.75" stroke="#000" stroke-width="0.6"/>
<line x1="394.4" y1="396.71" x2="396.3" y2="396.71" stroke="#000" stroke-width="0.6"/>
<line x1="394.4" y1="395.83" x2="396.3" y2="395.83" stroke="#000" stroke-width="0.6"/>
<line x1="394.4" y1="395.07" x2="396.3" y2="395.07" stroke="#000" stroke-width="0.6"/>
<line x1="394.4" y1="394.4" x2="396.3" y2="394.4" stroke="#000" stroke-width="0.6"/>
<line x1="447.98" y1="459.4" x2="447.98" y2="462.8" stroke="#000" stroke-width="0.9"/>
<line x1="451.87" y1="459.4" x2="451.87" y2="461.3" stroke="#000" stroke-width="0.6"/>
<line x1="454.14" y1="459.4" x2="454.14" y2="461.3" stroke="#000" stroke-width="0.6"/>
<line x1="455.76" y1="459.4" x2="455.76" y2="461.3" stroke="#000" stroke-width="0.6"/>
<line x1="457.01" y1="459.4" x2="457.01" y2="461.3" stroke="#000" stroke-width="0.6"/>
<line x1="458.03" y1="459.4" x2="458.03" y2="461.3" stroke="#000" stroke-width="0.6"/>
<line x1="458.9" y1="459.4" x2="458.9" y2="461.3" stroke="#000" stroke-width="0.6"/>
<line x1="459.65" y1="459.4" x2="459.65" y2="461.3" stroke="#000" stroke-width="0.6"/>
<line x1="460.31" y1="459.4" x2="460.31" y2="461.3" stroke="#000" stroke-width="0.6"/>
<text x="451.48" y="469.6" font-size="8" text-anchor="end" transform="rotate(-45 451.48 469.6)">10<tspan font-size="6.4" dy="-3.0">4</tspan></text>
<text x="389.7" y="411.12" font-size="8.2" text-anchor="end">10<tspan font-size="6.4" dy="-3.4">4</tspan></text>
<line x1="392.9" y1="393.8" x2="396.3" y2="393.8" stroke="#000" stroke-width="0.9"/>
<line x1="460.9" y1="459.4" x2="460.9" y2="462.8" stroke="#000" stroke-width="0.9"/>
<text x="464.4" y="469.6" font-size="8" text-anchor="end" transform="rotate(-45 464.4 469.6)">10<tspan font-size="6.4" dy="-3.0">5</tspan></text>
<text x="389.7" y="398" font-size="8.2" text-anchor="end">10<tspan font-size="6.4" dy="-3.4">5</tspan></text>
<text x="428.6" y="387.7" font-size="8.9" text-anchor="middle">iECM</text>
<rect x="396.3" y="496.9" width="64.6" height="64.6" fill="none" stroke="#000" stroke-width="1.3"/>
<rect x="422.5" y="510.8" width="24.3" height="27" fill="none" stroke="#e8202a" stroke-width="1.1"/>
<text x="434.65" y="508.4" font-size="8.2" text-anchor="middle" textLength="9.2" lengthAdjust="spacingAndGlyphs">EV</text>
<line x1="392.9" y1="561.5" x2="396.3" y2="561.5" stroke="#000" stroke-width="0.9"/>
<line x1="394.4" y1="557.61" x2="396.3" y2="557.61" stroke="#000" stroke-width="0.6"/>
<line x1="394.4" y1="555.34" x2="396.3" y2="555.34" stroke="#000" stroke-width="0.6"/>
<line x1="394.4" y1="553.72" x2="396.3" y2="553.72" stroke="#000" stroke-width="0.6"/>
<line x1="394.4" y1="552.47" x2="396.3" y2="552.47" stroke="#000" stroke-width="0.6"/>
<line x1="394.4" y1="551.45" x2="396.3" y2="551.45" stroke="#000" stroke-width="0.6"/>
<line x1="394.4" y1="550.58" x2="396.3" y2="550.58" stroke="#000" stroke-width="0.6"/>
<line x1="394.4" y1="549.83" x2="396.3" y2="549.83" stroke="#000" stroke-width="0.6"/>
<line x1="394.4" y1="549.17" x2="396.3" y2="549.17" stroke="#000" stroke-width="0.6"/>
<line x1="396.3" y1="561.5" x2="396.3" y2="564.9" stroke="#000" stroke-width="0.9"/>
<line x1="400.19" y1="561.5" x2="400.19" y2="563.4" stroke="#000" stroke-width="0.6"/>
<line x1="402.46" y1="561.5" x2="402.46" y2="563.4" stroke="#000" stroke-width="0.6"/>
<line x1="404.08" y1="561.5" x2="404.08" y2="563.4" stroke="#000" stroke-width="0.6"/>
<line x1="405.33" y1="561.5" x2="405.33" y2="563.4" stroke="#000" stroke-width="0.6"/>
<line x1="406.35" y1="561.5" x2="406.35" y2="563.4" stroke="#000" stroke-width="0.6"/>
<line x1="407.22" y1="561.5" x2="407.22" y2="563.4" stroke="#000" stroke-width="0.6"/>
<line x1="407.97" y1="561.5" x2="407.97" y2="563.4" stroke="#000" stroke-width="0.6"/>
<line x1="408.63" y1="561.5" x2="408.63" y2="563.4" stroke="#000" stroke-width="0.6"/>
<text x="399.8" y="571.7" font-size="8" text-anchor="end" transform="rotate(-45 399.8 571.7)">10<tspan font-size="6.4" dy="-3.0">0</tspan></text>
<text x="389.7" y="565.7" font-size="8.2" text-anchor="end">10<tspan font-size="6.4" dy="-3.4">0</tspan></text>
<line x1="392.9" y1="548.58" x2="396.3" y2="548.58" stroke="#000" stroke-width="0.9"/>
<line x1="394.4" y1="544.69" x2="396.3" y2="544.69" stroke="#000" stroke-width="0.6"/>
<line x1="394.4" y1="542.42" x2="396.3" y2="542.42" stroke="#000" stroke-width="0.6"/>
<line x1="394.4" y1="540.8" x2="396.3" y2="540.8" stroke="#000" stroke-width="0.6"/>
<line x1="394.4" y1="539.55" x2="396.3" y2="539.55" stroke="#000" stroke-width="0.6"/>
<line x1="394.4" y1="538.53" x2="396.3" y2="538.53" stroke="#000" stroke-width="0.6"/>
<line x1="394.4" y1="537.66" x2="396.3" y2="537.66" stroke="#000" stroke-width="0.6"/>
<line x1="394.4" y1="536.91" x2="396.3" y2="536.91" stroke="#000" stroke-width="0.6"/>
<line x1="394.4" y1="536.25" x2="396.3" y2="536.25" stroke="#000" stroke-width="0.6"/>
<line x1="409.22" y1="561.5" x2="409.22" y2="564.9" stroke="#000" stroke-width="0.9"/>
<line x1="413.11" y1="561.5" x2="413.11" y2="563.4" stroke="#000" stroke-width="0.6"/>
<line x1="415.38" y1="561.5" x2="415.38" y2="563.4" stroke="#000" stroke-width="0.6"/>
<line x1="417" y1="561.5" x2="417" y2="563.4" stroke="#000" stroke-width="0.6"/>
<line x1="418.25" y1="561.5" x2="418.25" y2="563.4" stroke="#000" stroke-width="0.6"/>
<line x1="419.27" y1="561.5" x2="419.27" y2="563.4" stroke="#000" stroke-width="0.6"/>
<line x1="420.14" y1="561.5" x2="420.14" y2="563.4" stroke="#000" stroke-width="0.6"/>
<line x1="420.89" y1="561.5" x2="420.89" y2="563.4" stroke="#000" stroke-width="0.6"/>
<line x1="421.55" y1="561.5" x2="421.55" y2="563.4" stroke="#000" stroke-width="0.6"/>
<text x="412.72" y="571.7" font-size="8" text-anchor="end" transform="rotate(-45 412.72 571.7)">10<tspan font-size="6.4" dy="-3.0">1</tspan></text>
<text x="389.7" y="552.78" font-size="8.2" text-anchor="end">10<tspan font-size="6.4" dy="-3.4">1</tspan></text>
<line x1="392.9" y1="535.66" x2="396.3" y2="535.66" stroke="#000" stroke-width="0.9"/>
<line x1="394.4" y1="531.77" x2="396.3" y2="531.77" stroke="#000" stroke-width="0.6"/>
<line x1="394.4" y1="529.5" x2="396.3" y2="529.5" stroke="#000" stroke-width="0.6"/>
<line x1="394.4" y1="527.88" x2="396.3" y2="527.88" stroke="#000" stroke-width="0.6"/>
<line x1="394.4" y1="526.63" x2="396.3" y2="526.63" stroke="#000" stroke-width="0.6"/>
<line x1="394.4" y1="525.61" x2="396.3" y2="525.61" stroke="#000" stroke-width="0.6"/>
<line x1="394.4" y1="524.74" x2="396.3" y2="524.74" stroke="#000" stroke-width="0.6"/>
<line x1="394.4" y1="523.99" x2="396.3" y2="523.99" stroke="#000" stroke-width="0.6"/>
<line x1="394.4" y1="523.33" x2="396.3" y2="523.33" stroke="#000" stroke-width="0.6"/>
<line x1="422.14" y1="561.5" x2="422.14" y2="564.9" stroke="#000" stroke-width="0.9"/>
<line x1="426.03" y1="561.5" x2="426.03" y2="563.4" stroke="#000" stroke-width="0.6"/>
<line x1="428.3" y1="561.5" x2="428.3" y2="563.4" stroke="#000" stroke-width="0.6"/>
<line x1="429.92" y1="561.5" x2="429.92" y2="563.4" stroke="#000" stroke-width="0.6"/>
<line x1="431.17" y1="561.5" x2="431.17" y2="563.4" stroke="#000" stroke-width="0.6"/>
<line x1="432.19" y1="561.5" x2="432.19" y2="563.4" stroke="#000" stroke-width="0.6"/>
<line x1="433.06" y1="561.5" x2="433.06" y2="563.4" stroke="#000" stroke-width="0.6"/>
<line x1="433.81" y1="561.5" x2="433.81" y2="563.4" stroke="#000" stroke-width="0.6"/>
<line x1="434.47" y1="561.5" x2="434.47" y2="563.4" stroke="#000" stroke-width="0.6"/>
<text x="425.64" y="571.7" font-size="8" text-anchor="end" transform="rotate(-45 425.64 571.7)">10<tspan font-size="6.4" dy="-3.0">2</tspan></text>
<text x="389.7" y="539.86" font-size="8.2" text-anchor="end">10<tspan font-size="6.4" dy="-3.4">2</tspan></text>
<line x1="392.9" y1="522.74" x2="396.3" y2="522.74" stroke="#000" stroke-width="0.9"/>
<line x1="394.4" y1="518.85" x2="396.3" y2="518.85" stroke="#000" stroke-width="0.6"/>
<line x1="394.4" y1="516.58" x2="396.3" y2="516.58" stroke="#000" stroke-width="0.6"/>
<line x1="394.4" y1="514.96" x2="396.3" y2="514.96" stroke="#000" stroke-width="0.6"/>
<line x1="394.4" y1="513.71" x2="396.3" y2="513.71" stroke="#000" stroke-width="0.6"/>
<line x1="394.4" y1="512.69" x2="396.3" y2="512.69" stroke="#000" stroke-width="0.6"/>
<line x1="394.4" y1="511.82" x2="396.3" y2="511.82" stroke="#000" stroke-width="0.6"/>
<line x1="394.4" y1="511.07" x2="396.3" y2="511.07" stroke="#000" stroke-width="0.6"/>
<line x1="394.4" y1="510.41" x2="396.3" y2="510.41" stroke="#000" stroke-width="0.6"/>
<line x1="435.06" y1="561.5" x2="435.06" y2="564.9" stroke="#000" stroke-width="0.9"/>
<line x1="438.95" y1="561.5" x2="438.95" y2="563.4" stroke="#000" stroke-width="0.6"/>
<line x1="441.22" y1="561.5" x2="441.22" y2="563.4" stroke="#000" stroke-width="0.6"/>
<line x1="442.84" y1="561.5" x2="442.84" y2="563.4" stroke="#000" stroke-width="0.6"/>
<line x1="444.09" y1="561.5" x2="444.09" y2="563.4" stroke="#000" stroke-width="0.6"/>
<line x1="445.11" y1="561.5" x2="445.11" y2="563.4" stroke="#000" stroke-width="0.6"/>
<line x1="445.98" y1="561.5" x2="445.98" y2="563.4" stroke="#000" stroke-width="0.6"/>
<line x1="446.73" y1="561.5" x2="446.73" y2="563.4" stroke="#000" stroke-width="0.6"/>
<line x1="447.39" y1="561.5" x2="447.39" y2="563.4" stroke="#000" stroke-width="0.6"/>
<text x="438.56" y="571.7" font-size="8" text-anchor="end" transform="rotate(-45 438.56 571.7)">10<tspan font-size="6.4" dy="-3.0">3</tspan></text>
<text x="389.7" y="526.94" font-size="8.2" text-anchor="end">10<tspan font-size="6.4" dy="-3.4">3</tspan></text>
<line x1="392.9" y1="509.82" x2="396.3" y2="509.82" stroke="#000" stroke-width="0.9"/>
<line x1="394.4" y1="505.93" x2="396.3" y2="505.93" stroke="#000" stroke-width="0.6"/>
<line x1="394.4" y1="503.66" x2="396.3" y2="503.66" stroke="#000" stroke-width="0.6"/>
<line x1="394.4" y1="502.04" x2="396.3" y2="502.04" stroke="#000" stroke-width="0.6"/>
<line x1="394.4" y1="500.79" x2="396.3" y2="500.79" stroke="#000" stroke-width="0.6"/>
<line x1="394.4" y1="499.77" x2="396.3" y2="499.77" stroke="#000" stroke-width="0.6"/>
<line x1="394.4" y1="498.9" x2="396.3" y2="498.9" stroke="#000" stroke-width="0.6"/>
<line x1="394.4" y1="498.15" x2="396.3" y2="498.15" stroke="#000" stroke-width="0.6"/>
<line x1="394.4" y1="497.49" x2="396.3" y2="497.49" stroke="#000" stroke-width="0.6"/>
<line x1="447.98" y1="561.5" x2="447.98" y2="564.9" stroke="#000" stroke-width="0.9"/>
<line x1="451.87" y1="561.5" x2="451.87" y2="563.4" stroke="#000" stroke-width="0.6"/>
<line x1="454.14" y1="561.5" x2="454.14" y2="563.4" stroke="#000" stroke-width="0.6"/>
<line x1="455.76" y1="561.5" x2="455.76" y2="563.4" stroke="#000" stroke-width="0.6"/>
<line x1="457.01" y1="561.5" x2="457.01" y2="563.4" stroke="#000" stroke-width="0.6"/>
<line x1="458.03" y1="561.5" x2="458.03" y2="563.4" stroke="#000" stroke-width="0.6"/>
<line x1="458.9" y1="561.5" x2="458.9" y2="563.4" stroke="#000" stroke-width="0.6"/>
<line x1="459.65" y1="561.5" x2="459.65" y2="563.4" stroke="#000" stroke-width="0.6"/>
<line x1="460.31" y1="561.5" x2="460.31" y2="563.4" stroke="#000" stroke-width="0.6"/>
<text x="451.48" y="571.7" font-size="8" text-anchor="end" transform="rotate(-45 451.48 571.7)">10<tspan font-size="6.4" dy="-3.0">4</tspan></text>
<text x="389.7" y="514.02" font-size="8.2" text-anchor="end">10<tspan font-size="6.4" dy="-3.4">4</tspan></text>
<line x1="392.9" y1="496.9" x2="396.3" y2="496.9" stroke="#000" stroke-width="0.9"/>
<line x1="460.9" y1="561.5" x2="460.9" y2="564.9" stroke="#000" stroke-width="0.9"/>
<text x="464.4" y="571.7" font-size="8" text-anchor="end" transform="rotate(-45 464.4 571.7)">10<tspan font-size="6.4" dy="-3.0">5</tspan></text>
<text x="389.7" y="501.1" font-size="8.2" text-anchor="end">10<tspan font-size="6.4" dy="-3.4">5</tspan></text>
<text x="428.6" y="489.2" font-size="8.9" text-anchor="middle">iECM- EV</text>
<rect x="418.57" y="530.61" width="0.7" height="0.7" fill="#3a4cf0" opacity="0.42"/>
<rect x="423.01" y="531.98" width="0.7" height="0.7" fill="#3a4cf0" opacity="0.53"/>
<rect x="410.5" y="540.9" width="0.7" height="0.7" fill="#3a4cf0" opacity="0.37"/>
<rect x="417.77" y="530.37" width="0.7" height="0.7" fill="#3a4cf0" opacity="0.42"/>
<rect x="411.97" y="537.75" width="0.7" height="0.7" fill="#3a4cf0" opacity="0.37"/>
<rect x="405.34" y="530.9" width="0.7" height="0.7" fill="#3a4cf0" opacity="0.39"/>
<rect x="418.58" y="528.05" width="0.7" height="0.7" fill="#3a4cf0" opacity="0.34"/>
<rect x="413.14" y="530.92" width="0.7" height="0.7" fill="#3a4cf0" opacity="0.54"/>
<rect x="412.2" y="525.15" width="0.7" height="0.7" fill="#3a4cf0" opacity="0.31"/>
<rect x="414.94" y="536.06" width="0.7" height="0.7" fill="#3a4cf0" opacity="0.47"/>
<rect x="423.94" y="532.6" width="0.7" height="0.7" fill="#3a4cf0" opacity="0.39"/>
<rect x="411.57" y="527.3" width="0.7" height="0.7" fill="#3a4cf0" opacity="0.52"/>
<rect x="411.94" y="527.42" width="0.7" height="0.7" fill="#3a4cf0" opacity="0.44"/>
<rect x="409.04" y="521.28" width="0.7" height="0.7" fill="#3a4cf0" opacity="0.47"/>
<rect x="417.06" y="512.67" width="0.7" height="0.7" fill="#3a4cf0" opacity="0.43"/>
<rect x="410.99" y="536.46" width="0.7" height="0.7" fill="#3a4cf0" opacity="0.4"/>
<rect x="416.6" y="534.39" width="0.7" height="0.7" fill="#3a4cf0" opacity="0.31"/>
<rect x="410.82" y="533.42" width="0.7" height="0.7" fill="#3a4cf0" opacity="0.22"/>
<rect x="418.36" y="519.49" width="0.7" height="0.7" fill="#3a4cf0" opacity="0.52"/>
<rect x="416.07" y="531.22" width="0.7" height="0.7" fill="#3a4cf0" opacity="0.41"/>
<rect x="428.75" y="526.71" width="0.7" height="0.7" fill="#3a4cf0" opacity="0.34"/>
<rect x="414.92" y="529.01" width="0.7" height="0.7" fill="#3a4cf0" opacity="0.2"/>
<rect x="415.85" y="529.14" width="0.7" height="0.7" fill="#3a4cf0" opacity="0.23"/>
<rect x="412.72" y="522.88" width="0.7" height="0.7" fill="#3a4cf0" opacity="0.46"/>
<rect x="417.37" y="532.19" width="0.7" height="0.7" fill="#3a4cf0" opacity="0.45"/>
<rect x="404.23" y="520.05" width="0.7" height="0.7" fill="#3a4cf0" opacity="0.36"/>
<rect x="420.01" y="529.74" width="0.7" height="0.7" fill="#3a4cf0" opacity="0.45"/>
<rect x="417.59" y="531.05" width="0.7" height="0.7" fill="#3a4cf0" opacity="0.49"/>
<rect x="420.28" y="532.66" width="0.7" height="0.7" fill="#3a4cf0" opacity="0.26"/>
<rect x="406.07" y="534.77" width="0.7" height="0.7" fill="#3a4cf0" opacity="0.35"/>
<rect x="415.66" y="528.99" width="0.7" height="0.7" fill="#3a4cf0" opacity="0.33"/>
<rect x="412.82" y="526.55" width="0.7" height="0.7" fill="#3a4cf0" opacity="0.34"/>
<rect x="419.3" y="521.62" width="0.7" height="0.7" fill="#3a4cf0" opacity="0.4"/>
<rect x="416.37" y="532.36" width="0.7" height="0.7" fill="#3a4cf0" opacity="0.45"/>
<rect x="418.73" y="527.82" width="0.7" height="0.7" fill="#3a4cf0" opacity="0.54"/>
<rect x="419.85" y="526.27" width="0.7" height="0.7" fill="#3a4cf0" opacity="0.35"/>
<rect x="420.21" y="528.49" width="0.7" height="0.7" fill="#3a4cf0" opacity="0.41"/>
<rect x="423.43" y="526.59" width="0.7" height="0.7" fill="#3a4cf0" opacity="0.2"/>
<rect x="416.41" y="535.18" width="0.7" height="0.7" fill="#3a4cf0" opacity="0.49"/>
<rect x="417.83" y="530.24" width="0.7" height="0.7" fill="#3a4cf0" opacity="0.48"/>
<rect x="420.82" y="527.14" width="0.7" height="0.7" fill="#3a4cf0" opacity="0.5"/>
<rect x="419.25" y="525.31" width="0.7" height="0.7" fill="#3a4cf0" opacity="0.32"/>
<rect x="421.83" y="533.59" width="0.7" height="0.7" fill="#3a4cf0" opacity="0.27"/>
<rect x="403.4" y="521.45" width="0.7" height="0.7" fill="#3a4cf0" opacity="0.36"/>
<rect x="417.75" y="533.95" width="0.7" height="0.7" fill="#3a4cf0" opacity="0.48"/>
<rect x="414.89" y="531.43" width="0.7" height="0.7" fill="#3a4cf0" opacity="0.47"/>
<rect x="417.45" y="536.24" width="0.7" height="0.7" fill="#3a4cf0" opacity="0.51"/>
<rect x="411.62" y="530.38" width="0.7" height="0.7" fill="#3a4cf0" opacity="0.27"/>
<rect x="417.83" y="533.36" width="0.7" height="0.7" fill="#3a4cf0" opacity="0.33"/>
<rect x="412.51" y="529.4" width="0.7" height="0.7" fill="#3a4cf0" opacity="0.25"/>
<rect x="421.92" y="534.5" width="0.7" height="0.7" fill="#3a4cf0" opacity="0.25"/>
<rect x="413.33" y="528.89" width="0.7" height="0.7" fill="#3a4cf0" opacity="0.21"/>
<rect x="410.87" y="531.44" width="0.7" height="0.7" fill="#3a4cf0" opacity="0.47"/>
<rect x="406.85" y="535.34" width="0.7" height="0.7" fill="#3a4cf0" opacity="0.49"/>
<rect x="415.72" y="532.21" width="0.7" height="0.7" fill="#3a4cf0" opacity="0.23"/>
<rect x="422.37" y="532.61" width="0.7" height="0.7" fill="#3a4cf0" opacity="0.36"/>
<rect x="406.61" y="523.93" width="0.7" height="0.7" fill="#3a4cf0" opacity="0.24"/>
<rect x="420.23" y="530.22" width="0.7" height="0.7" fill="#3a4cf0" opacity="0.42"/>
<rect x="423.39" y="529.39" width="0.7" height="0.7" fill="#3a4cf0" opacity="0.36"/>
<rect x="423.22" y="539.76" width="0.7" height="0.7" fill="#3a4cf0" opacity="0.28"/>
<rect x="420.23" y="531.74" width="0.7" height="0.7" fill="#3a4cf0" opacity="0.52"/>
<rect x="417.21" y="517.28" width="0.7" height="0.7" fill="#3a4cf0" opacity="0.43"/>
<rect x="415.08" y="527.98" width="0.7" height="0.7" fill="#3a4cf0" opacity="0.47"/>
<rect x="420.01" y="533.18" width="0.7" height="0.7" fill="#3a4cf0" opacity="0.24"/>
<rect x="422.42" y="536.25" width="0.7" height="0.7" fill="#3a4cf0" opacity="0.2"/>
<rect x="419.71" y="525.83" width="0.7" height="0.7" fill="#3a4cf0" opacity="0.53"/>
<rect x="410.16" y="529.03" width="0.7" height="0.7" fill="#3a4cf0" opacity="0.53"/>
<rect x="420.34" y="526.29" width="0.7" height="0.7" fill="#3a4cf0" opacity="0.32"/>
<rect x="419.12" y="526.91" width="0.7" height="0.7" fill="#3a4cf0" opacity="0.25"/>
<rect x="417.08" y="532.35" width="0.7" height="0.7" fill="#3a4cf0" opacity="0.39"/>
<rect x="422.52" y="537.38" width="0.7" height="0.7" fill="#3a4cf0" opacity="0.34"/>
<rect x="418.84" y="533.64" width="0.7" height="0.7" fill="#3a4cf0" opacity="0.32"/>
<rect x="419.44" y="535.04" width="0.7" height="0.7" fill="#3a4cf0" opacity="0.52"/>
<rect x="424.57" y="521.63" width="0.7" height="0.7" fill="#3a4cf0" opacity="0.27"/>
<rect x="413.06" y="531.46" width="0.7" height="0.7" fill="#3a4cf0" opacity="0.27"/>
<rect x="407.51" y="540.25" width="0.7" height="0.7" fill="#3a4cf0" opacity="0.52"/>
<rect x="419.91" y="532.9" width="0.7" height="0.7" fill="#3a4cf0" opacity="0.22"/>
<rect x="416.24" y="527.7" width="0.7" height="0.7" fill="#3a4cf0" opacity="0.21"/>
<rect x="413.89" y="530.57" width="0.7" height="0.7" fill="#3a4cf0" opacity="0.52"/>
<rect x="420.56" y="538.87" width="0.7" height="0.7" fill="#3a4cf0" opacity="0.45"/>
<rect x="405.83" y="522.84" width="0.7" height="0.7" fill="#3a4cf0" opacity="0.3"/>
<rect x="418.53" y="536.3" width="0.7" height="0.7" fill="#3a4cf0" opacity="0.48"/>
<rect x="413" y="520.87" width="0.7" height="0.7" fill="#3a4cf0" opacity="0.45"/>
<rect x="424.69" y="533.49" width="0.7" height="0.7" fill="#3a4cf0" opacity="0.49"/>
<rect x="422.65" y="523.74" width="0.7" height="0.7" fill="#3a4cf0" opacity="0.51"/>
<rect x="416.5" y="533.55" width="0.7" height="0.7" fill="#3a4cf0" opacity="0.33"/>
<rect x="419.09" y="534.3" width="0.7" height="0.7" fill="#3a4cf0" opacity="0.2"/>
<rect x="411.84" y="530.46" width="0.7" height="0.7" fill="#3a4cf0" opacity="0.24"/>
<rect x="414.93" y="523.82" width="0.7" height="0.7" fill="#3a4cf0" opacity="0.31"/>
<rect x="415.71" y="527.2" width="0.7" height="0.7" fill="#3a4cf0" opacity="0.22"/>
<rect x="424.76" y="523.88" width="0.7" height="0.7" fill="#3a4cf0" opacity="0.38"/>
<rect x="420.27" y="526.99" width="0.7" height="0.7" fill="#3a4cf0" opacity="0.26"/>
<rect x="419.59" y="532.83" width="0.7" height="0.7" fill="#3a4cf0" opacity="0.21"/>
<rect x="426.1" y="529.05" width="0.7" height="0.7" fill="#3a4cf0" opacity="0.4"/>
<rect x="423.76" y="519.87" width="0.7" height="0.7" fill="#3a4cf0" opacity="0.22"/>
<rect x="420.64" y="534.26" width="0.7" height="0.7" fill="#3a4cf0" opacity="0.3"/>
<rect x="399.01" y="520.41" width="0.7" height="0.7" fill="#3a4cf0" opacity="0.25"/>
<rect x="423.74" y="513.36" width="0.7" height="0.7" fill="#3a4cf0" opacity="0.34"/>
<rect x="409.07" y="534.67" width="0.7" height="0.7" fill="#3a4cf0" opacity="0.34"/>
<rect x="424.23" y="528.5" width="0.7" height="0.7" fill="#3a4cf0" opacity="0.28"/>
<rect x="414.29" y="534.68" width="0.7" height="0.7" fill="#3a4cf0" opacity="0.48"/>
<rect x="424.01" y="527.17" width="0.7" height="0.7" fill="#3a4cf0" opacity="0.22"/>
<rect x="405.29" y="529.9" width="0.7" height="0.7" fill="#3a4cf0" opacity="0.29"/>
<rect x="411.05" y="533.66" width="0.7" height="0.7" fill="#3a4cf0" opacity="0.39"/>
<rect x="421.24" y="532.8" width="0.7" height="0.7" fill="#3a4cf0" opacity="0.21"/>
<rect x="424.59" y="539.13" width="0.7" height="0.7" fill="#3a4cf0" opacity="0.53"/>
<rect x="411.19" y="525.59" width="0.7" height="0.7" fill="#3a4cf0" opacity="0.51"/>
<rect x="423.24" y="532.23" width="0.7" height="0.7" fill="#3a4cf0" opacity="0.44"/>
<rect x="415.96" y="535.95" width="0.7" height="0.7" fill="#3a4cf0" opacity="0.42"/>
<rect x="416.78" y="535.85" width="0.7" height="0.7" fill="#3a4cf0" opacity="0.53"/>
<rect x="415.88" y="534.32" width="0.7" height="0.7" fill="#3a4cf0" opacity="0.24"/>
<rect x="407.26" y="525.42" width="0.7" height="0.7" fill="#3a4cf0" opacity="0.29"/>
<rect x="417.4" y="530.61" width="0.7" height="0.7" fill="#3a4cf0" opacity="0.3"/>
<rect x="423.63" y="532.61" width="0.7" height="0.7" fill="#3a4cf0" opacity="0.49"/>
<rect x="412.19" y="527.69" width="0.7" height="0.7" fill="#3a4cf0" opacity="0.27"/>
<rect x="415.54" y="526.69" width="0.7" height="0.7" fill="#3a4cf0" opacity="0.41"/>
<rect x="415.92" y="536.26" width="0.7" height="0.7" fill="#3a4cf0" opacity="0.33"/>
<rect x="416.19" y="530.68" width="0.7" height="0.7" fill="#3a4cf0" opacity="0.5"/>
<rect x="417.22" y="536.09" width="0.7" height="0.7" fill="#3a4cf0" opacity="0.3"/>
<rect x="420.64" y="530.74" width="0.7" height="0.7" fill="#3a4cf0" opacity="0.26"/>
<rect x="425.31" y="534.3" width="0.7" height="0.7" fill="#3a4cf0" opacity="0.22"/>
<rect x="413.03" y="533.79" width="0.7" height="0.7" fill="#3a4cf0" opacity="0.24"/>
<rect x="418.61" y="541" width="0.7" height="0.7" fill="#3a4cf0" opacity="0.25"/>
<rect x="414.57" y="534.19" width="0.7" height="0.7" fill="#3a4cf0" opacity="0.42"/>
<rect x="421.82" y="525" width="0.7" height="0.7" fill="#3a4cf0" opacity="0.46"/>
<rect x="416.47" y="524.25" width="0.7" height="0.7" fill="#3a4cf0" opacity="0.47"/>
<rect x="414.58" y="527.53" width="0.7" height="0.7" fill="#3a4cf0" opacity="0.47"/>
<rect x="412.17" y="528.59" width="0.7" height="0.7" fill="#3a4cf0" opacity="0.4"/>
<rect x="409.8" y="534.45" width="0.7" height="0.7" fill="#3a4cf0" opacity="0.41"/>
<rect x="413.13" y="534.01" width="0.7" height="0.7" fill="#3a4cf0" opacity="0.45"/>
<rect x="415.58" y="534.84" width="0.7" height="0.7" fill="#3a4cf0" opacity="0.33"/>
<rect x="413.26" y="537.33" width="0.7" height="0.7" fill="#3a4cf0" opacity="0.37"/>
<rect x="414.04" y="531.88" width="0.7" height="0.7" fill="#3a4cf0" opacity="0.25"/>
<rect x="420.98" y="525.02" width="0.7" height="0.7" fill="#3a4cf0" opacity="0.5"/>
<rect x="418.23" y="531.08" width="0.7" height="0.7" fill="#3a4cf0" opacity="0.37"/>
<rect x="423.75" y="527.69" width="0.7" height="0.7" fill="#3a4cf0" opacity="0.55"/>
<rect x="411.28" y="530.47" width="0.7" height="0.7" fill="#3a4cf0" opacity="0.34"/>
<rect x="412.93" y="535.19" width="0.7" height="0.7" fill="#3a4cf0" opacity="0.53"/>
<rect x="407.58" y="533.03" width="0.7" height="0.7" fill="#3a4cf0" opacity="0.4"/>
<rect x="408.34" y="527.31" width="0.7" height="0.7" fill="#3a4cf0" opacity="0.37"/>
<rect x="410.81" y="533.06" width="0.7" height="0.7" fill="#3a4cf0" opacity="0.32"/>
<rect x="424.86" y="521.41" width="0.7" height="0.7" fill="#3a4cf0" opacity="0.49"/>
<rect x="426.41" y="530.49" width="0.7" height="0.7" fill="#3a4cf0" opacity="0.25"/>
<rect x="415.43" y="535.64" width="0.7" height="0.7" fill="#3a4cf0" opacity="0.27"/>
<rect x="419.47" y="536.14" width="0.7" height="0.7" fill="#3a4cf0" opacity="0.32"/>
<rect x="400.55" y="534.51" width="0.7" height="0.7" fill="#3a4cf0" opacity="0.31"/>
<rect x="416.65" y="530.67" width="0.7" height="0.7" fill="#3a4cf0" opacity="0.49"/>
<rect x="402.58" y="528.12" width="0.7" height="0.7" fill="#3a4cf0" opacity="0.29"/>
<rect x="413.38" y="527.07" width="0.7" height="0.7" fill="#3a4cf0" opacity="0.4"/>
<rect x="414.25" y="524.68" width="0.7" height="0.7" fill="#3a4cf0" opacity="0.24"/>
<rect x="419.48" y="535.27" width="0.7" height="0.7" fill="#3a4cf0" opacity="0.41"/>
<rect x="415.02" y="521.87" width="0.7" height="0.7" fill="#3a4cf0" opacity="0.45"/>
<rect x="415.1" y="532.94" width="0.7" height="0.7" fill="#3a4cf0" opacity="0.23"/>
<rect x="421.8" y="528" width="0.7" height="0.7" fill="#3a4cf0" opacity="0.36"/>
<rect x="415.64" y="531.88" width="0.7" height="0.7" fill="#3a4cf0" opacity="0.4"/>
<rect x="421.59" y="529.92" width="0.7" height="0.7" fill="#3a4cf0" opacity="0.29"/>
<rect x="427.03" y="533.52" width="0.7" height="0.7" fill="#3a4cf0" opacity="0.31"/>
<rect x="423.61" y="526.63" width="0.7" height="0.7" fill="#3a4cf0" opacity="0.41"/>
<rect x="422.01" y="529.84" width="0.7" height="0.7" fill="#3a4cf0" opacity="0.29"/>
<rect x="417.92" y="533.85" width="0.7" height="0.7" fill="#3a4cf0" opacity="0.27"/>
<rect x="420.55" y="530.41" width="0.7" height="0.7" fill="#3a4cf0" opacity="0.24"/>
<rect x="412.36" y="530.17" width="0.7" height="0.7" fill="#3a4cf0" opacity="0.22"/>
<rect x="422.95" y="536.23" width="0.7" height="0.7" fill="#3a4cf0" opacity="0.29"/>
<rect x="426.98" y="530.25" width="0.7" height="0.7" fill="#3a4cf0" opacity="0.32"/>
<rect x="420.26" y="534.11" width="0.7" height="0.7" fill="#3a4cf0" opacity="0.48"/>
<rect x="419.12" y="534.14" width="0.7" height="0.7" fill="#3a4cf0" opacity="0.33"/>
<rect x="419.84" y="530.29" width="0.7" height="0.7" fill="#3a4cf0" opacity="0.38"/>
<rect x="412.11" y="522.76" width="0.7" height="0.7" fill="#3a4cf0" opacity="0.51"/>
<rect x="409.16" y="524.96" width="0.7" height="0.7" fill="#3a4cf0" opacity="0.51"/>
<rect x="420.76" y="534.35" width="0.7" height="0.7" fill="#3a4cf0" opacity="0.29"/>
<rect x="417.42" y="527.09" width="0.7" height="0.7" fill="#3a4cf0" opacity="0.4"/>
<rect x="421.77" y="540.25" width="0.7" height="0.7" fill="#3a4cf0" opacity="0.31"/>
<rect x="415.65" y="529.36" width="0.7" height="0.7" fill="#3a4cf0" opacity="0.33"/>
<rect x="411.58" y="532.65" width="0.7" height="0.7" fill="#3a4cf0" opacity="0.24"/>
<rect x="416.02" y="527.81" width="0.7" height="0.7" fill="#3a4cf0" opacity="0.52"/>
<rect x="418.29" y="522.82" width="0.7" height="0.7" fill="#3a4cf0" opacity="0.25"/>
<rect x="416.61" y="531.97" width="0.7" height="0.7" fill="#3a4cf0" opacity="0.43"/>
<rect x="413.98" y="534.32" width="0.7" height="0.7" fill="#3a4cf0" opacity="0.44"/>
<rect x="416.89" y="538.75" width="0.7" height="0.7" fill="#3a4cf0" opacity="0.42"/>
<rect x="417.75" y="532.8" width="0.7" height="0.7" fill="#3a4cf0" opacity="0.46"/>
<rect x="417.14" y="531.96" width="0.7" height="0.7" fill="#3a4cf0" opacity="0.31"/>
<rect x="415.85" y="531.77" width="0.7" height="0.7" fill="#3a4cf0" opacity="0.42"/>
<rect x="420.56" y="537.92" width="0.7" height="0.7" fill="#3a4cf0" opacity="0.45"/>
<rect x="416.65" y="535.27" width="0.7" height="0.7" fill="#3a4cf0" opacity="0.32"/>
<rect x="425.52" y="531.05" width="0.7" height="0.7" fill="#3a4cf0" opacity="0.3"/>
<rect x="425.5" y="533.09" width="0.7" height="0.7" fill="#3a4cf0" opacity="0.22"/>
<rect x="416.88" y="532.94" width="0.7" height="0.7" fill="#3a4cf0" opacity="0.27"/>
<rect x="410.93" y="521.42" width="0.7" height="0.7" fill="#3a4cf0" opacity="0.46"/>
<rect x="422.92" y="525.57" width="0.7" height="0.7" fill="#3a4cf0" opacity="0.53"/>
<rect x="414.1" y="524.88" width="0.7" height="0.7" fill="#3a4cf0" opacity="0.42"/>
<rect x="415.33" y="531.39" width="0.7" height="0.7" fill="#3a4cf0" opacity="0.35"/>
<rect x="414.2" y="525.91" width="0.7" height="0.7" fill="#3a4cf0" opacity="0.45"/>
<rect x="418.03" y="528.08" width="0.7" height="0.7" fill="#3a4cf0" opacity="0.54"/>
<rect x="421.89" y="530.4" width="0.7" height="0.7" fill="#3a4cf0" opacity="0.34"/>
<rect x="410.42" y="517.95" width="0.7" height="0.7" fill="#3a4cf0" opacity="0.28"/>
<rect x="417.09" y="535.81" width="0.7" height="0.7" fill="#3a4cf0" opacity="0.53"/>
<rect x="414.49" y="533.71" width="0.7" height="0.7" fill="#3a4cf0" opacity="0.25"/>
<rect x="412.98" y="529.6" width="0.7" height="0.7" fill="#3a4cf0" opacity="0.39"/>
<rect x="416.98" y="528.57" width="0.7" height="0.7" fill="#3a4cf0" opacity="0.41"/>
<rect x="409.19" y="532.65" width="0.7" height="0.7" fill="#3a4cf0" opacity="0.24"/>
<rect x="420.79" y="530.1" width="0.7" height="0.7" fill="#3a4cf0" opacity="0.27"/>
<rect x="409.44" y="535.03" width="0.7" height="0.7" fill="#3a4cf0" opacity="0.33"/>
<rect x="428.98" y="527.42" width="0.7" height="0.7" fill="#3a4cf0" opacity="0.23"/>
<rect x="414.16" y="520.03" width="0.7" height="0.7" fill="#3a4cf0" opacity="0.24"/>
<rect x="412.88" y="527.76" width="0.7" height="0.7" fill="#3a4cf0" opacity="0.52"/>
<rect x="412.82" y="526.57" width="0.7" height="0.7" fill="#3a4cf0" opacity="0.43"/>
<rect x="429.3" y="530.09" width="0.7" height="0.7" fill="#3a4cf0" opacity="0.49"/>
<rect x="415.95" y="533.46" width="0.7" height="0.7" fill="#3a4cf0" opacity="0.5"/>
<rect x="419.3" y="529.92" width="0.7" height="0.7" fill="#3a4cf0" opacity="0.49"/>
<rect x="417.6" y="522.53" width="0.7" height="0.7" fill="#3a4cf0" opacity="0.33"/>
<rect x="412.61" y="529.79" width="0.7" height="0.7" fill="#3a4cf0" opacity="0.28"/>
<rect x="422.55" y="532.33" width="0.7" height="0.7" fill="#3a4cf0" opacity="0.49"/>
<rect x="414.05" y="522.65" width="0.7" height="0.7" fill="#3a4cf0" opacity="0.37"/>
<rect x="414.11" y="531.01" width="0.7" height="0.7" fill="#3a4cf0" opacity="0.4"/>
<rect x="417.91" y="531.61" width="0.7" height="0.7" fill="#3a4cf0" opacity="0.27"/>
<rect x="416.74" y="530.7" width="0.7" height="0.7" fill="#3a4cf0" opacity="0.5"/>
<rect x="417.91" y="526.9" width="0.7" height="0.7" fill="#3a4cf0" opacity="0.43"/>
<rect x="412.01" y="530.62" width="0.7" height="0.7" fill="#3a4cf0" opacity="0.35"/>
<rect x="412.47" y="524.53" width="0.7" height="0.7" fill="#3a4cf0" opacity="0.26"/>
<rect x="415.39" y="535.15" width="0.7" height="0.7" fill="#3a4cf0" opacity="0.32"/>
<rect x="417.45" y="532.59" width="0.7" height="0.7" fill="#3a4cf0" opacity="0.36"/>
<rect x="426.7" y="529.43" width="0.7" height="0.7" fill="#3a4cf0" opacity="0.54"/>
<rect x="423.01" y="529.68" width="0.7" height="0.7" fill="#3a4cf0" opacity="0.22"/>
<rect x="413.99" y="526.09" width="0.7" height="0.7" fill="#3a4cf0" opacity="0.4"/>
<rect x="421.84" y="529.66" width="0.7" height="0.7" fill="#3a4cf0" opacity="0.3"/>
<rect x="419.08" y="537.78" width="0.7" height="0.7" fill="#3a4cf0" opacity="0.36"/>
<rect x="422.62" y="534" width="0.7" height="0.7" fill="#3a4cf0" opacity="0.4"/>
<rect x="411.91" y="533.47" width="0.7" height="0.7" fill="#3a4cf0" opacity="0.34"/>
<rect x="418.99" y="532.66" width="0.7" height="0.7" fill="#3a4cf0" opacity="0.39"/>
<rect x="423.77" y="536.16" width="0.7" height="0.7" fill="#3a4cf0" opacity="0.23"/>
<rect x="413.36" y="530.41" width="0.7" height="0.7" fill="#3a4cf0" opacity="0.39"/>
<rect x="402.05" y="527.23" width="0.7" height="0.7" fill="#3a4cf0" opacity="0.23"/>
<rect x="415.29" y="531.85" width="0.7" height="0.7" fill="#3a4cf0" opacity="0.5"/>
<rect x="409.88" y="529.02" width="0.7" height="0.7" fill="#3a4cf0" opacity="0.24"/>
<rect x="418.34" y="521.89" width="0.7" height="0.7" fill="#3a4cf0" opacity="0.26"/>
<rect x="422.53" y="529.72" width="0.7" height="0.7" fill="#3a4cf0" opacity="0.25"/>
<rect x="412.91" y="528.88" width="0.7" height="0.7" fill="#3a4cf0" opacity="0.41"/>
<rect x="417.69" y="534.29" width="0.7" height="0.7" fill="#3a4cf0" opacity="0.35"/>
<rect x="421.7" y="527.41" width="0.7" height="0.7" fill="#3a4cf0" opacity="0.4"/>
<rect x="413.76" y="521.61" width="0.7" height="0.7" fill="#3a4cf0" opacity="0.47"/>
<rect x="403.73" y="536.19" width="0.7" height="0.7" fill="#3a4cf0" opacity="0.53"/>
<rect x="416.56" y="529.83" width="0.7" height="0.7" fill="#3a4cf0" opacity="0.23"/>
<rect x="426.04" y="523.25" width="0.7" height="0.7" fill="#3a4cf0" opacity="0.29"/>
<rect x="418.55" y="535.08" width="0.7" height="0.7" fill="#3a4cf0" opacity="0.4"/>
<rect x="415.8" y="523.74" width="0.7" height="0.7" fill="#3a4cf0" opacity="0.39"/>
<rect x="415.05" y="536.91" width="0.7" height="0.7" fill="#3a4cf0" opacity="0.25"/>
<rect x="420.85" y="527.49" width="0.7" height="0.7" fill="#3a4cf0" opacity="0.48"/>
<rect x="417.53" y="530.79" width="0.7" height="0.7" fill="#3a4cf0" opacity="0.25"/>
<rect x="407.45" y="530.91" width="0.7" height="0.7" fill="#3a4cf0" opacity="0.21"/>
<rect x="420.31" y="537.73" width="0.7" height="0.7" fill="#3a4cf0" opacity="0.34"/>
<rect x="414.13" y="531.36" width="0.7" height="0.7" fill="#3a4cf0" opacity="0.34"/>
<rect x="411" y="532.29" width="0.7" height="0.7" fill="#3a4cf0" opacity="0.51"/>
<rect x="407.51" y="534.03" width="0.7" height="0.7" fill="#3a4cf0" opacity="0.4"/>
<rect x="406.87" y="524.99" width="0.7" height="0.7" fill="#3a4cf0" opacity="0.21"/>
<rect x="422.17" y="536.28" width="0.7" height="0.7" fill="#3a4cf0" opacity="0.3"/>
<rect x="416.01" y="535.66" width="0.7" height="0.7" fill="#3a4cf0" opacity="0.4"/>
<rect x="405.44" y="529.23" width="0.7" height="0.7" fill="#3a4cf0" opacity="0.21"/>
<rect x="409.47" y="528.45" width="0.7" height="0.7" fill="#3a4cf0" opacity="0.47"/>
<rect x="412.43" y="526.79" width="0.7" height="0.7" fill="#3a4cf0" opacity="0.3"/>
<rect x="419.42" y="523.2" width="0.7" height="0.7" fill="#3a4cf0" opacity="0.44"/>
<rect x="414.2" y="537.4" width="0.7" height="0.7" fill="#3a4cf0" opacity="0.38"/>
<rect x="413.98" y="528.21" width="0.7" height="0.7" fill="#3a4cf0" opacity="0.34"/>
<rect x="420.67" y="532.35" width="0.7" height="0.7" fill="#3a4cf0" opacity="0.55"/>
<rect x="414.79" y="534.46" width="0.7" height="0.7" fill="#3a4cf0" opacity="0.25"/>
<rect x="426.1" y="531.37" width="0.7" height="0.7" fill="#3a4cf0" opacity="0.36"/>
<rect x="420.97" y="530.4" width="0.7" height="0.7" fill="#3a4cf0" opacity="0.31"/>
<rect x="415.95" y="525.99" width="0.7" height="0.7" fill="#3a4cf0" opacity="0.32"/>
<rect x="419.14" y="536.32" width="0.7" height="0.7" fill="#3a4cf0" opacity="0.55"/>
<rect x="411.86" y="536.4" width="0.7" height="0.7" fill="#3a4cf0" opacity="0.5"/>
<rect x="421.62" y="532.9" width="0.7" height="0.7" fill="#3a4cf0" opacity="0.3"/>
<rect x="412.41" y="538.86" width="0.7" height="0.7" fill="#3a4cf0" opacity="0.28"/>
<rect x="414.32" y="532.58" width="0.7" height="0.7" fill="#3a4cf0" opacity="0.5"/>
<rect x="414.98" y="528.88" width="0.7" height="0.7" fill="#3a4cf0" opacity="0.54"/>
<rect x="415.29" y="530.04" width="0.7" height="0.7" fill="#3a4cf0" opacity="0.51"/>
<rect x="407.06" y="538.32" width="0.7" height="0.7" fill="#3a4cf0" opacity="0.43"/>
<rect x="411.06" y="534.38" width="0.7" height="0.7" fill="#3a4cf0" opacity="0.22"/>
<rect x="415.6" y="531.63" width="0.7" height="0.7" fill="#3a4cf0" opacity="0.32"/>
<rect x="410.6" y="531.19" width="0.7" height="0.7" fill="#3a4cf0" opacity="0.36"/>
<rect x="427.24" y="531.78" width="0.7" height="0.7" fill="#3a4cf0" opacity="0.55"/>
<rect x="422.76" y="532.9" width="0.7" height="0.7" fill="#3a4cf0" opacity="0.32"/>
<rect x="414.42" y="524.98" width="0.7" height="0.7" fill="#3a4cf0" opacity="0.48"/>
<rect x="411.73" y="533.31" width="0.7" height="0.7" fill="#3a4cf0" opacity="0.39"/>
<rect x="413.37" y="526.47" width="0.7" height="0.7" fill="#3a4cf0" opacity="0.46"/>
<rect x="416.44" y="537.3" width="0.7" height="0.7" fill="#3a4cf0" opacity="0.47"/>
<rect x="413.92" y="537.41" width="0.7" height="0.7" fill="#3a4cf0" opacity="0.36"/>
<rect x="415.81" y="535.79" width="0.7" height="0.7" fill="#3a4cf0" opacity="0.25"/>
<rect x="422.02" y="531.26" width="0.7" height="0.7" fill="#3a4cf0" opacity="0.47"/>
<rect x="414.16" y="524.96" width="0.7" height="0.7" fill="#3a4cf0" opacity="0.21"/>
<rect x="417.88" y="532.05" width="0.7" height="0.7" fill="#3a4cf0" opacity="0.39"/>
<text x="370.5" y="561.6" font-size="10.4" textLength="40.6" lengthAdjust="spacingAndGlyphs" transform="rotate(-90 370.5 561.6)">488-FSC-H</text>
<line x1="366.7" y1="517.8" x2="366.7" y2="398" stroke="#000" stroke-width="0.95"/>
<path d="M364.3 399.6L369.1 399.6L366.7 393.9Z" fill="#000"/>
<text x="396.9" y="593.8" font-size="9.4" textLength="33.3" lengthAdjust="spacingAndGlyphs">PE-Cy7-A</text>
<line x1="433.2" y1="591.7" x2="456" y2="591.7" stroke="#000" stroke-width="1"/>
<path d="M455 589.7L460 591.7L455 593.7Z" fill="#000"/>
<rect x="282.3" y="604.89" width="15.5" height="87.41" fill="#4b5366"/>
<rect x="306.1" y="654.18" width="15.9" height="38.12" fill="#df8f1a"/>
<rect x="330.3" y="637.91" width="15.5" height="54.39" fill="#a6002c"/>
<line x1="290" y1="606" x2="290" y2="602.7" stroke="#000" stroke-width="1"/>
<line x1="287.5" y1="602.7" x2="292.5" y2="602.7" stroke="#000" stroke-width="1"/>
<line x1="314" y1="654.6" x2="314" y2="645.9" stroke="#000" stroke-width="1"/>
<line x1="311.5" y1="645.9" x2="316.5" y2="645.9" stroke="#000" stroke-width="1"/>
<line x1="338" y1="638" x2="338" y2="622.3" stroke="#000" stroke-width="1"/>
<line x1="335.5" y1="622.3" x2="340.5" y2="622.3" stroke="#000" stroke-width="1"/>
<circle cx="284.6" cy="595.8" r="2.1" fill="none" stroke="#000" stroke-width="1.1"/>
<circle cx="295" cy="594.6" r="2.1" fill="none" stroke="#000" stroke-width="1.1"/>
<circle cx="289.7" cy="599.7" r="2.1" fill="none" stroke="#000" stroke-width="1.1"/>
<circle cx="286.2" cy="607.3" r="2.1" fill="none" stroke="#000" stroke-width="1.1"/>
<circle cx="293.4" cy="606.8" r="2.1" fill="none" stroke="#000" stroke-width="1.1"/>
<circle cx="289.7" cy="613.5" r="2.1" fill="none" stroke="#000" stroke-width="1.1"/>
<circle cx="289.7" cy="620.5" r="2.1" fill="none" stroke="#000" stroke-width="1.1"/>
<circle cx="313.9" cy="617.7" r="2.1" fill="none" stroke="#000" stroke-width="1.1"/>
<circle cx="313.9" cy="632.2" r="2.1" fill="none" stroke="#000" stroke-width="1.1"/>
<circle cx="313.9" cy="646.5" r="2.1" fill="none" stroke="#000" stroke-width="1.1"/>
<circle cx="313.9" cy="658.1" r="2.1" fill="none" stroke="#000" stroke-width="1.1"/>
<circle cx="313.9" cy="671.2" r="2.1" fill="none" stroke="#000" stroke-width="1.1"/>
<circle cx="310.7" cy="678.9" r="2.1" fill="none" stroke="#000" stroke-width="1.1"/>
<circle cx="316.9" cy="675.9" r="2.1" fill="none" stroke="#000" stroke-width="1.1"/>
<circle cx="338.2" cy="610.1" r="2.1" fill="none" stroke="#000" stroke-width="1.1"/>
<circle cx="337.7" cy="627.4" r="2.1" fill="none" stroke="#000" stroke-width="1.1"/>
<circle cx="337.7" cy="635.7" r="2.1" fill="none" stroke="#000" stroke-width="1.1"/>
<circle cx="334.9" cy="640.8" r="2.1" fill="none" stroke="#000" stroke-width="1.1"/>
<circle cx="341.2" cy="642.2" r="2.1" fill="none" stroke="#000" stroke-width="1.1"/>
<circle cx="334.9" cy="656.9" r="2.1" fill="none" stroke="#000" stroke-width="1.1"/>
<circle cx="341.2" cy="653" r="2.1" fill="none" stroke="#000" stroke-width="1.1"/>
<line x1="273.8" y1="569" x2="273.8" y2="692.8" stroke="#000" stroke-width="1"/>
<line x1="271.2" y1="692.3" x2="273.8" y2="692.3" stroke="#000" stroke-width="1"/>
<text x="267.8" y="695.4" font-size="8.6" text-anchor="end" textLength="4.9" lengthAdjust="spacingAndGlyphs">0</text>
<line x1="271.2" y1="668.02" x2="273.8" y2="668.02" stroke="#000" stroke-width="1"/>
<text x="267.8" y="671.12" font-size="8.6" text-anchor="end" textLength="9.8" lengthAdjust="spacingAndGlyphs">20</text>
<line x1="271.2" y1="643.74" x2="273.8" y2="643.74" stroke="#000" stroke-width="1"/>
<text x="267.8" y="646.84" font-size="8.6" text-anchor="end" textLength="9.8" lengthAdjust="spacingAndGlyphs">40</text>
<line x1="271.2" y1="619.46" x2="273.8" y2="619.46" stroke="#000" stroke-width="1"/>
<text x="267.8" y="622.56" font-size="8.6" text-anchor="end" textLength="9.8" lengthAdjust="spacingAndGlyphs">60</text>
<line x1="271.2" y1="595.18" x2="273.8" y2="595.18" stroke="#000" stroke-width="1"/>
<text x="267.8" y="598.28" font-size="8.6" text-anchor="end" textLength="9.8" lengthAdjust="spacingAndGlyphs">80</text>
<line x1="271.2" y1="570.9" x2="273.8" y2="570.9" stroke="#000" stroke-width="1"/>
<text x="267.8" y="574" font-size="8.6" text-anchor="end" textLength="14.7" lengthAdjust="spacingAndGlyphs">100</text>
<line x1="273.8" y1="692.3" x2="348.8" y2="692.3" stroke="#000" stroke-width="1.1"/>
<line x1="290" y1="692.3" x2="290" y2="694.7" stroke="#000" stroke-width="1"/>
<line x1="314" y1="692.3" x2="314" y2="694.7" stroke="#000" stroke-width="1"/>
<line x1="338" y1="692.3" x2="338" y2="694.7" stroke="#000" stroke-width="1"/>
<line x1="288.1" y1="569.7" x2="338.2" y2="569.7" stroke="#333" stroke-width="1.2"/>
<text x="313.15" y="571.2" font-size="10.5" text-anchor="middle" textLength="9.6" lengthAdjust="spacingAndGlyphs">***</text>
<line x1="288.1" y1="582.4" x2="314.6" y2="582.4" stroke="#333" stroke-width="1.2"/>
<text x="301.35" y="583.9" font-size="10.5" text-anchor="middle" textLength="9.6" lengthAdjust="spacingAndGlyphs">***</text>
<line x1="311.8" y1="598.1" x2="338.2" y2="598.1" stroke="#333" stroke-width="1.2"/>
<text x="325" y="599.6" font-size="10.5" text-anchor="middle" textLength="3.6" lengthAdjust="spacingAndGlyphs">*</text>
<text x="246" y="657.8" font-size="10" textLength="55.6" lengthAdjust="spacingAndGlyphs" transform="rotate(-90 246 657.8)">% reticulocytes</text>
<text x="292.8" y="703.2" font-size="8.8" text-anchor="end" textLength="29.5" lengthAdjust="spacingAndGlyphs" transform="rotate(-45 292.8 703.2)">Control</text>
<text x="318" y="703" font-size="8.8" text-anchor="end" textLength="20.5" lengthAdjust="spacingAndGlyphs" transform="rotate(-45 318 703)">iECM</text>
<text x="342" y="702.5" font-size="8.8" text-anchor="end" textLength="35" lengthAdjust="spacingAndGlyphs" transform="rotate(-45 342 702.5)">iECM-EV</text>
<rect x="401.6" y="624.4" width="9.9" height="68" fill="#df8f1a"/>
<rect x="416.4" y="690.1" width="10.1" height="2.3" fill="#a6002c"/>
<line x1="396.5" y1="621.5" x2="396.5" y2="692.9" stroke="#000" stroke-width="1"/>
<line x1="393.9" y1="692.4" x2="396.5" y2="692.4" stroke="#000" stroke-width="1"/>
<text x="390.4" y="695.5" font-size="8.6" text-anchor="end" textLength="12.6" lengthAdjust="spacingAndGlyphs">0.0</text>
<line x1="393.9" y1="658.4" x2="396.5" y2="658.4" stroke="#000" stroke-width="1"/>
<text x="390.4" y="661.5" font-size="8.6" text-anchor="end" textLength="12.6" lengthAdjust="spacingAndGlyphs">0.5</text>
<line x1="393.9" y1="624.4" x2="396.5" y2="624.4" stroke="#000" stroke-width="1"/>
<text x="390.4" y="627.5" font-size="8.6" text-anchor="end" textLength="12.6" lengthAdjust="spacingAndGlyphs">1.0</text>
<line x1="396.5" y1="692.4" x2="429.9" y2="692.4" stroke="#000" stroke-width="1.1"/>
<line x1="406.3" y1="692.4" x2="406.3" y2="695" stroke="#000" stroke-width="1"/>
<line x1="421.5" y1="692.4" x2="421.5" y2="695" stroke="#000" stroke-width="1"/>
<text x="372.5" y="695.2" font-size="10" textLength="77" lengthAdjust="spacingAndGlyphs" transform="rotate(-90 372.5 695.2)">Normalized EV count</text>
<text x="410" y="704" font-size="8.8" text-anchor="end" textLength="21" lengthAdjust="spacingAndGlyphs" transform="rotate(-45 410 704)">iECM</text>
<text x="425.8" y="704" font-size="8.8" text-anchor="end" textLength="35" lengthAdjust="spacingAndGlyphs" transform="rotate(-45 425.8 704)">iECM-EV</text>
<text x="7.6" y="589.3" font-size="12.6" font-weight="bold" fill="#000">F</text>
<rect x="61.75" y="702.99" width="16.5" height="7.01" fill="#4b5366"/>
<rect x="87.5" y="673.97" width="16.75" height="36.03" fill="#6aaae4"/>
<rect x="113" y="672.04" width="17" height="37.96" fill="#df8f1a"/>
<rect x="137" y="700.09" width="17" height="9.91" fill="#a6002c"/>
<line x1="70" y1="703" x2="70" y2="700.5" stroke="#000" stroke-width="1"/>
<line x1="67.5" y1="700.5" x2="72.5" y2="700.5" stroke="#000" stroke-width="1"/>
<line x1="95.9" y1="674" x2="95.9" y2="661.3" stroke="#000" stroke-width="1"/>
<line x1="92.4" y1="661.3" x2="99.4" y2="661.3" stroke="#000" stroke-width="1"/>
<line x1="121.5" y1="672" x2="121.5" y2="657.5" stroke="#000" stroke-width="1"/>
<line x1="118" y1="657.5" x2="125" y2="657.5" stroke="#000" stroke-width="1"/>
<line x1="145.5" y1="700" x2="145.5" y2="696.3" stroke="#000" stroke-width="1"/>
<line x1="143" y1="696.3" x2="148" y2="696.3" stroke="#000" stroke-width="1"/>
<circle cx="61.75" cy="700" r="2.1" fill="none" stroke="#000" stroke-width="1.1"/>
<circle cx="70" cy="700" r="2.1" fill="none" stroke="#000" stroke-width="1.1"/>
<circle cx="75.75" cy="696.3" r="2.1" fill="none" stroke="#000" stroke-width="1.1"/>
<circle cx="64.25" cy="706.3" r="2.1" fill="none" stroke="#000" stroke-width="1.1"/>
<circle cx="70" cy="706.3" r="2.1" fill="none" stroke="#000" stroke-width="1.1"/>
<circle cx="76.25" cy="706.3" r="2.1" fill="none" stroke="#000" stroke-width="1.1"/>
<circle cx="95.9" cy="626.3" r="2.1" fill="none" stroke="#000" stroke-width="1.1"/>
<circle cx="95.75" cy="650" r="2.1" fill="none" stroke="#000" stroke-width="1.1"/>
<circle cx="95.75" cy="675" r="2.1" fill="none" stroke="#000" stroke-width="1.1"/>
<circle cx="95.75" cy="683" r="2.1" fill="none" stroke="#000" stroke-width="1.1"/>
<circle cx="92.5" cy="703.8" r="2.1" fill="none" stroke="#000" stroke-width="1.1"/>
<circle cx="99.25" cy="703.8" r="2.1" fill="none" stroke="#000" stroke-width="1.1"/>
<circle cx="121.2" cy="608.5" r="2.1" fill="none" stroke="#000" stroke-width="1.1"/>
<circle cx="121.25" cy="661.3" r="2.1" fill="none" stroke="#000" stroke-width="1.1"/>
<circle cx="121.25" cy="670.5" r="2.1" fill="none" stroke="#000" stroke-width="1.1"/>
<circle cx="121.25" cy="687" r="2.1" fill="none" stroke="#000" stroke-width="1.1"/>
<circle cx="121.25" cy="698" r="2.1" fill="none" stroke="#000" stroke-width="1.1"/>
<circle cx="121.25" cy="705.8" r="2.1" fill="none" stroke="#000" stroke-width="1.1"/>
<circle cx="145.5" cy="682.5" r="2.1" fill="none" stroke="#000" stroke-width="1.1"/>
<circle cx="145.5" cy="697.5" r="2.1" fill="none" stroke="#000" stroke-width="1.1"/>
<circle cx="142.5" cy="706.3" r="2.1" fill="none" stroke="#000" stroke-width="1.1"/>
<circle cx="148.75" cy="704.5" r="2.1" fill="none" stroke="#000" stroke-width="1.1"/>
<line x1="54.25" y1="588" x2="54.25" y2="710.5" stroke="#000" stroke-width="1"/>
<line x1="51.65" y1="710" x2="54.25" y2="710" stroke="#000" stroke-width="1"/>
<text x="47.8" y="713.1" font-size="8.6" text-anchor="end" textLength="5" lengthAdjust="spacingAndGlyphs">0</text>
<line x1="51.65" y1="685.82" x2="54.25" y2="685.82" stroke="#000" stroke-width="1"/>
<text x="47.8" y="688.92" font-size="8.6" text-anchor="end" textLength="10" lengthAdjust="spacingAndGlyphs">20</text>
<line x1="51.65" y1="661.64" x2="54.25" y2="661.64" stroke="#000" stroke-width="1"/>
<text x="47.8" y="664.74" font-size="8.6" text-anchor="end" textLength="10" lengthAdjust="spacingAndGlyphs">40</text>
<line x1="51.65" y1="637.46" x2="54.25" y2="637.46" stroke="#000" stroke-width="1"/>
<text x="47.8" y="640.56" font-size="8.6" text-anchor="end" textLength="10" lengthAdjust="spacingAndGlyphs">60</text>
<line x1="51.65" y1="613.28" x2="54.25" y2="613.28" stroke="#000" stroke-width="1"/>
<text x="47.8" y="616.38" font-size="8.6" text-anchor="end" textLength="10" lengthAdjust="spacingAndGlyphs">80</text>
<line x1="51.65" y1="589.1" x2="54.25" y2="589.1" stroke="#000" stroke-width="1"/>
<text x="47.8" y="592.2" font-size="8.6" text-anchor="end" textLength="15" lengthAdjust="spacingAndGlyphs">100</text>
<line x1="54.25" y1="710" x2="156.25" y2="710" stroke="#000" stroke-width="1.1"/>
<line x1="70" y1="710" x2="70" y2="712.4" stroke="#000" stroke-width="1"/>
<line x1="95.9" y1="710" x2="95.9" y2="712.4" stroke="#000" stroke-width="1"/>
<line x1="121.5" y1="710" x2="121.5" y2="712.4" stroke="#000" stroke-width="1"/>
<line x1="145.5" y1="710" x2="145.5" y2="712.4" stroke="#000" stroke-width="1"/>
<line x1="70.2" y1="590.6" x2="145.8" y2="590.6" stroke="#333" stroke-width="1.2"/>
<text x="108" y="588.4" font-size="7.3" text-anchor="middle">ns</text>
<line x1="70.2" y1="602.3" x2="120.9" y2="602.3" stroke="#333" stroke-width="1.2"/>
<text x="95.55" y="603.8" font-size="10.5" text-anchor="middle" textLength="3.6" lengthAdjust="spacingAndGlyphs">*</text>
<line x1="70.2" y1="615.2" x2="96" y2="615.2" stroke="#333" stroke-width="1.2"/>
<text x="83.1" y="616.7" font-size="10.5" text-anchor="middle" textLength="3.6" lengthAdjust="spacingAndGlyphs">*</text>
<line x1="122.5" y1="650.9" x2="145.2" y2="650.9" stroke="#333" stroke-width="1.2"/>
<text x="133.85" y="652.4" font-size="10.5" text-anchor="middle" textLength="3.6" lengthAdjust="spacingAndGlyphs">*</text>
<text x="27.3" y="676.6" font-size="10" textLength="57" lengthAdjust="spacingAndGlyphs" transform="rotate(-90 27.3 676.6)">% oxidized cells</text>
<text x="72.5" y="721" font-size="8.8" text-anchor="end" textLength="29.5" lengthAdjust="spacingAndGlyphs" transform="rotate(-45 72.5 721)">Control</text>
<text x="100" y="719.5" font-size="8.8" text-anchor="end" textLength="53.5" lengthAdjust="spacingAndGlyphs" transform="rotate(-45 100 719.5)">EV 10 μg/mL</text>
<text x="123.6" y="721.6" font-size="8.8" text-anchor="end" textLength="20.5" lengthAdjust="spacingAndGlyphs" transform="rotate(-45 123.6 721.6)">iECM</text>
<text x="149.5" y="721" font-size="8.8" text-anchor="end" textLength="35.5" lengthAdjust="spacingAndGlyphs" transform="rotate(-45 149.5 721)">iECM-EV</text>
<rect x="0" y="0" width="520" height="1" fill="#000"/>
<rect x="0" y="0" width="1" height="766" fill="#000"/>
<rect x="519" y="0" width="1" height="766" fill="#000"/>
<rect x="0" y="765" width="520" height="1" fill="#000"/>
</svg>
</body></html>
